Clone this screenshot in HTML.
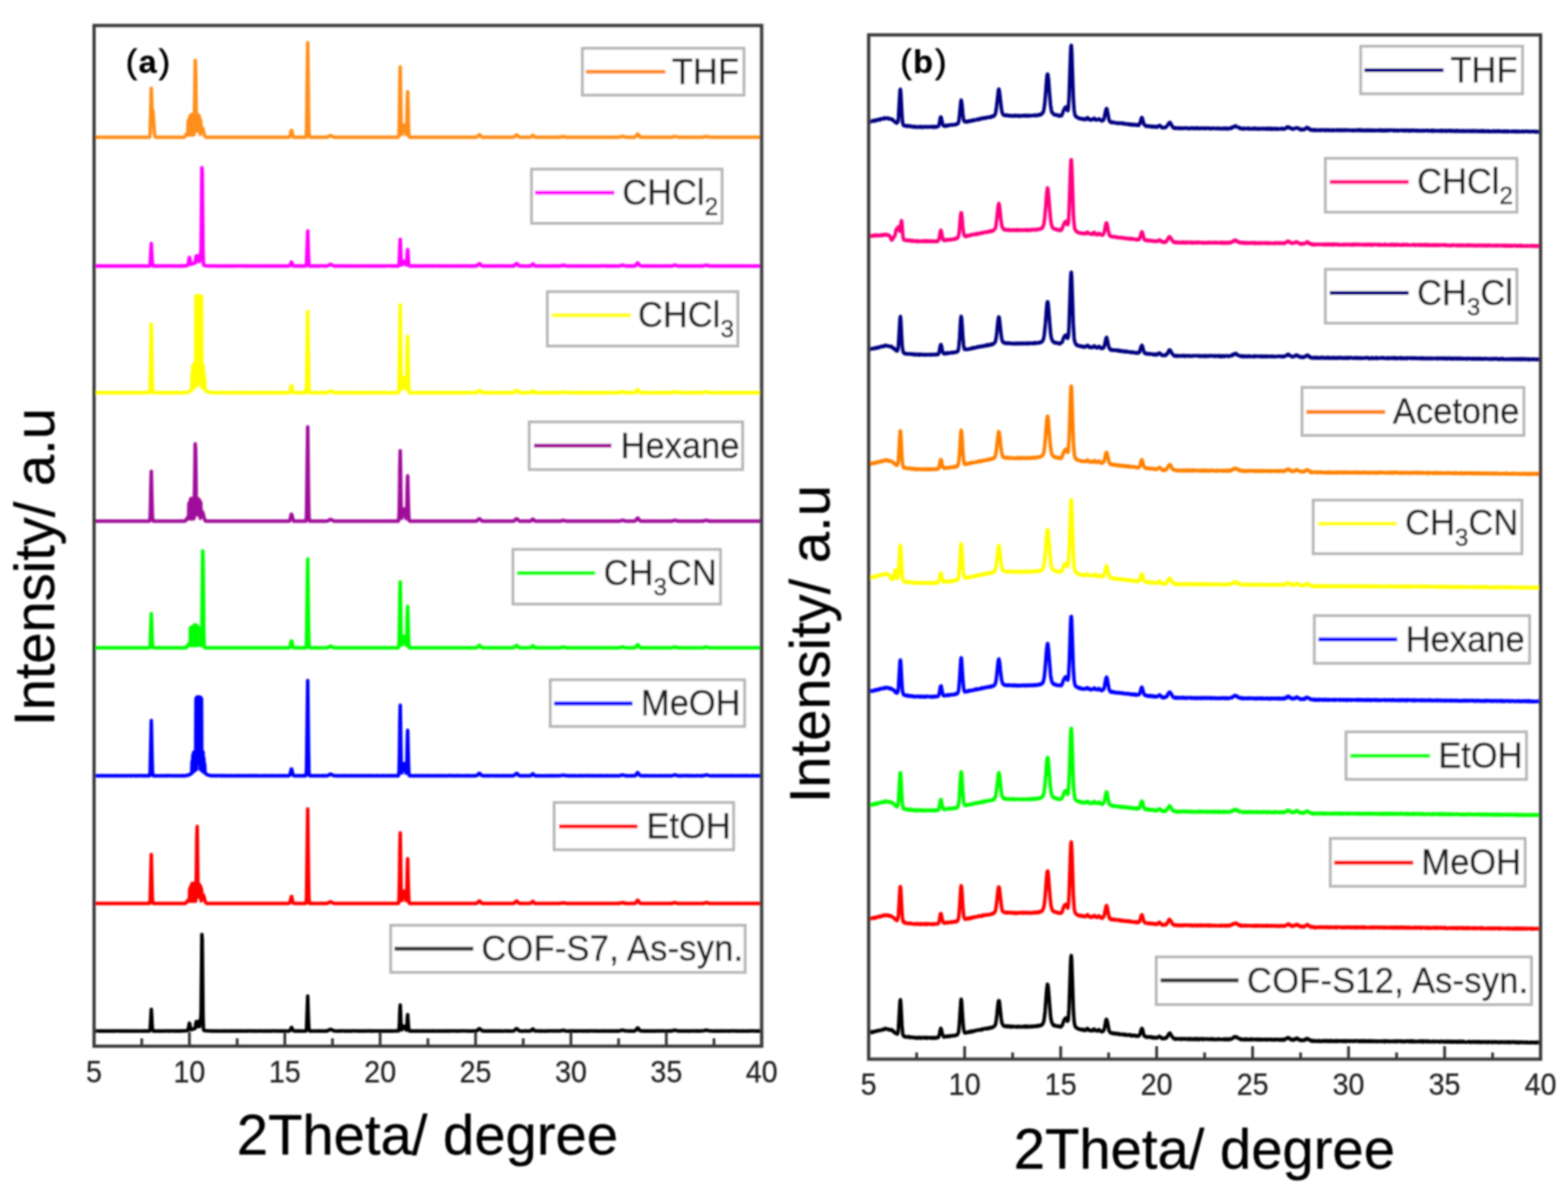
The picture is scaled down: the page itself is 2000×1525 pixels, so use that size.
<!DOCTYPE html>
<html><head><meta charset="utf-8"><title>XRD patterns</title>
<style>html,body{margin:0;padding:0;background:#fff;width:2000px;height:1525px;overflow:hidden}svg{display:block}</style>
</head><body>
<svg width="2000" height="1525" viewBox="0 0 2000 1525" font-family='"Liberation Sans", Arial, sans-serif'>
<rect width="100%" height="100%" fill="#fff"/>
<defs><filter id="soft" x="-5%" y="-5%" width="110%" height="110%"><feGaussianBlur stdDeviation="0.8"/></filter></defs>
<g filter="url(#soft)">
<path d="M120.0 175.0L121.0 175.1L123.0 174.9L124.5 175.1L125.0 174.9L126.0 174.9L126.5 175.1L127.5 174.9L128.0 175.1L130.5 174.9L131.0 175.0L133.0 174.9L134.5 175.1L137.5 174.9L138.5 175.1L141.5 174.9L142.0 175.1L143.5 175.0L144.0 175.1L145.0 174.9L146.0 175.1L146.5 175.0L147.0 175.1L148.0 174.9L149.0 175.1L150.0 174.9L151.0 175.1L152.0 174.9L153.5 174.9L154.0 175.1L154.5 174.9L156.0 174.9L156.5 175.1L158.0 174.9L159.5 174.9L160.0 175.1L161.0 174.9L161.5 175.1L162.0 174.9L163.0 175.1L164.0 174.9L164.5 175.1L165.0 174.9L166.0 175.1L167.5 174.9L171.0 175.1L173.5 174.9L174.0 175.1L175.5 174.9L176.5 175.1L177.0 174.9L177.5 175.1L180.0 174.9L180.5 175.1L181.0 174.9L182.5 175.1L184.0 174.9L184.5 175.1L185.0 174.9L186.5 175.1L187.5 174.9L188.0 175.1L188.5 174.9L190.0 175.0L190.5 174.8L191.0 174.3L191.5 170.4L193.0 112.5L194.0 145.5L194.5 140.5L195.0 141.2L197.0 169.4L197.5 172.9L198.0 174.3L198.5 174.9L199.0 174.8L199.5 175.0L200.5 175.1L201.0 174.9L201.5 175.1L202.0 174.9L203.5 175.1L205.5 175.1L206.0 175.0L209.0 175.1L212.0 174.9L213.0 175.1L214.5 175.0L216.5 175.1L217.0 174.9L217.5 175.1L218.0 174.9L218.5 175.0L219.5 174.9L221.5 175.1L222.5 174.9L223.5 175.1L224.5 174.9L225.0 175.1L228.0 174.9L230.0 175.1L232.0 174.9L233.0 175.1L234.5 175.1L236.0 174.0L237.5 171.3L238.0 171.0L238.5 171.3L239.0 172.1L239.5 172.1L240.0 154.7L240.5 172.0L241.0 152.1L241.5 171.9L242.0 149.6L242.5 171.9L243.0 147.1L243.5 172.0L244.0 147.4L244.5 172.1L245.0 146.1L245.5 171.9L246.0 146.6L246.5 171.9L247.0 147.4L247.5 171.4L248.5 116.3L249.0 77.1L249.5 84.3L250.5 161.9L251.0 146.4L251.5 167.1L252.0 146.3L252.5 166.9L253.0 148.0L253.5 166.9L254.0 147.5L254.5 167.0L255.0 151.5L255.5 171.4L256.0 153.7L256.5 167.2L257.5 163.6L258.0 163.0L258.5 163.6L259.0 165.1L260.0 169.6L261.0 173.1L261.5 174.0L262.5 174.8L263.5 175.1L264.0 175.0L266.0 175.1L267.5 174.9L268.5 175.1L270.0 174.9L270.5 175.1L273.0 174.9L273.5 175.1L275.0 174.9L276.5 175.1L277.5 174.9L278.0 175.1L278.5 174.9L279.0 175.1L279.5 174.9L280.5 175.1L281.5 174.9L285.0 175.1L285.5 174.9L291.5 175.1L292.0 174.9L293.0 175.1L294.5 174.9L296.0 175.0L296.5 174.9L297.0 175.1L298.0 175.0L300.0 175.1L300.5 174.9L302.0 175.1L304.0 174.9L305.5 175.1L307.0 174.9L308.0 175.1L308.5 174.9L309.0 175.1L309.5 174.9L311.0 175.1L313.0 174.9L313.5 175.1L314.0 174.9L318.5 174.9L321.0 175.1L322.0 175.1L322.5 174.9L324.0 175.1L325.0 174.9L325.5 175.1L326.0 174.9L326.5 175.1L327.5 174.9L328.5 175.1L329.5 174.9L330.0 175.1L331.0 175.1L331.5 174.9L332.5 175.1L333.0 174.9L335.0 175.1L335.5 174.9L336.5 175.1L339.5 174.9L340.0 175.0L342.5 174.9L343.5 175.1L344.5 174.9L345.0 174.9L345.5 175.1L347.0 174.9L349.0 175.0L349.5 174.9L350.5 175.1L351.0 174.9L352.0 175.1L354.5 174.9L355.0 175.1L357.5 175.0L359.0 175.1L360.0 174.9L360.5 175.1L368.5 174.9L369.0 174.9L369.5 174.4L370.5 171.3L371.5 166.3L372.0 166.2L373.5 172.8L374.0 174.3L374.5 174.8L376.0 175.1L376.5 174.9L377.5 175.1L380.5 174.9L381.5 175.1L382.5 175.0L384.0 175.1L385.0 175.1L385.5 174.9L386.5 175.1L387.0 174.9L387.5 175.1L388.0 174.9L390.0 175.0L390.5 173.7L391.0 166.1L392.5 54.6L393.5 139.8L394.0 167.2L394.5 174.1L395.0 174.9L395.5 175.1L397.5 174.9L399.5 175.1L400.5 174.9L401.0 175.1L401.5 175.1L402.0 174.9L402.5 175.1L403.0 175.0L404.0 175.1L404.5 174.9L407.0 175.1L408.5 174.9L409.0 175.0L410.5 174.9L411.0 175.0L413.5 174.9L416.0 175.1L417.0 174.9L418.0 174.5L418.5 174.6L420.5 173.2L421.5 173.0L423.5 173.6L424.5 174.4L425.5 174.8L426.0 174.7L428.0 175.0L430.0 174.9L430.5 175.1L433.0 174.9L434.5 175.1L435.0 174.9L436.0 175.1L437.5 174.9L440.5 175.1L441.0 174.9L442.5 175.1L444.0 174.9L444.5 175.1L445.0 174.9L448.0 175.1L448.5 174.9L451.0 175.1L452.5 174.9L453.5 175.1L454.5 174.9L456.0 175.1L458.5 174.9L460.0 175.1L461.0 174.9L464.0 174.9L466.0 175.1L467.0 174.9L468.0 175.1L469.0 174.9L471.0 175.1L472.0 175.1L472.5 174.9L473.5 175.1L474.5 174.9L475.5 175.1L476.0 174.9L477.5 175.1L479.0 174.9L479.5 175.1L481.5 175.0L482.0 175.1L483.0 175.0L485.0 175.1L485.5 175.0L489.0 175.1L492.5 174.9L493.5 175.1L494.5 174.9L496.0 174.9L496.5 175.1L497.0 174.9L499.0 175.1L500.0 174.9L501.5 175.1L502.0 174.9L504.5 175.1L507.0 174.9L507.5 175.1L508.0 174.9L508.5 174.1L509.0 168.2L509.5 145.7L510.0 105.9L510.5 85.2L511.5 149.1L512.0 169.3L512.5 171.5L514.5 161.0L515.0 159.6L515.5 159.6L516.0 161.2L518.0 171.6L518.5 170.3L519.0 155.4L519.5 129.9L520.0 117.1L521.0 158.9L521.5 171.5L522.0 174.5L522.5 174.9L525.5 175.1L526.0 174.9L527.0 174.9L527.5 175.1L528.0 174.9L528.5 175.1L529.5 175.1L530.0 174.9L531.0 175.1L531.5 174.9L533.0 175.1L534.5 174.9L536.0 175.1L536.5 174.9L537.0 175.1L537.5 174.9L539.0 174.9L539.5 175.1L541.0 174.9L542.5 175.1L544.0 174.9L545.5 175.1L547.0 174.9L548.0 175.1L550.0 174.9L550.5 175.1L551.5 174.9L555.5 175.1L556.5 174.9L558.0 175.1L559.5 174.9L560.0 175.1L560.5 174.9L562.5 175.1L563.0 174.9L564.0 175.1L565.0 174.9L567.5 174.9L568.0 175.1L568.5 175.0L570.5 175.1L572.5 174.9L574.0 175.1L576.0 174.9L580.0 175.1L581.0 174.9L582.0 175.1L584.0 174.9L585.0 175.1L585.5 175.0L586.5 175.1L587.0 174.9L587.5 175.1L589.0 174.9L590.5 175.1L591.0 174.9L591.5 175.1L593.0 174.9L593.5 175.1L594.0 174.9L594.5 175.1L596.5 174.9L597.5 175.1L599.0 174.9L599.5 175.1L600.0 174.9L600.5 175.1L601.0 174.9L602.0 175.1L602.5 174.9L603.0 175.0L604.0 174.9L605.0 175.1L607.5 174.9L608.5 174.5L609.0 174.2L609.5 173.4L611.0 172.0L611.5 172.0L612.5 172.5L614.0 174.2L615.0 174.8L615.5 174.7L616.0 175.0L616.5 174.9L617.0 175.1L618.5 175.0L621.0 175.0L621.5 175.1L626.0 175.0L626.5 175.1L627.5 174.9L628.5 175.1L634.0 174.9L634.5 175.1L637.5 174.9L638.5 175.1L640.0 175.0L640.5 175.1L641.0 174.9L642.5 175.1L643.0 174.9L643.5 175.1L644.0 174.9L645.0 175.1L645.5 174.9L647.5 174.9L648.0 175.1L651.0 174.9L651.5 175.1L652.0 174.9L653.5 175.1L654.5 174.8L655.5 174.8L656.0 174.5L658.5 172.0L660.0 172.6L661.5 174.3L663.0 175.0L663.5 174.9L664.0 175.1L665.5 174.9L666.5 175.1L667.5 174.9L669.0 175.1L670.0 174.9L673.0 175.1L674.0 174.9L675.0 175.1L676.5 174.9L677.0 174.6L677.5 174.6L679.5 172.4L680.5 173.1L681.5 174.4L683.0 175.0L685.0 174.9L686.0 175.1L686.5 174.9L688.5 175.1L689.5 174.9L695.0 175.1L695.5 174.9L696.0 175.1L696.5 174.9L699.5 175.1L700.0 174.9L701.5 175.0L702.5 174.9L704.5 175.1L705.0 174.9L706.0 174.9L708.5 175.1L709.0 174.9L709.5 175.1L711.0 175.1L713.0 174.8L714.0 175.0L715.5 174.8L716.0 174.5L716.5 174.6L717.0 174.3L718.0 174.1L719.5 174.4L720.0 174.3L721.5 174.7L722.0 175.0L722.5 174.8L724.0 175.1L724.5 174.9L725.5 175.1L726.0 174.9L727.0 175.1L727.5 174.9L730.0 174.9L730.5 175.1L732.0 174.9L733.5 174.9L734.5 175.1L735.5 175.0L736.0 175.1L737.0 174.9L741.0 175.1L747.0 174.9L749.0 175.1L751.5 174.9L752.0 175.1L753.5 174.9L755.5 175.1L757.5 174.9L758.0 175.1L758.5 175.0L760.0 175.1L760.5 174.9L762.0 174.9L762.5 175.1L764.5 174.9L767.0 175.0L767.5 174.9L769.0 175.0L769.5 174.9L771.0 175.1L772.0 174.9L775.0 175.1L775.5 174.9L778.0 174.9L780.0 175.1L780.5 174.9L781.5 175.1L782.0 174.9L783.5 175.1L784.5 174.9L785.0 175.0L785.5 174.9L788.5 175.0L790.0 174.8L791.5 174.6L792.5 174.1L794.0 173.9L796.0 174.5L796.5 174.4L798.5 174.9L800.0 175.0L802.0 174.9L803.0 175.1L805.0 174.9L808.0 175.1L809.5 174.9L810.5 174.5L811.5 173.5L812.5 171.7L813.5 170.9L814.0 171.3L816.0 174.5L818.0 175.0L819.0 174.8L819.5 175.0L824.0 175.1L824.5 175.0L825.5 175.1L826.0 174.9L828.0 175.1L829.0 174.9L832.0 175.1L836.0 174.9L837.5 175.1L838.0 174.9L839.0 175.1L840.0 174.9L841.0 175.1L841.5 174.9L843.0 175.1L844.5 174.9L845.0 175.1L846.0 175.0L850.0 175.1L851.0 174.9L852.0 175.1L853.5 174.9L855.0 175.1L855.5 174.9L856.0 175.0L858.0 174.8L858.5 174.6L859.0 174.2L859.5 174.3L860.5 173.9L866.0 175.1L867.0 174.9L869.0 175.1L869.5 175.0L871.0 175.1L871.5 174.9L872.5 174.9L873.0 175.1L873.5 174.9L875.5 174.9L877.0 175.0L880.5 174.9L881.0 175.1L882.0 174.9L883.5 175.1L884.0 174.9L884.5 175.1L885.5 175.0L886.0 175.1L887.0 174.9L888.0 175.0L889.0 174.9L889.5 175.1L892.0 175.1L893.0 174.9L895.5 175.1L897.0 174.7L898.0 174.8L898.5 174.4L901.0 174.0L903.0 174.6L903.5 174.4L904.0 174.8L905.5 174.9L906.0 175.1L906.5 174.8L907.0 175.0L909.5 175.1L911.5 174.9L912.0 175.1L913.0 174.9L915.0 175.1L919.0 174.9L921.5 175.1L922.0 174.9L922.5 175.1L924.0 174.9L924.5 175.1L925.0 175.0L925.5 175.1L926.0 174.9L927.0 175.1L927.5 174.9L929.0 175.1L930.0 174.9L931.0 175.1L931.5 174.9L932.0 175.0L933.5 174.9L934.5 175.1L937.0 174.9L937.5 175.1L942.0 175.0L942.5 174.9L943.0 175.0L945.0 175.1L945.5 174.9L946.5 175.1L947.5 174.9L949.5 175.1L950.0 174.9L950.5 175.1L951.5 174.9L952.0 175.1L954.5 175.0L955.0 175.1L955.5 174.9L956.0 175.1L957.0 174.9L957.5 175.1L959.0 175.1L959.5 174.9L960.5 175.0L961.0 174.9L962.0 175.1L963.0 174.9L963.5 175.1L965.5 175.1L966.5 174.9L968.0 174.9L969.0 175.1L970.0 174.9L971.5 175.1" fill="none" stroke="#FF8F1A" stroke-width="4.5" stroke-linejoin="round"/>
<path d="M120.0 339.2L121.0 339.2L122.0 339.1L123.5 339.3L127.0 339.1L127.5 339.3L128.0 339.1L128.5 339.3L129.0 339.1L129.5 339.3L130.0 339.2L131.0 339.3L131.5 339.1L132.5 339.3L133.5 339.1L134.0 339.3L135.0 339.1L137.0 339.2L137.5 339.1L138.0 339.3L138.5 339.1L139.5 339.3L142.5 339.1L144.0 339.3L145.0 339.2L146.5 339.3L147.0 339.1L149.0 339.3L150.0 339.1L150.5 339.3L152.0 339.1L153.5 339.3L154.0 339.1L155.5 339.3L156.0 339.1L157.5 339.2L158.0 339.1L160.5 339.3L161.0 339.2L161.5 339.3L162.0 339.1L162.5 339.3L163.5 339.1L164.5 339.3L165.0 339.1L166.0 339.3L168.0 339.1L169.5 339.3L170.5 339.1L172.0 339.3L173.0 339.1L175.0 339.1L175.5 339.3L176.5 339.1L177.5 339.3L178.0 339.1L178.5 339.3L180.5 339.1L182.5 339.3L183.0 339.1L183.5 339.3L184.5 339.1L185.5 339.3L190.5 339.2L191.0 338.9L191.5 337.1L193.0 310.6L194.0 330.9L194.5 337.4L195.0 339.1L195.5 339.3L197.5 339.1L199.0 339.3L201.0 339.1L202.0 339.3L203.0 339.1L204.5 339.3L205.5 339.1L208.0 339.3L209.0 339.1L211.0 339.3L212.5 339.1L213.0 339.3L213.5 339.1L216.0 339.1L216.5 339.3L218.0 339.1L219.5 339.3L220.0 339.1L221.5 339.3L222.0 339.1L225.0 339.3L231.5 339.0L232.0 339.2L232.5 339.1L233.0 339.3L234.0 339.1L235.0 339.1L236.0 338.8L237.0 338.9L238.0 338.7L239.5 338.3L240.0 337.1L241.5 328.3L242.0 329.1L243.0 335.6L243.5 336.9L244.0 336.9L245.0 336.2L245.5 336.3L247.0 335.6L248.5 335.2L249.0 335.4L250.0 327.3L250.5 326.4L251.0 328.6L251.5 333.0L252.0 332.7L252.5 328.5L253.0 326.1L253.5 327.6L254.0 331.5L254.5 333.4L255.5 324.7L256.0 324.9L256.5 315.3L257.5 213.8L258.0 221.0L259.0 321.4L259.5 336.4L260.0 338.3L262.0 338.7L267.0 339.3L268.0 339.1L270.0 339.3L270.5 339.1L273.0 339.0L275.5 339.3L277.0 339.3L277.5 339.1L278.5 339.3L279.5 339.1L280.0 339.3L282.5 339.1L283.5 339.3L286.0 339.1L286.5 339.3L288.0 339.1L292.5 339.3L293.5 339.1L296.5 339.2L297.0 339.1L298.0 339.3L300.0 339.1L300.5 339.3L301.5 339.1L304.0 339.1L305.0 339.3L305.5 339.1L307.0 339.1L309.5 339.2L310.0 339.3L310.5 339.1L313.0 339.2L313.5 339.1L314.0 339.3L314.5 339.1L316.0 339.3L317.0 339.1L318.5 339.3L319.5 339.1L322.0 339.3L323.5 339.2L325.5 339.3L326.0 339.1L329.0 339.3L330.5 339.1L331.0 339.3L332.0 339.2L332.5 339.3L333.5 339.1L334.0 339.3L336.5 339.1L341.5 339.3L342.0 339.1L343.0 339.3L345.5 339.1L346.0 339.3L348.0 339.1L349.0 339.3L349.5 339.1L351.5 339.3L353.0 339.1L353.5 339.2L355.0 339.1L355.5 339.3L359.0 339.3L359.5 339.2L360.0 339.3L360.5 339.1L361.0 339.3L362.5 339.3L363.0 339.1L366.5 339.3L369.0 339.0L370.0 338.4L371.5 334.3L372.0 334.4L372.5 335.3L373.5 338.1L374.0 338.9L374.5 339.2L375.0 339.1L378.5 339.3L379.5 339.1L380.0 339.3L381.5 339.1L382.0 339.2L383.0 339.1L386.5 339.3L388.5 339.1L389.0 339.3L389.5 339.1L390.0 339.1L390.5 338.9L391.0 335.9L392.5 294.6L393.5 326.1L394.0 336.2L394.5 338.8L395.0 339.3L396.0 339.3L397.0 339.2L397.5 339.3L398.5 339.1L399.0 339.3L402.0 339.1L404.0 339.3L405.5 339.2L407.0 339.3L409.0 339.1L413.0 339.1L413.5 339.3L416.0 339.1L416.5 339.3L418.0 338.9L421.0 337.2L421.5 337.1L423.5 337.8L424.5 338.6L425.5 338.9L426.5 339.0L427.0 339.3L427.5 339.2L428.0 339.3L428.5 339.1L430.0 339.1L430.5 339.3L431.5 339.1L433.0 339.3L435.0 339.1L435.5 339.3L436.0 339.1L437.5 339.3L438.5 339.1L439.0 339.3L439.5 339.1L440.0 339.3L440.5 339.1L441.5 339.1L442.5 339.3L444.0 339.1L446.0 339.3L446.5 339.1L447.5 339.3L448.5 339.1L449.5 339.3L451.0 339.1L453.5 339.3L454.0 339.2L454.5 339.3L455.0 339.2L456.5 339.3L457.0 339.1L459.5 339.3L460.5 339.1L462.0 339.1L462.5 339.3L464.5 339.2L466.0 339.3L466.5 339.1L467.0 339.3L467.5 339.1L471.0 339.3L471.5 339.1L472.0 339.3L472.5 339.1L474.0 339.3L475.5 339.1L477.0 339.3L477.5 339.1L478.0 339.2L482.0 339.1L482.5 339.3L483.5 339.3L485.5 339.1L486.0 339.3L487.5 339.1L488.0 339.3L489.0 339.1L490.0 339.3L491.0 339.1L492.0 339.3L493.5 339.1L497.5 339.1L500.5 339.3L501.0 339.1L502.5 339.1L503.0 339.3L503.5 339.1L504.0 339.3L505.0 339.3L505.5 339.1L506.0 339.3L508.0 339.2L508.5 338.9L509.0 336.7L509.5 328.1L510.0 313.1L510.5 305.2L511.5 329.5L512.0 337.2L512.5 337.8L514.0 334.6L515.0 333.2L515.5 333.3L516.0 333.7L517.5 337.0L518.0 337.8L518.5 337.5L519.0 332.3L519.5 322.9L520.0 318.2L521.0 333.3L521.5 337.9L522.0 338.9L522.5 339.2L523.0 339.2L523.5 339.3L524.0 339.2L525.5 339.3L526.0 339.1L526.5 339.3L527.0 339.1L527.5 339.3L528.5 339.1L532.0 339.3L532.5 339.1L534.0 339.3L536.0 339.1L536.5 339.3L537.0 339.1L537.5 339.3L538.0 339.1L539.0 339.2L539.5 339.1L540.5 339.3L542.0 339.1L542.5 339.3L543.0 339.1L543.5 339.3L546.5 339.1L547.0 339.3L547.5 339.1L549.5 339.3L551.5 339.1L553.0 339.3L554.0 339.1L555.0 339.3L556.5 339.1L558.5 339.1L559.0 339.3L560.0 339.1L562.0 339.3L562.5 339.1L563.0 339.3L566.0 339.1L566.5 339.3L567.5 339.2L569.0 339.3L569.5 339.1L570.0 339.3L570.5 339.1L572.0 339.3L573.0 339.1L573.5 339.3L574.0 339.2L575.5 339.3L576.0 339.1L578.5 339.3L580.5 339.3L581.0 339.1L582.0 339.1L582.5 339.3L583.5 339.1L584.5 339.3L585.0 339.1L586.5 339.3L588.5 339.1L589.0 339.3L589.5 339.1L590.5 339.3L591.0 339.1L594.0 339.3L595.0 339.1L597.0 339.3L597.5 339.1L598.5 339.3L599.5 339.1L600.5 339.3L601.5 339.1L602.0 339.3L602.5 339.1L603.0 339.2L603.5 339.1L604.5 339.3L606.0 339.1L607.0 339.2L608.0 339.0L609.0 338.4L610.0 337.1L611.5 336.2L612.5 336.8L614.0 338.4L615.0 339.1L616.0 339.2L620.0 339.1L621.0 339.3L622.0 339.1L622.5 339.3L624.0 339.1L624.5 339.2L625.0 339.1L625.5 339.3L627.5 339.1L630.0 339.3L631.0 339.1L631.5 339.3L634.5 339.1L638.5 339.3L639.0 339.1L647.0 339.3L647.5 339.1L648.5 339.3L650.0 339.1L650.5 339.3L651.5 339.1L653.5 339.3L654.5 339.0L655.0 339.2L656.0 338.7L658.5 336.1L659.0 336.4L659.5 336.3L661.0 338.0L662.0 338.8L663.0 339.1L663.5 339.0L664.5 339.2L665.5 339.1L666.5 339.3L668.0 339.2L668.5 339.3L669.0 339.2L671.0 339.2L672.0 339.3L673.5 339.2L674.5 339.3L676.0 339.2L677.0 339.0L679.5 336.6L680.0 336.8L682.0 339.0L682.5 338.9L683.5 339.3L685.0 339.3L685.5 339.1L688.5 339.3L690.5 339.1L691.0 339.3L691.5 339.2L693.5 339.3L696.0 339.2L696.5 339.1L697.0 339.2L699.5 339.3L700.0 339.1L700.5 339.2L702.5 339.1L703.0 339.3L704.5 339.1L706.0 339.3L706.5 339.1L708.0 339.3L708.5 339.1L709.5 339.3L712.0 339.1L712.5 339.3L713.0 339.1L713.5 339.3L714.0 339.1L715.5 339.1L717.0 338.4L718.5 338.3L720.0 338.5L722.0 339.1L722.5 339.0L724.0 339.3L724.5 339.1L725.0 339.3L725.5 339.1L726.0 339.3L728.5 339.3L729.0 339.1L730.0 339.3L731.5 339.1L732.5 339.3L733.0 339.1L733.5 339.3L734.0 339.1L737.0 339.3L738.0 339.1L738.5 339.3L739.5 339.1L740.0 339.3L741.0 339.1L742.0 339.3L743.5 339.1L745.5 339.3L747.5 339.1L748.5 339.3L749.0 339.1L750.0 339.3L752.0 339.1L753.0 339.3L757.5 339.2L758.0 339.3L758.5 339.2L760.0 339.3L761.0 339.1L762.0 339.3L763.0 339.1L764.5 339.3L765.0 339.1L766.0 339.3L766.5 339.1L771.5 339.1L772.0 339.3L773.5 339.1L775.5 339.2L776.0 339.1L777.0 339.3L778.5 339.1L779.5 339.3L781.0 339.1L782.0 339.2L783.0 339.1L785.0 339.3L786.5 339.2L787.0 339.3L789.0 339.3L790.0 339.0L791.0 339.0L791.5 338.6L793.0 338.4L793.5 338.1L794.0 338.3L794.5 338.2L795.5 338.3L798.5 339.3L799.0 339.3L800.0 339.0L802.0 339.3L803.5 339.1L804.0 339.3L805.5 339.1L808.5 339.3L809.0 339.0L810.0 339.0L811.5 337.7L812.0 336.7L813.0 335.4L813.5 335.3L814.0 335.5L816.0 338.6L817.0 339.1L820.0 339.3L820.5 339.1L821.5 339.3L824.0 339.1L824.5 339.3L826.0 339.1L828.5 339.3L829.0 339.1L829.5 339.2L830.5 339.1L832.0 339.3L835.0 339.1L836.5 339.3L839.0 339.1L840.0 339.3L841.0 339.2L842.0 339.3L844.0 339.1L845.0 339.3L846.5 339.3L847.0 339.1L847.5 339.2L848.0 339.1L849.0 339.2L849.5 339.1L851.0 339.3L853.0 339.1L853.5 339.3L854.5 339.3L855.5 339.1L856.5 339.2L857.5 339.0L860.5 338.1L861.0 338.3L861.5 338.1L864.0 339.0L865.0 339.2L865.5 339.1L866.0 339.3L868.0 339.1L870.5 339.3L871.5 339.1L872.0 339.3L873.0 339.3L873.5 339.1L874.0 339.3L875.5 339.1L879.5 339.2L880.5 339.1L882.0 339.2L882.5 339.1L883.0 339.3L883.5 339.1L884.0 339.3L884.5 339.1L886.0 339.3L887.0 339.1L888.0 339.3L888.5 339.1L891.0 339.3L893.0 339.1L894.0 339.3L895.5 339.1L896.0 339.3L896.5 339.0L897.5 339.1L898.0 338.7L899.0 338.5L901.0 338.3L902.0 338.3L903.5 338.9L904.0 338.8L904.5 339.1L905.0 339.0L906.0 339.3L907.5 339.1L909.0 339.3L909.5 339.1L910.5 339.3L914.5 339.1L915.0 339.3L916.0 339.1L917.0 339.3L917.5 339.1L919.0 339.3L919.5 339.1L920.5 339.3L923.5 339.1L924.5 339.3L925.0 339.1L925.5 339.2L927.5 339.1L928.0 339.3L929.0 339.2L929.5 339.3L931.0 339.1L931.5 339.2L933.0 339.1L934.0 339.3L934.5 339.1L935.0 339.3L935.5 339.1L939.5 339.3L940.0 339.1L941.0 339.3L942.0 339.1L943.5 339.2L944.5 339.1L945.5 339.3L946.0 339.1L947.5 339.1L948.0 339.3L949.0 339.1L953.0 339.3L954.0 339.2L956.0 339.3L957.0 339.1L958.5 339.3L959.5 339.1L960.5 339.3L961.5 339.3L962.5 339.1L965.0 339.3L966.0 339.1L967.0 339.3L968.5 339.3L969.5 339.1L970.0 339.3L971.0 339.2L971.5 339.3" fill="none" stroke="#FF00FF" stroke-width="4.5" stroke-linejoin="round"/>
<path d="M120.0 500.6L121.5 500.8L122.0 500.6L124.0 500.8L124.5 500.6L127.0 500.8L128.0 500.6L129.0 500.6L129.5 500.8L132.0 500.8L133.0 500.6L133.5 500.8L137.5 500.6L138.0 500.8L139.0 500.8L141.0 500.6L141.5 500.8L142.5 500.6L145.0 500.7L149.0 500.6L150.0 500.8L150.5 500.7L151.5 500.8L152.0 500.6L153.0 500.8L154.5 500.6L156.0 500.8L157.0 500.6L157.5 500.8L158.0 500.7L158.5 500.8L159.0 500.6L159.5 500.8L161.0 500.6L163.5 500.8L165.0 500.6L165.5 500.8L167.0 500.6L167.5 500.7L171.0 500.6L171.5 500.8L172.0 500.6L173.5 500.7L174.0 500.6L175.5 500.8L176.0 500.6L177.5 500.8L180.0 500.6L181.0 500.8L182.0 500.6L183.0 500.8L183.5 500.6L187.0 500.6L188.0 500.6L188.5 500.8L189.5 500.6L190.0 500.8L190.5 500.5L191.0 499.9L191.5 494.3L193.0 413.2L193.5 436.6L194.0 474.9L194.5 494.8L195.0 500.1L195.5 500.6L199.5 500.8L200.0 500.6L202.5 500.8L204.0 500.6L205.0 500.8L205.5 500.6L207.5 500.8L208.0 500.6L209.5 500.8L211.0 500.7L213.0 500.8L213.5 500.6L215.0 500.8L216.0 500.6L216.5 500.8L217.0 500.6L218.5 500.6L219.0 500.8L219.5 500.6L221.0 500.8L222.0 500.7L223.0 500.8L224.0 500.6L224.5 500.8L225.0 500.6L226.0 500.8L228.5 500.5L230.5 500.8L231.0 500.6L231.5 500.8L232.5 500.6L233.0 500.8L234.5 500.5L235.5 500.7L236.5 500.4L238.5 500.2L239.0 499.9L239.5 500.0L240.0 499.6L242.0 499.0L243.5 497.9L244.5 496.8L245.0 475.7L245.5 496.1L246.0 465.9L246.5 495.0L247.0 464.5L247.5 494.0L248.0 464.4L248.5 493.0L249.0 464.9L249.5 492.3L250.0 377.4L250.5 491.5L251.0 377.0L251.5 484.7L252.0 378.0L252.5 484.7L253.0 378.4L253.5 484.7L254.0 378.4L254.5 484.7L255.0 377.0L255.5 491.4L256.0 379.8L256.5 492.2L257.0 377.7L257.5 493.2L258.0 465.5L258.5 494.3L259.0 465.9L259.5 495.2L260.0 474.1L260.5 496.2L261.0 482.4L261.5 496.8L262.0 497.5L263.5 498.6L266.5 500.0L268.0 500.4L269.5 500.4L270.0 500.6L270.5 500.5L271.0 500.7L271.5 500.6L272.5 500.8L274.0 500.6L276.5 500.8L277.0 500.7L278.5 500.8L279.0 500.6L281.0 500.6L281.5 500.8L282.0 500.6L282.5 500.8L283.5 500.6L284.0 500.8L284.5 500.6L288.0 500.6L288.5 500.8L289.0 500.6L290.5 500.8L293.0 500.8L294.0 500.6L294.5 500.7L298.5 500.6L300.5 500.8L302.0 500.6L304.0 500.8L304.5 500.6L305.0 500.8L306.5 500.6L309.5 500.8L311.5 500.6L312.0 500.8L312.5 500.6L314.0 500.8L316.0 500.6L316.5 500.7L317.5 500.6L318.0 500.8L318.5 500.6L319.5 500.8L320.5 500.6L321.0 500.8L322.5 500.8L325.5 500.8L327.0 500.6L327.5 500.8L329.0 500.6L335.0 500.8L336.5 500.6L338.5 500.8L339.0 500.6L341.0 500.8L341.5 500.6L342.0 500.8L343.5 500.6L344.5 500.8L346.5 500.6L347.0 500.8L349.0 500.7L349.5 500.8L350.0 500.6L350.5 500.8L351.0 500.6L351.5 500.8L352.5 500.7L353.0 500.8L354.5 500.6L355.0 500.8L356.5 500.6L357.5 500.8L359.0 500.6L359.5 500.8L360.0 500.6L361.5 500.8L362.0 500.6L362.5 500.8L363.5 500.6L365.5 500.8L368.0 500.7L369.0 500.6L370.0 498.9L371.5 492.0L372.0 491.7L373.5 498.7L374.0 500.0L374.5 500.6L376.0 500.7L377.0 500.6L378.5 500.8L380.0 500.6L380.5 500.8L381.5 500.6L384.0 500.8L384.5 500.6L386.5 500.8L387.0 500.6L387.5 500.8L388.5 500.6L390.0 500.7L390.5 499.7L391.0 492.8L392.5 397.2L393.5 470.5L394.0 494.0L394.5 499.8L395.0 500.5L395.5 500.8L396.5 500.6L397.0 500.8L397.5 500.6L399.5 500.8L400.0 500.6L401.0 500.8L402.5 500.7L403.5 500.8L404.0 500.7L405.0 500.7L405.5 500.8L408.0 500.8L408.5 500.6L410.5 500.8L411.0 500.6L411.5 500.8L414.5 500.6L415.5 500.8L418.0 500.4L420.0 499.3L420.5 498.9L421.0 498.9L421.5 498.6L422.5 498.8L425.0 500.3L425.5 500.3L426.0 500.6L426.5 500.5L427.5 500.7L429.0 500.6L429.5 500.8L431.0 500.6L431.5 500.8L432.0 500.6L434.5 500.8L435.5 500.6L436.0 500.8L436.5 500.6L437.5 500.8L438.0 500.6L438.5 500.8L439.5 500.6L440.0 500.8L442.0 500.6L443.5 500.8L444.0 500.6L444.5 500.8L445.0 500.6L447.0 500.6L447.5 500.7L449.5 500.6L450.5 500.8L453.5 500.6L454.5 500.8L455.5 500.6L456.5 500.8L459.0 500.7L461.0 500.8L461.5 500.6L463.0 500.8L464.0 500.8L464.5 500.6L465.0 500.8L465.5 500.6L466.0 500.8L468.0 500.6L469.0 500.8L471.0 500.6L472.5 500.8L473.0 500.7L474.5 500.8L475.0 500.6L476.5 500.6L478.5 500.8L479.0 500.6L480.0 500.7L480.5 500.6L481.5 500.7L485.5 500.6L486.0 500.8L486.5 500.6L489.0 500.8L491.5 500.6L493.5 500.8L494.5 500.6L495.0 500.8L496.0 500.6L496.5 500.8L500.0 500.7L502.0 500.8L504.5 500.6L505.0 500.8L506.0 500.6L508.0 500.7L508.5 499.7L509.0 492.1L510.5 388.8L511.5 468.4L512.0 493.6L512.5 496.1L514.5 483.1L515.0 481.6L515.5 481.7L516.0 483.4L518.0 496.3L518.5 495.0L519.0 476.5L519.5 444.8L520.0 428.7L521.0 480.7L521.5 496.2L522.0 500.1L522.5 500.8L524.0 500.6L526.5 500.8L527.0 500.6L528.0 500.8L530.0 500.8L531.0 500.6L532.0 500.8L533.5 500.6L534.0 500.8L534.5 500.6L537.0 500.7L539.0 500.6L539.5 500.8L540.0 500.6L540.5 500.8L541.5 500.8L543.0 500.6L545.0 500.8L545.5 500.6L547.0 500.8L547.5 500.6L548.0 500.8L548.5 500.6L549.0 500.7L553.5 500.6L554.5 500.8L555.5 500.6L556.0 500.7L557.0 500.6L557.5 500.8L558.5 500.6L560.5 500.8L562.0 500.6L563.0 500.8L564.5 500.6L565.5 500.8L568.0 500.6L569.0 500.8L572.0 500.6L572.5 500.8L574.5 500.8L575.0 500.6L576.5 500.8L577.0 500.6L579.0 500.8L579.5 500.6L581.0 500.8L584.5 500.6L585.0 500.8L587.5 500.6L589.5 500.8L590.5 500.7L593.5 500.8L594.0 500.6L594.5 500.8L595.0 500.6L596.5 500.8L597.5 500.6L598.0 500.8L600.5 500.6L602.5 500.8L604.5 500.6L605.0 500.7L606.0 500.6L606.5 500.8L607.5 500.7L609.0 499.8L610.5 498.2L611.5 497.7L612.0 497.8L614.5 500.3L615.5 500.6L616.0 500.5L616.5 500.8L617.0 500.6L617.5 500.8L619.0 500.8L619.5 500.6L621.0 500.6L621.5 500.8L622.0 500.6L624.0 500.8L625.0 500.7L625.5 500.8L626.0 500.6L631.0 500.8L631.5 500.6L632.0 500.8L633.0 500.6L635.0 500.8L635.5 500.6L636.0 500.7L637.0 500.6L637.5 500.8L638.5 500.7L640.5 500.8L642.0 500.6L644.0 500.7L644.5 500.6L646.5 500.8L649.0 500.6L652.5 500.8L653.5 500.6L654.0 500.8L654.5 500.5L655.5 500.4L656.5 499.7L658.5 497.7L659.5 497.9L661.5 500.0L662.5 500.6L664.0 500.5L666.5 500.8L667.5 500.6L669.0 500.8L670.0 500.6L670.5 500.8L672.5 500.6L674.0 500.8L674.5 500.6L676.5 500.7L677.5 500.3L679.0 498.4L679.5 498.3L680.5 498.8L681.0 499.6L682.5 500.7L683.0 500.8L684.0 500.6L685.5 500.8L688.0 500.7L690.0 500.8L691.5 500.6L696.5 500.8L698.0 500.6L698.5 500.8L699.0 500.6L699.5 500.8L700.0 500.6L700.5 500.7L701.5 500.6L702.0 500.8L703.5 500.6L706.5 500.8L707.0 500.6L709.5 500.8L711.5 500.6L713.0 500.7L715.5 500.3L716.5 500.3L717.5 499.9L718.5 499.8L722.5 500.7L724.5 500.8L725.0 500.6L725.5 500.7L726.0 500.6L726.5 500.8L728.0 500.6L728.5 500.8L729.0 500.6L731.0 500.6L731.5 500.8L732.0 500.7L733.5 500.8L734.0 500.6L736.0 500.8L737.0 500.6L739.0 500.8L741.5 500.6L742.5 500.6L743.0 500.8L743.5 500.6L744.5 500.6L745.5 500.8L747.0 500.8L748.0 500.6L750.5 500.8L751.5 500.6L752.0 500.8L753.0 500.6L754.0 500.8L755.5 500.8L756.5 500.6L760.0 500.8L761.0 500.6L763.5 500.8L765.5 500.6L766.5 500.8L767.0 500.6L769.5 500.8L770.0 500.6L770.5 500.8L771.0 500.6L772.0 500.8L773.0 500.6L775.5 500.8L782.0 500.6L782.5 500.8L784.5 500.6L785.5 500.8L787.0 500.6L787.5 500.8L788.0 500.6L789.5 500.7L790.5 500.3L791.0 500.5L792.5 499.8L793.0 499.9L793.5 499.7L794.5 499.9L795.0 499.7L796.5 500.3L797.0 500.3L798.0 500.7L799.0 500.7L799.5 500.5L804.5 500.8L805.5 500.6L806.0 500.8L807.0 500.7L807.5 500.8L808.5 500.6L809.0 500.8L809.5 500.5L810.5 500.3L811.5 499.1L812.5 497.3L813.0 496.8L813.5 496.8L814.0 497.2L815.5 499.6L816.5 500.4L817.5 500.7L819.0 500.8L819.5 500.6L820.5 500.8L821.0 500.6L821.5 500.8L825.0 500.6L826.5 500.8L827.0 500.7L830.5 500.8L832.0 500.6L834.0 500.8L838.0 500.6L838.5 500.8L839.5 500.7L840.0 500.8L840.5 500.6L843.0 500.8L844.0 500.6L844.5 500.7L845.5 500.6L846.0 500.8L847.0 500.8L848.0 500.6L849.0 500.8L849.5 500.6L852.5 500.8L854.0 500.6L854.5 500.8L855.0 500.6L855.5 500.8L857.5 500.6L860.0 499.7L861.0 499.7L862.5 500.0L863.0 500.3L863.5 500.2L865.0 500.7L866.0 500.6L866.5 500.8L868.5 500.6L869.5 500.8L870.0 500.6L870.5 500.8L871.0 500.6L871.5 500.8L872.0 500.6L872.5 500.8L873.0 500.6L876.0 500.8L877.0 500.6L878.0 500.6L878.5 500.8L879.0 500.7L879.5 500.8L881.0 500.6L881.5 500.8L882.0 500.6L883.5 500.8L884.5 500.6L886.0 500.8L886.5 500.6L887.0 500.8L889.0 500.6L889.5 500.8L893.0 500.6L893.5 500.8L894.5 500.6L897.0 500.6L900.5 499.6L902.5 499.9L903.0 500.2L903.5 500.2L905.0 500.7L907.0 500.7L907.5 500.8L908.0 500.6L911.5 500.8L912.0 500.6L912.5 500.8L915.5 500.8L916.5 500.6L917.0 500.8L917.5 500.6L920.5 500.8L922.0 500.6L924.5 500.8L925.0 500.6L926.0 500.8L927.0 500.8L927.5 500.6L929.0 500.8L930.0 500.8L930.5 500.7L931.5 500.8L932.0 500.6L934.0 500.8L935.0 500.6L937.0 500.8L939.0 500.6L939.5 500.8L940.5 500.6L941.0 500.8L944.5 500.6L946.5 500.8L949.0 500.8L949.5 500.6L950.0 500.8L952.5 500.6L953.5 500.8L955.0 500.7L956.0 500.8L957.0 500.6L957.5 500.8L958.5 500.7L960.0 500.8L961.0 500.6L961.5 500.8L962.0 500.6L963.5 500.6L964.0 500.7L965.0 500.6L965.5 500.8L967.0 500.6L968.0 500.8L969.5 500.7L970.0 500.8L971.0 500.6L971.5 500.8" fill="none" stroke="#FFFF00" stroke-width="4.5" stroke-linejoin="round"/>
<path d="M120.0 664.4L121.5 664.6L122.0 664.4L125.5 664.6L126.0 664.4L127.0 664.6L128.0 664.4L128.5 664.6L129.5 664.4L131.5 664.5L133.0 664.4L134.0 664.6L134.5 664.5L135.0 664.6L135.5 664.5L136.5 664.6L137.5 664.4L138.5 664.5L139.5 664.4L140.0 664.6L141.0 664.4L142.5 664.6L143.5 664.4L144.0 664.6L144.5 664.4L145.5 664.4L146.0 664.6L146.5 664.4L148.5 664.6L151.0 664.5L151.5 664.4L153.5 664.6L154.0 664.4L155.0 664.6L156.0 664.4L157.0 664.6L157.5 664.5L159.0 664.6L159.5 664.4L161.0 664.5L163.0 664.4L164.0 664.6L165.0 664.4L165.5 664.6L167.0 664.4L168.5 664.4L169.0 664.6L170.0 664.4L171.0 664.6L171.5 664.4L174.0 664.6L176.5 664.5L177.0 664.6L178.5 664.4L179.0 664.6L180.0 664.4L180.5 664.6L182.5 664.4L183.5 664.6L184.0 664.4L186.5 664.6L187.0 664.4L189.5 664.4L190.0 664.6L191.0 664.0L191.5 659.8L192.0 644.4L192.5 616.5L193.0 601.0L194.0 645.8L194.5 660.3L195.0 663.8L195.5 664.4L197.0 664.6L198.0 664.4L199.0 664.6L200.0 664.4L200.5 664.6L201.0 664.5L201.5 664.6L203.0 664.6L203.5 664.4L204.0 664.6L205.0 664.4L206.0 664.5L206.5 664.4L207.5 664.6L209.0 664.4L209.5 664.6L210.0 664.4L211.0 664.5L211.5 664.4L212.0 664.6L212.5 664.4L213.0 664.6L216.0 664.5L216.5 664.6L217.0 664.4L218.0 664.6L219.5 664.6L221.0 664.5L221.5 664.6L222.0 664.4L225.0 664.6L226.5 664.4L227.0 664.6L229.0 664.4L230.5 664.4L231.0 664.6L232.0 664.4L232.5 664.6L233.5 664.4L234.0 664.6L235.5 664.5L236.0 664.3L237.0 663.6L238.5 660.7L239.0 660.5L240.0 661.6L240.5 661.5L241.0 642.0L241.5 661.6L242.0 640.2L242.5 661.5L243.0 636.8L243.5 661.4L244.0 635.6L244.5 661.5L245.0 636.8L245.5 661.6L246.0 636.3L246.5 661.6L247.0 636.6L247.5 660.8L248.5 605.7L249.0 566.1L249.5 573.4L250.5 651.4L251.0 637.2L251.5 656.6L252.0 637.1L252.5 656.5L253.0 636.0L253.5 656.4L254.0 638.1L254.5 656.6L255.0 638.5L255.5 660.9L256.0 640.7L256.5 656.8L257.5 653.0L258.0 652.6L258.5 653.1L259.0 654.6L260.0 659.2L261.0 662.3L262.0 664.1L263.5 664.6L264.0 664.4L264.5 664.6L265.0 664.4L268.5 664.6L269.0 664.4L270.0 664.6L270.5 664.4L272.5 664.6L274.0 664.4L274.5 664.6L275.5 664.6L276.0 664.4L276.5 664.6L277.0 664.4L278.5 664.6L279.0 664.4L281.0 664.4L282.0 664.6L282.5 664.5L283.0 664.6L284.0 664.4L285.0 664.6L287.5 664.4L289.5 664.4L291.0 664.6L292.5 664.4L293.0 664.6L294.0 664.5L296.5 664.6L297.0 664.4L297.5 664.6L300.5 664.4L301.0 664.6L301.5 664.4L302.5 664.5L305.0 664.4L305.5 664.6L306.5 664.4L307.0 664.6L308.0 664.4L308.5 664.6L309.0 664.4L310.0 664.6L310.5 664.4L311.0 664.6L311.5 664.5L312.5 664.6L314.0 664.4L314.5 664.6L315.0 664.5L316.5 664.6L318.0 664.5L318.5 664.6L319.5 664.4L320.0 664.5L320.5 664.4L321.0 664.6L321.5 664.4L324.0 664.6L324.5 664.4L326.0 664.6L326.5 664.5L327.5 664.6L329.5 664.4L334.0 664.6L336.0 664.5L337.5 664.6L339.0 664.4L339.5 664.6L340.0 664.4L342.0 664.6L343.0 664.4L343.5 664.6L344.0 664.4L345.0 664.6L346.5 664.6L347.5 664.4L348.5 664.6L349.0 664.4L350.5 664.4L351.0 664.6L352.0 664.4L352.5 664.6L353.0 664.4L354.5 664.6L355.0 664.5L357.0 664.6L357.5 664.4L358.0 664.5L358.5 664.4L359.0 664.6L359.5 664.4L361.0 664.5L361.5 664.4L362.0 664.5L363.5 664.4L364.5 664.6L366.0 664.4L366.5 664.6L368.0 664.5L368.5 664.6L369.5 663.9L370.0 662.7L371.5 655.8L372.0 655.7L372.5 657.3L373.5 662.3L374.5 664.4L376.5 664.6L378.0 664.4L379.0 664.6L379.5 664.5L380.0 664.6L380.5 664.4L382.0 664.4L383.0 664.6L385.5 664.4L386.5 664.4L387.0 664.6L390.0 664.5L390.5 663.4L391.0 655.5L392.5 544.2L393.5 629.5L394.0 656.6L394.5 663.7L395.0 664.5L396.0 664.4L396.5 664.6L397.5 664.4L398.0 664.6L398.5 664.4L400.0 664.6L401.0 664.4L402.5 664.6L405.0 664.4L406.0 664.6L408.0 664.4L409.0 664.6L409.5 664.4L410.5 664.6L411.0 664.4L412.0 664.6L412.5 664.4L413.5 664.5L415.0 664.4L416.0 664.6L419.0 663.8L419.5 663.3L421.0 662.5L422.0 662.4L423.0 662.8L425.0 664.1L425.5 664.1L426.0 664.4L428.5 664.5L429.0 664.6L430.5 664.4L431.0 664.6L431.5 664.4L433.0 664.5L434.0 664.4L434.5 664.6L435.0 664.4L437.0 664.4L437.5 664.6L438.0 664.4L438.5 664.6L439.5 664.6L440.5 664.4L441.0 664.6L441.5 664.4L443.0 664.6L445.5 664.4L446.0 664.6L448.5 664.4L449.5 664.6L451.5 664.4L453.0 664.6L455.0 664.4L456.5 664.6L457.0 664.4L458.5 664.5L459.5 664.4L460.0 664.5L460.5 664.4L461.0 664.6L462.0 664.5L462.5 664.6L463.0 664.5L463.5 664.6L464.5 664.4L466.0 664.5L466.5 664.4L467.0 664.6L467.5 664.4L468.0 664.6L470.5 664.4L471.0 664.5L472.5 664.4L473.0 664.6L475.5 664.4L476.5 664.6L477.5 664.4L478.5 664.6L479.0 664.5L479.5 664.6L480.0 664.4L481.0 664.6L482.0 664.4L482.5 664.6L484.5 664.4L487.0 664.6L488.0 664.4L489.5 664.6L490.0 664.4L490.5 664.6L491.5 664.4L492.5 664.6L493.0 664.4L495.0 664.4L495.5 664.6L496.0 664.4L497.0 664.4L498.0 664.6L498.5 664.4L499.5 664.4L500.0 664.6L500.5 664.4L501.5 664.6L502.0 664.4L503.0 664.6L504.0 664.4L505.0 664.6L505.5 664.4L506.0 664.6L506.5 664.4L507.0 664.6L507.5 664.5L508.0 664.6L508.5 663.5L509.0 657.5L509.5 635.2L510.0 595.5L510.5 574.7L511.5 638.5L512.0 658.7L512.5 660.7L514.5 650.3L515.0 649.0L515.5 649.1L516.0 650.6L518.0 661.2L518.5 659.9L519.0 645.0L519.5 619.4L520.0 606.7L521.0 648.4L521.5 660.9L522.0 664.0L523.0 664.6L523.5 664.4L525.5 664.6L526.5 664.4L527.5 664.4L528.0 664.6L528.5 664.4L533.0 664.6L533.5 664.4L534.0 664.6L534.5 664.4L535.0 664.6L536.0 664.4L539.5 664.6L541.0 664.4L541.5 664.6L542.0 664.4L542.5 664.6L545.0 664.4L548.0 664.6L549.0 664.4L549.5 664.5L550.5 664.4L551.5 664.6L552.5 664.5L553.0 664.6L554.0 664.4L555.0 664.6L558.0 664.4L558.5 664.6L561.5 664.4L564.5 664.5L565.5 664.4L566.5 664.6L568.5 664.5L570.0 664.6L570.5 664.4L571.0 664.6L571.5 664.4L573.0 664.6L575.0 664.6L576.0 664.4L578.5 664.6L579.0 664.4L579.5 664.6L580.0 664.4L582.5 664.6L583.0 664.4L584.0 664.6L585.0 664.4L587.5 664.4L588.5 664.6L590.0 664.4L591.0 664.6L592.5 664.4L593.0 664.6L593.5 664.4L595.5 664.4L596.5 664.6L597.5 664.4L599.0 664.6L599.5 664.4L602.5 664.5L603.0 664.6L603.5 664.4L605.0 664.4L605.5 664.6L607.5 664.4L609.0 663.5L611.0 661.5L611.5 661.5L613.0 662.6L614.5 664.1L616.0 664.6L617.0 664.6L618.0 664.4L618.5 664.6L620.5 664.4L621.5 664.6L622.0 664.4L623.5 664.6L624.0 664.5L626.5 664.6L627.5 664.5L629.0 664.6L629.5 664.4L630.5 664.6L631.5 664.4L632.5 664.6L633.5 664.5L634.0 664.6L634.5 664.4L636.0 664.6L636.5 664.4L640.0 664.4L641.0 664.6L641.5 664.4L642.5 664.6L645.0 664.5L646.0 664.6L646.5 664.5L649.5 664.4L650.0 664.6L652.0 664.4L653.5 664.6L655.5 664.3L658.5 661.5L660.0 662.1L661.5 663.8L663.0 664.5L663.5 664.4L664.0 664.6L664.5 664.4L667.5 664.6L670.5 664.4L672.0 664.4L672.5 664.6L673.0 664.4L673.5 664.5L674.5 664.4L675.0 664.6L676.0 664.6L677.5 664.0L679.0 662.3L680.0 662.1L682.0 664.3L685.0 664.6L686.0 664.4L689.0 664.6L689.5 664.4L690.5 664.6L691.0 664.5L692.0 664.6L693.0 664.4L695.5 664.6L696.0 664.4L701.5 664.6L702.0 664.4L702.5 664.4L703.0 664.6L704.0 664.4L706.0 664.4L706.5 664.6L708.0 664.4L710.5 664.4L712.0 664.6L712.5 664.4L713.0 664.6L713.5 664.3L714.5 664.5L717.0 663.8L719.0 663.6L722.0 664.4L724.5 664.5L725.0 664.4L726.0 664.6L727.0 664.4L727.5 664.6L728.5 664.6L729.0 664.4L729.5 664.6L732.5 664.4L733.0 664.6L734.0 664.4L735.0 664.6L735.5 664.4L739.5 664.6L740.0 664.4L742.5 664.4L743.0 664.6L744.0 664.4L744.5 664.5L746.0 664.4L746.5 664.6L747.0 664.4L748.5 664.6L750.5 664.4L751.5 664.6L752.0 664.4L755.5 664.4L756.5 664.6L759.5 664.4L761.0 664.6L761.5 664.4L762.0 664.6L763.0 664.4L764.5 664.6L768.5 664.5L770.5 664.6L771.0 664.4L772.0 664.4L772.5 664.6L773.0 664.5L775.0 664.6L776.0 664.4L777.0 664.6L782.0 664.4L782.5 664.6L783.5 664.5L784.0 664.6L785.0 664.4L788.0 664.5L790.5 664.4L793.0 663.5L795.5 663.6L796.0 664.0L796.5 663.9L797.0 664.3L798.5 664.3L799.0 664.5L799.5 664.4L801.5 664.4L802.0 664.6L803.5 664.4L804.0 664.6L804.5 664.4L807.0 664.6L807.5 664.4L808.0 664.6L810.5 664.0L812.5 661.3L813.5 660.5L814.5 661.7L815.5 663.4L816.0 663.8L817.5 664.5L819.0 664.4L819.5 664.6L820.5 664.4L822.0 664.6L823.5 664.4L827.0 664.6L829.0 664.4L829.5 664.6L830.0 664.4L831.0 664.4L832.0 664.6L832.5 664.4L833.5 664.4L837.0 664.6L838.0 664.4L838.5 664.6L839.5 664.6L840.0 664.4L841.0 664.6L843.0 664.6L844.0 664.4L844.5 664.6L846.0 664.4L846.5 664.6L847.0 664.4L848.5 664.6L849.0 664.4L849.5 664.6L852.5 664.4L853.0 664.6L855.0 664.4L856.0 664.6L856.5 664.3L857.5 664.4L861.0 663.4L863.0 663.9L864.5 664.5L865.0 664.3L865.5 664.5L866.0 664.4L867.0 664.6L868.0 664.6L868.5 664.4L870.0 664.6L870.5 664.4L873.0 664.6L873.5 664.4L875.5 664.5L877.0 664.4L878.5 664.5L881.0 664.4L881.5 664.6L882.0 664.4L882.5 664.6L883.5 664.6L884.0 664.4L885.5 664.6L887.0 664.6L887.5 664.4L888.0 664.6L889.5 664.4L890.0 664.6L890.5 664.5L892.0 664.6L893.5 664.4L895.5 664.6L896.0 664.3L897.0 664.4L899.0 663.8L901.5 663.4L902.0 663.8L903.0 663.9L903.5 664.2L905.0 664.4L905.5 664.3L906.0 664.5L906.5 664.4L907.0 664.6L910.0 664.4L911.0 664.6L912.0 664.4L914.0 664.6L914.5 664.4L915.0 664.5L916.0 664.4L919.0 664.6L920.5 664.4L925.5 664.6L926.5 664.4L931.5 664.4L932.5 664.6L933.0 664.4L933.5 664.6L935.5 664.4L936.0 664.6L936.5 664.4L939.5 664.6L943.5 664.4L944.5 664.6L945.5 664.4L946.0 664.6L946.5 664.4L947.0 664.6L947.5 664.5L948.0 664.6L948.5 664.4L950.5 664.6L951.0 664.4L951.5 664.6L952.0 664.4L953.0 664.6L956.5 664.4L957.0 664.6L957.5 664.4L963.0 664.6L965.0 664.4L965.5 664.6L967.5 664.4L968.0 664.6L968.5 664.4L969.0 664.6L970.0 664.4L971.5 664.5" fill="none" stroke="#A0109A" stroke-width="4.5" stroke-linejoin="round"/>
<path d="M120.0 826.1L120.5 825.9L121.0 826.1L121.5 825.9L122.0 826.1L122.5 825.9L123.0 826.1L124.5 826.1L125.0 825.9L126.0 826.1L127.5 825.9L128.5 826.1L129.5 825.9L130.0 826.1L132.5 825.9L134.5 826.1L135.5 826.0L137.5 826.1L138.0 825.9L139.0 825.9L139.5 826.1L141.0 825.9L142.0 826.1L142.5 825.9L143.5 825.9L144.5 826.1L146.5 825.9L147.0 826.1L148.0 825.9L149.0 826.1L149.5 825.9L150.0 826.1L151.5 825.9L152.0 826.1L153.5 825.9L155.5 826.1L157.0 825.9L157.5 826.1L158.0 826.1L158.5 825.9L160.0 826.1L160.5 825.9L161.5 826.1L165.5 825.9L166.5 826.0L169.5 825.9L171.0 826.1L171.5 826.1L172.0 825.9L172.5 826.1L175.0 825.9L175.5 826.1L176.0 825.9L176.5 826.1L180.0 825.9L181.0 826.1L182.0 825.9L182.5 826.1L183.5 826.0L184.0 826.1L185.0 825.9L187.5 826.1L188.0 826.0L188.5 826.1L189.0 825.9L189.5 826.1L190.0 825.9L190.5 826.0L191.0 825.7L191.5 822.9L193.0 782.6L193.5 794.2L194.0 813.0L194.5 823.1L195.0 825.6L196.0 826.0L197.0 825.9L198.0 826.1L198.5 826.0L199.5 826.1L201.5 825.9L202.5 826.1L203.0 825.9L203.5 826.1L204.5 826.1L205.0 825.9L205.5 826.0L206.0 825.9L208.5 826.1L209.5 825.9L210.0 826.1L210.5 825.9L212.0 826.1L212.5 826.0L216.5 826.0L217.5 826.1L218.0 825.9L218.5 826.1L219.0 825.9L220.0 826.1L220.5 825.9L221.5 826.1L223.0 825.9L224.5 826.1L227.0 826.1L227.5 825.9L228.0 826.1L231.0 825.9L232.0 826.1L234.5 825.9L235.0 826.1L236.0 825.9L236.5 826.1L238.0 825.4L240.5 821.2L241.0 821.0L241.5 821.2L242.5 823.1L243.0 800.4L243.5 823.0L244.0 800.3L244.5 823.0L245.0 799.3L245.5 823.0L246.0 799.9L246.5 823.1L247.0 799.5L247.5 823.0L248.0 797.1L248.5 823.1L249.0 796.8L249.5 823.1L250.0 796.8L250.5 823.0L251.0 799.4L251.5 823.0L252.0 798.9L252.5 816.9L253.0 800.2L253.5 816.9L254.0 802.9L254.5 816.9L255.0 802.2L255.5 822.9L256.0 802.7L256.5 823.1L257.0 821.3L257.5 800.8L258.5 702.4L259.0 713.1L260.0 810.2L260.5 823.7L261.0 825.7L261.5 826.0L266.0 826.1L266.5 825.9L267.0 826.1L267.5 825.9L270.5 825.9L272.0 826.1L273.0 825.9L274.0 826.1L276.0 825.9L276.5 826.1L278.5 825.9L280.0 826.1L281.0 825.9L282.0 826.1L282.5 825.9L285.0 826.1L285.5 825.9L287.5 826.1L290.5 825.9L291.5 826.1L294.5 825.9L295.0 826.1L295.5 825.9L296.0 826.1L297.0 825.9L297.5 826.1L298.5 826.1L299.0 825.9L300.0 825.9L300.5 826.1L301.0 825.9L302.0 826.1L304.0 826.0L304.5 826.1L307.0 825.9L308.0 826.1L308.5 825.9L310.5 826.0L311.5 825.9L312.5 826.1L313.0 825.9L315.0 826.1L316.5 825.9L317.5 825.9L318.0 826.1L318.5 826.0L320.5 826.1L322.0 825.9L325.5 826.1L326.5 825.9L327.5 826.1L329.0 825.9L329.5 826.1L330.5 825.9L333.5 826.1L334.0 825.9L334.5 826.1L336.0 825.9L337.0 826.1L338.0 825.9L340.5 826.1L341.5 826.0L342.0 826.1L343.0 825.9L345.5 826.1L347.0 825.9L350.5 825.9L351.0 826.1L351.5 825.9L353.0 826.1L355.0 825.9L355.5 826.1L356.0 825.9L356.5 826.1L357.0 825.9L358.5 826.1L360.0 825.9L360.5 826.1L361.5 826.1L362.0 825.9L363.5 826.1L365.0 826.1L365.5 825.9L366.0 826.1L367.0 826.1L367.5 825.9L368.5 826.1L369.0 826.0L369.5 825.4L370.0 824.3L371.5 817.3L372.0 817.3L373.5 824.0L374.0 825.2L375.0 826.1L377.5 826.1L378.5 825.9L379.5 826.1L380.0 825.9L380.5 826.1L381.5 825.9L383.5 826.1L384.0 825.9L385.0 826.1L385.5 825.9L387.0 825.9L388.0 826.1L389.0 825.9L389.5 826.1L390.0 825.8L390.5 825.0L391.0 817.5L392.5 712.7L393.5 792.9L394.0 818.5L394.5 825.1L395.0 825.9L395.5 826.1L398.0 825.9L399.5 826.1L400.5 826.0L401.0 826.1L401.5 826.0L407.0 826.0L407.5 825.9L409.0 826.0L409.5 825.9L411.0 826.1L411.5 825.9L413.0 826.1L415.0 825.9L416.5 826.0L417.5 825.7L418.0 825.7L420.5 824.4L421.5 824.0L423.0 824.3L423.5 824.8L424.0 824.9L424.5 825.3L426.0 825.9L427.0 825.8L427.5 826.1L428.5 825.9L429.0 826.1L430.0 825.9L430.5 826.1L431.0 825.9L432.0 826.1L432.5 825.9L434.0 825.9L434.5 826.1L435.0 825.9L436.0 826.1L436.5 825.9L438.0 826.1L439.5 825.9L440.0 826.1L442.0 826.1L442.5 825.9L443.0 826.1L443.5 825.9L444.0 826.1L445.0 825.9L446.0 826.1L447.0 825.9L447.5 826.1L449.0 826.1L449.5 825.9L453.0 826.1L454.0 825.9L455.0 826.1L456.0 825.9L459.0 826.1L459.5 825.9L460.5 826.0L461.5 825.9L463.5 826.1L464.0 825.9L465.5 825.9L467.0 826.1L467.5 825.9L468.0 826.1L469.0 826.0L469.5 826.1L470.5 825.9L472.0 826.1L473.0 825.9L474.0 826.1L476.0 825.9L477.0 826.1L477.5 825.9L478.5 826.1L479.0 825.9L479.5 826.1L480.0 825.9L480.5 826.1L481.5 825.9L483.0 825.9L483.5 826.1L484.5 825.9L485.5 826.1L489.5 825.9L490.0 826.1L490.5 826.1L491.0 825.9L491.5 826.1L493.5 825.9L495.0 826.0L497.0 825.9L497.5 826.1L500.5 825.9L502.0 826.1L504.5 825.9L506.5 826.1L508.0 825.9L508.5 825.1L509.0 819.5L509.5 798.6L510.0 761.6L510.5 742.1L511.5 802.0L512.0 820.6L512.5 822.5L514.5 812.7L515.0 811.5L515.5 811.5L516.0 813.0L518.0 822.9L518.5 821.7L519.0 808.2L519.5 784.9L520.0 773.2L521.0 811.3L521.5 822.9L522.0 825.6L522.5 826.1L524.0 826.1L524.5 825.9L525.5 826.1L526.5 825.9L527.0 826.1L527.5 825.9L528.5 826.1L532.5 825.9L533.0 826.1L533.5 825.9L534.5 826.1L535.5 825.9L536.5 826.1L538.0 825.9L540.0 826.1L540.5 825.9L541.5 826.1L542.0 826.0L543.5 825.9L544.5 826.1L545.5 825.9L546.0 826.1L546.5 825.9L548.5 825.9L549.0 826.1L550.5 825.9L551.0 826.1L551.5 825.9L552.0 826.1L552.5 825.9L553.5 826.0L554.0 825.9L556.0 826.1L557.0 825.9L558.0 826.1L558.5 825.9L560.0 826.0L562.0 826.0L563.0 826.1L563.5 826.0L564.0 826.1L565.0 825.9L567.0 826.0L567.5 825.9L568.0 826.1L570.0 826.1L570.5 825.9L571.0 826.1L571.5 825.9L572.5 826.1L576.0 825.9L577.0 826.1L578.0 825.9L579.0 826.1L580.0 825.9L580.5 826.1L581.5 825.9L582.0 826.1L582.5 826.0L584.0 826.1L584.5 825.9L585.0 826.1L586.0 825.9L588.0 825.9L588.5 826.1L589.5 825.9L590.0 826.0L591.0 825.9L591.5 826.1L592.0 825.9L594.5 826.1L596.0 825.9L598.5 826.1L599.5 825.9L601.0 826.1L602.5 826.0L605.5 826.1L606.5 825.9L607.0 826.1L608.5 825.6L611.0 823.1L611.5 822.9L612.5 823.6L614.5 825.6L616.0 826.1L619.0 825.9L621.0 826.1L622.5 825.9L623.5 826.1L625.0 825.9L627.0 826.1L628.5 825.9L630.0 826.1L632.5 825.9L633.0 826.1L634.0 825.9L634.5 826.1L635.5 825.9L638.5 825.9L639.0 826.1L640.5 826.0L641.0 826.1L642.0 825.9L643.0 826.1L644.5 826.1L645.0 825.9L645.5 826.1L647.0 825.9L647.5 826.1L648.0 825.9L649.5 826.0L651.5 825.9L653.0 826.1L654.5 826.0L656.0 825.4L656.5 825.1L658.0 823.4L659.0 823.0L660.0 823.6L661.0 824.9L662.0 825.6L663.5 826.0L664.5 825.9L665.5 826.1L669.0 825.9L669.5 826.1L670.5 825.9L671.5 826.1L675.5 826.1L676.5 825.8L677.0 825.8L678.0 825.0L678.5 824.3L679.5 823.4L680.5 824.1L682.0 825.7L682.5 826.0L683.0 825.8L683.5 826.1L685.0 825.9L685.5 826.1L686.5 825.9L688.5 825.9L689.0 826.1L690.0 825.9L691.5 826.1L692.5 826.0L693.0 826.1L693.5 825.9L694.0 826.1L694.5 825.9L697.5 826.1L699.0 825.9L703.0 825.9L703.5 826.1L707.5 825.9L710.0 826.1L711.0 825.9L712.5 826.1L714.0 825.8L715.0 825.9L715.5 825.6L716.5 825.6L717.0 825.3L717.5 825.4L718.0 825.1L720.5 825.4L722.0 825.9L723.0 825.8L724.5 826.1L726.0 825.9L728.5 826.0L730.0 825.9L733.0 826.1L733.5 825.9L734.5 826.1L735.5 825.9L736.0 826.1L737.5 826.1L739.0 825.9L739.5 826.1L740.0 825.9L741.5 826.1L744.0 825.9L744.5 826.1L745.0 825.9L745.5 826.1L746.5 825.9L747.5 826.1L748.0 825.9L748.5 826.1L749.0 825.9L750.5 825.9L751.5 826.1L753.0 825.9L755.5 826.1L757.5 825.9L758.0 826.1L758.5 825.9L759.5 826.1L760.0 825.9L760.5 826.1L762.0 825.9L763.0 826.1L766.0 826.0L766.5 826.1L767.5 825.9L768.0 826.0L768.5 825.9L769.0 826.1L769.5 825.9L770.5 826.1L771.5 826.1L772.0 825.9L772.5 826.0L773.0 825.9L773.5 826.1L775.5 825.9L779.0 826.1L780.0 826.1L780.5 825.9L781.0 826.1L782.0 825.9L784.5 826.1L785.5 825.9L786.0 826.1L788.5 825.9L789.0 826.1L789.5 826.0L791.0 825.8L793.0 825.0L795.0 825.1L796.5 825.7L799.0 826.1L800.0 825.9L800.5 826.1L801.0 825.9L802.0 826.1L803.5 825.9L805.5 826.1L806.0 826.0L806.5 826.1L808.5 825.9L809.5 826.0L811.0 825.1L813.0 822.2L813.5 822.1L814.0 822.5L816.0 825.4L817.5 826.1L821.0 825.9L822.0 825.9L822.5 826.1L823.0 826.0L824.0 826.1L825.0 825.9L829.0 826.1L830.5 825.9L831.5 825.9L832.0 826.1L833.0 826.0L833.5 826.1L834.5 825.9L835.5 826.1L836.0 825.9L838.0 826.0L838.5 825.9L839.0 825.9L839.5 826.1L840.5 825.9L841.0 826.1L842.0 825.9L843.5 826.0L844.0 825.9L844.5 826.0L848.0 826.0L849.0 826.1L849.5 825.9L850.0 826.1L851.5 826.0L852.0 826.1L854.5 825.9L856.0 826.0L856.5 825.8L858.0 825.7L859.5 825.1L860.0 825.2L861.5 825.0L862.5 825.4L863.5 825.5L864.0 825.8L864.5 825.7L865.0 825.9L867.0 825.9L868.0 826.1L869.0 825.9L870.5 826.1L871.5 825.9L872.0 826.1L872.5 825.9L875.5 826.1L876.0 825.9L877.0 826.1L877.5 825.9L880.5 825.9L881.5 826.1L884.5 826.1L885.0 825.9L887.0 826.1L887.5 825.9L889.5 826.1L890.0 825.9L891.0 825.9L892.5 826.0L893.0 826.1L895.0 825.9L896.0 826.1L896.5 825.8L897.0 825.9L898.5 825.6L899.0 825.3L899.5 825.4L900.0 825.0L901.0 824.9L904.0 825.8L905.5 826.0L910.0 825.9L910.5 826.1L911.0 825.9L913.5 826.1L915.0 825.9L915.5 826.1L916.0 826.0L916.5 826.1L918.0 825.9L918.5 826.1L920.0 825.9L921.0 826.1L921.5 825.9L922.0 826.1L922.5 825.9L923.0 826.1L924.5 826.0L925.0 826.1L926.0 825.9L927.0 826.1L928.0 825.9L929.0 826.1L930.0 826.1L930.5 825.9L932.5 826.1L933.0 825.9L934.0 826.1L934.5 825.9L935.0 826.1L937.0 825.9L937.5 826.1L938.0 825.9L939.0 826.1L939.5 825.9L941.0 826.1L941.5 825.9L944.5 826.1L945.5 825.9L946.0 826.1L949.5 825.9L950.0 826.1L950.5 826.0L952.0 826.1L953.5 825.9L955.5 826.1L956.5 825.9L959.5 826.1L960.5 825.9L962.0 826.1L962.5 825.9L963.5 826.1L965.0 825.9L965.5 826.1L966.0 825.9L966.5 826.1L967.5 825.9L968.0 826.1L970.0 825.9L971.5 825.9" fill="none" stroke="#00FF00" stroke-width="4.5" stroke-linejoin="round"/>
<path d="M120.0 989.2L123.5 989.2L124.0 989.1L127.5 989.3L128.0 989.1L128.5 989.3L130.0 989.1L131.0 989.2L133.0 989.1L135.5 989.3L136.5 989.1L137.0 989.3L141.0 989.1L142.0 989.3L142.5 989.1L143.0 989.3L144.0 989.3L147.0 989.1L150.0 989.2L151.0 989.1L152.0 989.3L156.0 989.1L157.0 989.3L157.5 989.1L158.5 989.3L159.5 989.1L160.0 989.2L161.5 989.1L162.5 989.3L163.0 989.1L164.5 989.1L165.5 989.3L167.0 989.1L168.5 989.3L169.5 989.1L171.5 989.1L172.5 989.3L173.0 989.1L173.5 989.3L175.5 989.1L177.0 989.3L178.5 989.1L180.5 989.1L181.0 989.3L181.5 989.1L183.5 989.2L185.0 989.1L186.5 989.3L187.0 989.1L188.5 989.3L189.0 989.1L190.5 989.2L191.0 988.5L191.5 984.0L193.0 918.8L194.0 968.3L194.5 984.5L195.0 988.7L196.0 989.3L196.5 989.1L197.0 989.2L197.5 989.1L198.0 989.3L199.0 989.1L200.0 989.3L204.0 989.3L205.0 989.1L207.5 989.3L208.5 989.1L209.0 989.3L210.0 989.3L211.0 989.3L211.5 989.1L213.0 989.3L213.5 989.1L214.0 989.3L214.5 989.1L217.5 989.1L219.0 989.3L220.5 989.3L221.0 989.1L221.5 989.3L222.5 989.1L224.0 989.3L226.0 989.1L226.5 989.3L227.0 989.2L229.0 989.3L230.0 989.1L230.5 989.3L231.0 989.1L232.5 989.3L233.5 989.0L236.0 989.2L236.5 988.9L237.0 989.1L237.5 988.8L238.0 988.9L238.5 988.6L240.0 988.5L240.5 988.1L241.0 988.1L241.5 987.6L242.0 987.6L243.5 986.8L244.5 985.9L245.0 970.9L245.5 985.0L246.0 962.9L246.5 984.2L247.0 959.3L247.5 983.3L248.0 959.4L248.5 982.3L249.0 958.9L249.5 981.7L250.0 890.7L250.5 980.9L251.0 889.0L251.5 973.3L252.0 890.3L252.5 973.3L253.0 888.4L253.5 973.3L254.0 889.5L254.5 973.1L255.0 888.9L255.5 981.0L256.0 889.3L256.5 981.7L257.0 890.9L257.5 982.3L258.0 958.3L258.5 983.3L259.0 958.9L259.5 984.2L260.0 966.8L260.5 985.0L261.0 973.9L261.5 985.2L262.0 986.1L264.0 987.7L267.5 988.9L269.5 988.9L271.0 989.2L272.0 989.1L272.5 989.2L273.0 989.0L275.0 989.1L275.5 989.3L278.0 989.0L280.0 989.1L281.5 989.3L283.5 989.1L285.0 989.3L285.5 989.1L287.0 989.3L288.5 989.1L289.5 989.3L295.0 989.1L295.5 989.3L296.0 989.2L298.0 989.3L299.0 989.1L301.0 989.3L302.0 989.1L302.5 989.3L303.0 989.1L304.5 989.3L306.0 989.1L306.5 989.3L309.5 989.1L310.5 989.3L312.0 989.1L313.0 989.3L314.0 989.1L314.5 989.3L315.0 989.1L316.0 989.3L318.5 989.1L320.5 989.3L321.0 989.1L322.0 989.1L322.5 989.2L323.5 989.1L325.0 989.3L325.5 989.1L326.5 989.1L327.5 989.2L329.0 989.1L329.5 989.3L331.5 989.3L332.5 989.1L333.5 989.3L335.5 989.3L336.0 989.1L337.5 989.3L340.5 989.1L341.0 989.3L342.5 989.2L343.5 989.3L344.0 989.1L344.5 989.3L345.5 989.1L347.0 989.3L348.5 989.1L351.0 989.3L352.0 989.2L352.5 989.3L354.0 989.1L355.0 989.3L357.5 989.1L358.5 989.3L362.0 989.1L362.5 989.2L364.5 989.1L365.5 989.3L366.5 989.1L368.0 989.3L369.5 988.5L370.0 987.4L370.5 985.4L371.5 980.6L372.0 980.5L373.5 987.1L374.0 988.5L375.0 989.2L376.0 989.1L377.0 989.3L378.0 989.1L379.0 989.3L380.5 989.1L381.5 989.3L383.0 989.1L383.5 989.3L387.0 989.1L389.0 989.3L390.0 989.0L390.5 988.1L391.0 980.0L392.5 867.7L393.5 953.9L394.0 981.4L394.5 988.3L395.0 989.0L396.0 989.3L396.5 989.1L397.0 989.3L399.0 989.2L400.0 989.3L400.5 989.1L401.0 989.3L402.5 989.1L403.0 989.3L403.5 989.2L404.5 989.3L405.5 989.1L407.0 989.1L407.5 989.3L413.5 989.1L414.0 989.3L415.5 989.1L416.5 989.2L417.0 989.0L417.5 989.1L419.0 988.5L421.0 987.3L422.0 987.3L423.0 987.5L424.5 988.6L425.5 989.0L426.0 988.9L429.0 989.3L429.5 989.1L431.5 989.3L432.5 989.2L434.0 989.3L434.5 989.1L435.5 989.3L437.5 989.1L438.5 989.3L439.5 989.1L442.5 989.2L443.5 989.1L444.5 989.3L445.5 989.1L446.0 989.3L447.0 989.1L447.5 989.3L448.0 989.1L451.5 989.3L452.0 989.1L453.0 989.3L453.5 989.1L455.0 989.2L456.0 989.1L457.0 989.3L457.5 989.1L459.0 989.3L460.5 989.1L461.5 989.3L463.5 989.1L464.5 989.3L465.5 989.1L468.0 989.3L470.0 989.1L473.5 989.2L474.0 989.1L475.5 989.3L477.5 989.2L478.0 989.3L479.0 989.1L479.5 989.3L480.0 989.1L480.5 989.3L482.0 989.1L483.0 989.3L484.0 989.1L485.0 989.3L485.5 989.2L486.5 989.3L488.5 989.1L489.0 989.3L489.5 989.1L490.0 989.3L491.0 989.1L492.0 989.3L492.5 989.1L493.5 989.3L494.0 989.1L494.5 989.3L496.5 989.1L497.5 989.3L498.0 989.1L498.5 989.3L499.0 989.1L499.5 989.3L500.0 989.1L503.5 989.3L504.0 989.1L506.5 989.3L507.0 989.1L507.5 989.3L508.0 989.1L508.5 988.4L509.0 982.5L509.5 960.0L510.0 920.3L510.5 899.3L511.5 963.4L512.0 983.5L512.5 985.5L514.5 975.2L515.0 973.7L515.5 973.8L516.0 975.4L518.0 985.8L518.5 984.7L519.0 969.8L519.5 944.2L520.0 931.3L521.0 973.1L521.5 985.7L522.0 988.8L523.0 989.3L523.5 989.1L524.5 989.3L525.5 989.1L526.0 989.3L527.0 989.3L528.0 989.1L529.0 989.2L531.0 989.1L531.5 989.3L532.5 989.1L534.5 989.3L535.5 989.1L536.0 989.3L536.5 989.1L538.5 989.3L539.0 989.1L542.0 989.3L544.0 989.1L546.0 989.3L546.5 989.1L547.5 989.3L548.0 989.1L549.5 989.3L550.0 989.2L551.5 989.3L553.0 989.1L555.0 989.3L559.0 989.1L560.5 989.3L561.0 989.1L562.0 989.2L562.5 989.1L563.5 989.2L564.0 989.1L565.0 989.3L566.0 989.1L568.5 989.3L570.0 989.2L571.0 989.3L571.5 989.1L572.5 989.1L576.0 989.1L576.5 989.3L577.0 989.1L577.5 989.3L578.5 989.1L579.5 989.3L580.5 989.1L581.0 989.3L581.5 989.1L582.5 989.3L583.0 989.1L583.5 989.3L584.0 989.1L584.5 989.1L585.5 989.1L586.0 989.2L588.0 989.1L589.0 989.3L590.5 989.2L591.5 989.3L592.0 989.1L593.0 989.3L595.0 989.1L595.5 989.3L596.5 989.1L600.0 989.3L602.5 989.3L603.0 989.1L604.0 989.3L605.5 989.1L606.0 989.3L608.0 988.9L608.5 988.5L609.0 988.4L610.5 986.6L611.0 986.2L611.5 986.1L612.0 986.2L614.0 988.5L616.5 989.3L621.5 989.1L622.0 989.3L625.0 989.1L629.5 989.3L631.0 989.1L632.0 989.3L633.0 989.3L633.5 989.1L636.0 989.3L637.0 989.1L638.0 989.3L641.0 989.1L642.5 989.3L644.5 989.1L645.0 989.3L647.0 989.1L648.5 989.3L649.5 989.3L650.0 989.1L651.0 989.3L653.0 989.1L654.5 989.2L656.5 988.3L658.0 986.7L658.5 986.3L659.0 986.2L660.0 986.8L660.5 987.5L661.0 987.8L662.0 988.9L662.5 989.1L664.0 989.1L664.5 989.3L665.5 989.2L666.0 989.3L667.0 989.1L668.5 989.3L669.0 989.1L669.5 989.3L671.5 989.1L672.0 989.3L672.5 989.2L673.0 989.3L674.0 989.1L675.0 989.3L676.0 989.0L676.5 989.2L677.0 989.1L678.0 988.3L679.0 987.0L679.5 986.7L680.0 986.8L681.5 988.6L683.5 989.3L685.0 989.1L686.0 989.3L687.0 989.1L687.5 989.3L688.0 989.1L688.5 989.3L689.5 989.2L696.5 989.3L698.0 989.1L698.5 989.3L699.0 989.2L700.0 989.3L700.5 989.1L701.5 989.3L703.0 989.1L703.5 989.3L704.0 989.1L705.5 989.3L706.5 989.1L709.0 989.3L709.5 989.2L710.0 989.3L711.0 989.1L712.5 989.1L713.5 989.3L718.0 988.4L720.0 988.6L722.0 989.1L724.0 989.0L724.5 989.3L727.0 989.1L727.5 989.2L731.5 989.1L732.0 989.3L733.0 989.1L733.5 989.3L735.0 989.2L737.0 989.3L738.0 989.1L738.5 989.3L740.5 989.1L741.0 989.3L743.5 989.1L744.5 989.3L746.0 989.3L746.5 989.1L748.0 989.1L749.5 989.3L751.0 989.1L752.5 989.3L753.0 989.1L754.5 989.2L755.0 989.1L755.5 989.3L757.0 989.1L757.5 989.3L758.5 989.1L760.0 989.3L766.0 989.1L766.5 989.3L767.5 989.1L768.0 989.3L768.5 989.1L769.0 989.2L771.5 989.3L772.0 989.1L773.0 989.2L774.0 989.1L775.0 989.3L775.5 989.1L776.5 989.1L777.0 989.3L778.0 989.1L778.5 989.3L782.0 989.3L782.5 989.1L783.0 989.3L783.5 989.1L784.0 989.3L785.0 989.2L788.0 989.3L789.0 989.0L789.5 989.2L791.0 989.0L792.5 988.3L793.0 988.4L794.0 988.2L795.0 988.5L796.0 988.5L797.5 989.1L798.0 989.0L799.0 989.2L800.0 989.1L800.5 989.3L801.5 989.3L802.0 989.1L802.5 989.3L805.5 989.1L806.0 989.3L808.5 989.1L809.0 989.3L809.5 989.0L810.0 989.1L810.5 988.9L811.0 988.4L813.0 985.2L814.0 985.5L815.0 987.3L816.5 988.8L818.0 989.2L819.5 989.3L820.0 989.1L824.5 989.3L825.0 989.1L826.5 989.1L827.5 989.3L828.0 989.1L828.5 989.3L830.0 989.3L831.0 989.1L832.0 989.3L834.5 989.1L835.0 989.3L839.5 989.2L840.0 989.3L840.5 989.1L843.0 989.3L844.0 989.1L844.5 989.3L845.5 989.3L846.5 989.1L848.0 989.3L849.0 989.1L850.0 989.3L850.5 989.1L851.0 989.3L852.0 989.1L852.5 989.3L853.0 989.1L853.5 989.3L854.5 989.3L857.0 989.2L858.5 988.8L859.0 988.4L861.0 988.1L863.5 988.7L864.0 989.0L864.5 988.9L865.0 989.2L866.5 989.1L867.0 989.2L867.5 989.1L868.5 989.3L870.0 989.1L871.0 989.3L871.5 989.1L874.5 989.1L876.0 989.3L876.5 989.1L878.0 989.1L878.5 989.3L879.0 989.1L880.5 989.3L882.5 989.1L883.0 989.3L883.5 989.1L884.0 989.3L887.5 989.2L888.0 989.3L888.5 989.1L891.0 989.1L892.0 989.3L893.0 989.1L893.5 989.3L894.5 989.3L895.0 989.0L896.0 989.2L897.0 989.0L897.5 989.1L900.5 988.1L901.5 988.3L902.0 988.2L904.0 988.9L906.5 989.3L907.5 989.1L908.5 989.3L909.0 989.1L909.5 989.2L911.0 989.1L911.5 989.3L912.0 989.2L913.0 989.3L914.0 989.1L914.5 989.3L916.0 989.3L918.0 989.1L919.5 989.3L920.5 989.1L922.0 989.3L923.0 989.1L923.5 989.3L924.5 989.1L925.0 989.3L926.0 989.1L926.5 989.3L929.0 989.1L930.0 989.2L932.5 989.1L933.0 989.3L934.5 989.1L935.0 989.2L935.5 989.1L937.0 989.3L938.5 989.2L939.0 989.1L940.0 989.3L941.0 989.1L943.5 989.3L944.0 989.1L946.0 989.3L948.0 989.1L950.0 989.3L951.0 989.1L951.5 989.3L952.0 989.1L952.5 989.3L953.0 989.1L953.5 989.3L954.0 989.1L955.0 989.3L956.0 989.2L956.5 989.3L958.0 989.2L958.5 989.3L959.0 989.1L963.0 989.3L963.5 989.1L964.0 989.3L965.0 989.1L966.0 989.3L969.0 989.1L969.5 989.2L970.0 989.1L971.5 989.3" fill="none" stroke="#0000FF" stroke-width="4.5" stroke-linejoin="round"/>
<path d="M120.0 1152.0L121.0 1152.1L121.5 1151.9L123.0 1152.0L124.0 1151.9L125.0 1152.1L126.5 1151.9L127.5 1152.1L128.0 1152.0L128.5 1152.1L129.0 1151.9L129.5 1152.1L130.5 1151.9L132.0 1152.1L132.5 1151.9L133.5 1152.1L135.0 1151.9L135.5 1152.1L136.0 1152.0L136.5 1152.1L137.0 1151.9L137.5 1152.1L138.5 1152.1L139.0 1151.9L140.0 1151.9L140.5 1152.1L141.0 1152.0L141.5 1152.1L142.0 1152.0L143.0 1152.1L143.5 1151.9L144.5 1152.1L146.0 1151.9L146.5 1152.1L147.0 1151.9L147.5 1152.0L149.0 1151.9L150.0 1152.1L150.5 1151.9L151.5 1152.1L153.0 1151.9L153.5 1152.1L155.0 1151.9L156.0 1152.1L157.0 1151.9L157.5 1152.1L158.5 1151.9L161.0 1152.1L164.0 1151.9L165.0 1152.1L166.5 1152.1L167.5 1151.9L168.0 1152.1L168.5 1151.9L169.5 1152.1L171.0 1151.9L172.0 1152.0L174.0 1151.9L175.0 1152.1L178.0 1152.0L178.5 1152.1L179.5 1151.9L181.5 1151.9L182.0 1152.1L183.0 1152.0L183.5 1152.1L184.0 1151.9L185.0 1152.1L186.5 1152.0L187.0 1152.1L188.0 1151.9L190.0 1152.0L190.5 1151.9L191.0 1151.4L191.5 1147.5L193.0 1089.5L194.0 1133.5L194.5 1147.8L195.0 1151.3L195.5 1151.9L196.0 1152.1L198.0 1151.9L199.5 1152.1L200.0 1151.9L202.0 1152.1L202.5 1151.9L203.0 1152.1L204.0 1151.9L205.0 1152.1L205.5 1151.9L207.0 1152.1L208.0 1151.9L212.0 1152.1L213.0 1151.9L213.5 1152.1L214.0 1152.0L215.0 1152.1L215.5 1151.9L216.0 1152.1L216.5 1151.9L220.0 1151.9L221.0 1152.1L223.0 1151.9L223.5 1152.1L224.5 1151.9L227.5 1152.1L228.0 1151.9L229.0 1151.9L231.5 1152.1L233.0 1151.9L233.5 1152.1L235.5 1152.0L236.5 1151.8L237.5 1150.9L239.5 1148.1L240.0 1148.0L240.5 1148.2L241.0 1148.9L241.5 1149.0L242.0 1133.6L242.5 1149.1L243.0 1130.7L243.5 1149.0L244.0 1129.3L244.5 1148.9L245.0 1126.4L245.5 1149.1L246.0 1126.5L246.5 1149.1L247.0 1126.7L247.5 1149.0L248.0 1126.6L248.5 1148.9L249.0 1127.3L249.5 1149.1L250.5 1111.6L251.0 1067.4L251.5 1053.8L252.5 1129.8L253.0 1127.0L253.5 1144.0L254.0 1127.4L254.5 1143.9L255.0 1128.9L255.5 1144.1L256.0 1130.8L256.5 1148.7L257.0 1133.7L257.5 1144.9L258.0 1142.8L258.5 1141.6L259.0 1141.0L259.5 1141.5L260.0 1142.9L261.5 1148.9L262.0 1150.2L263.0 1151.4L264.0 1152.0L264.5 1152.1L265.0 1151.9L265.5 1152.0L267.0 1151.9L268.5 1152.1L270.5 1151.9L271.0 1152.1L272.0 1151.9L273.5 1152.1L274.5 1151.9L275.0 1152.1L277.5 1152.0L279.0 1152.1L280.0 1151.9L280.5 1152.0L286.5 1151.9L287.5 1152.1L288.0 1151.9L289.5 1152.1L290.5 1151.9L292.0 1152.1L293.0 1151.9L296.0 1152.1L296.5 1151.9L297.0 1152.1L297.5 1151.9L298.5 1151.9L300.0 1152.1L300.5 1151.9L302.0 1152.1L303.0 1151.9L303.5 1152.1L304.0 1151.9L304.5 1152.1L305.0 1151.9L305.5 1152.1L306.0 1151.9L308.0 1152.0L310.5 1151.9L311.5 1152.1L312.5 1151.9L314.0 1152.1L314.5 1151.9L316.0 1152.1L319.5 1151.9L320.5 1152.1L323.0 1151.9L323.5 1152.1L324.5 1151.9L326.0 1152.1L328.5 1151.9L329.5 1152.1L331.5 1152.1L332.5 1151.9L335.0 1152.1L337.0 1151.9L339.0 1152.1L340.0 1151.9L341.0 1152.1L341.5 1151.9L342.5 1152.1L343.0 1151.9L344.0 1152.1L345.0 1151.9L345.5 1152.1L348.5 1152.1L349.5 1151.9L351.5 1152.1L352.0 1151.9L353.5 1152.0L355.0 1151.9L356.5 1152.1L357.0 1151.9L358.0 1152.1L360.5 1151.9L363.0 1152.1L365.0 1151.9L365.5 1152.1L366.5 1151.9L367.0 1152.0L368.5 1151.8L369.5 1151.3L370.0 1150.2L371.5 1143.5L372.0 1143.2L373.5 1150.0L374.5 1151.8L377.5 1152.1L378.0 1151.9L379.0 1152.0L381.0 1151.9L381.5 1152.1L382.0 1151.9L383.5 1152.1L385.5 1151.9L386.5 1152.1L388.5 1151.9L390.0 1152.0L390.5 1150.8L391.0 1143.0L392.5 1031.6L393.5 1116.7L394.0 1144.3L394.5 1150.9L395.0 1152.0L397.0 1151.9L398.0 1152.1L401.0 1151.9L402.5 1152.1L404.0 1152.0L405.5 1152.1L406.0 1151.9L408.5 1152.0L410.0 1151.9L411.0 1152.1L411.5 1151.9L412.0 1152.1L413.0 1151.9L414.0 1152.1L414.5 1151.8L415.0 1152.1L416.0 1152.0L416.5 1151.8L417.0 1151.9L418.5 1151.5L420.0 1150.5L421.5 1149.9L422.5 1150.2L424.5 1151.4L425.0 1151.5L425.5 1151.8L428.0 1152.1L428.5 1151.9L430.0 1152.0L430.5 1151.9L433.0 1152.1L434.0 1151.9L435.0 1152.1L436.0 1151.9L436.5 1152.1L437.5 1151.9L438.5 1152.1L440.0 1151.9L442.5 1152.1L443.5 1151.9L447.0 1151.9L447.5 1152.1L448.0 1151.9L448.5 1152.1L449.5 1151.9L450.0 1152.1L450.5 1151.9L452.5 1152.1L453.5 1151.9L454.0 1152.1L454.5 1152.1L456.5 1151.9L457.0 1152.1L458.0 1152.1L458.5 1151.9L459.5 1151.9L460.0 1152.1L460.5 1151.9L462.0 1152.1L462.5 1151.9L463.5 1152.1L465.0 1152.1L465.5 1151.9L466.5 1152.1L467.0 1151.9L468.0 1151.9L469.0 1152.1L469.5 1151.9L470.5 1152.1L471.0 1151.9L473.0 1152.1L474.5 1151.9L475.5 1152.1L476.0 1151.9L477.5 1152.1L478.0 1151.9L480.0 1151.9L480.5 1152.1L481.0 1151.9L483.0 1152.1L486.0 1151.9L487.0 1152.0L488.0 1151.9L489.0 1152.1L490.5 1151.9L491.5 1152.1L492.0 1151.9L493.5 1152.1L494.5 1151.9L495.0 1152.1L495.5 1151.9L496.5 1152.1L497.0 1152.0L497.5 1152.1L501.5 1151.9L502.5 1152.1L503.5 1151.9L504.0 1152.1L505.0 1152.1L508.0 1152.0L508.5 1151.1L509.0 1145.0L509.5 1122.5L510.0 1083.0L510.5 1062.1L511.5 1126.3L512.0 1146.4L512.5 1148.3L514.5 1138.0L515.0 1136.5L515.5 1136.7L516.0 1138.1L518.0 1148.4L518.5 1147.6L519.0 1132.8L519.5 1107.6L520.0 1095.1L521.0 1136.1L521.5 1148.4L522.0 1151.5L522.5 1152.0L523.0 1152.1L524.0 1151.9L524.5 1152.1L527.0 1151.9L529.5 1152.1L532.0 1151.9L533.0 1152.1L533.5 1152.0L534.5 1152.1L535.5 1151.9L536.5 1152.1L538.0 1151.9L539.0 1152.1L539.5 1151.9L541.0 1152.1L542.0 1151.9L544.0 1152.1L544.5 1151.9L545.0 1152.1L545.5 1151.9L551.0 1152.1L552.5 1151.9L554.0 1152.1L555.0 1151.9L556.0 1152.0L556.5 1151.9L557.0 1152.1L558.0 1151.9L558.5 1152.1L560.0 1151.9L561.0 1152.1L561.5 1151.9L562.5 1152.1L563.5 1152.1L564.0 1151.9L565.0 1152.1L566.5 1151.9L567.5 1152.1L568.0 1151.9L569.5 1151.9L570.0 1152.1L570.5 1151.9L571.0 1152.1L571.5 1152.0L573.0 1151.9L574.0 1152.1L575.0 1151.9L576.5 1152.1L577.0 1152.0L578.5 1152.1L579.5 1151.9L580.5 1152.1L581.0 1151.9L583.0 1152.1L583.5 1151.9L584.5 1152.0L585.5 1151.9L586.5 1152.1L587.0 1151.9L587.5 1152.1L589.5 1151.9L590.0 1152.1L593.0 1151.9L597.5 1152.1L598.0 1151.9L599.0 1152.1L599.5 1151.9L601.0 1152.1L601.5 1151.9L603.5 1152.1L604.0 1151.9L604.5 1152.1L606.5 1152.1L608.5 1151.6L609.5 1150.6L610.0 1149.9L611.0 1149.0L612.0 1149.1L613.5 1150.8L615.0 1151.9L615.5 1151.9L620.5 1152.0L621.0 1151.9L621.5 1152.1L622.0 1151.9L622.5 1152.1L624.5 1152.0L625.5 1152.1L627.0 1151.9L627.5 1152.1L628.5 1151.9L629.0 1152.1L629.5 1151.9L630.5 1152.1L631.5 1151.9L632.0 1152.1L633.0 1151.9L634.0 1152.0L635.0 1151.9L638.0 1152.1L639.5 1151.9L641.5 1151.9L642.0 1152.1L643.0 1152.0L645.5 1152.1L646.0 1151.9L648.0 1152.1L648.5 1151.9L652.5 1151.9L653.5 1152.1L655.0 1152.0L656.0 1151.5L657.0 1150.6L657.5 1149.8L659.0 1148.9L660.0 1149.6L661.0 1150.9L662.0 1151.7L662.5 1151.7L663.5 1152.1L664.5 1151.9L666.0 1152.1L666.5 1151.9L668.0 1152.1L668.5 1151.9L673.0 1152.1L674.5 1151.9L675.0 1152.0L676.0 1151.9L677.0 1151.7L679.5 1149.4L681.5 1151.4L682.5 1151.9L683.0 1151.8L684.0 1152.1L684.5 1151.9L685.0 1151.9L685.5 1152.1L688.0 1151.9L688.5 1152.1L689.0 1152.0L690.5 1152.1L693.5 1151.9L695.0 1152.1L695.5 1151.9L696.0 1152.1L698.5 1152.1L699.0 1151.9L700.0 1151.9L701.5 1152.1L702.0 1151.9L702.5 1152.1L704.0 1151.9L705.0 1152.1L706.5 1151.9L707.0 1152.0L707.5 1151.9L708.0 1152.0L709.5 1151.9L710.0 1152.1L710.5 1151.9L712.0 1152.1L715.0 1151.7L715.5 1151.8L716.5 1151.5L719.0 1151.1L720.0 1151.3L720.5 1151.6L723.0 1152.0L725.5 1151.9L727.5 1152.1L729.0 1151.9L729.5 1152.1L732.5 1151.9L733.5 1152.0L735.5 1151.9L736.0 1152.1L737.5 1151.9L738.0 1152.1L738.5 1151.9L739.5 1151.9L740.0 1152.1L740.5 1151.9L741.0 1152.1L743.0 1152.1L745.0 1152.0L746.0 1152.1L747.0 1151.9L749.5 1152.0L750.0 1151.9L750.5 1152.1L751.0 1151.9L753.0 1152.1L753.5 1151.9L754.5 1152.1L755.5 1151.9L758.0 1152.1L760.5 1151.9L762.0 1152.1L762.5 1152.0L763.0 1152.1L763.5 1151.9L765.5 1152.1L767.0 1151.9L769.5 1152.1L770.0 1151.9L770.5 1152.1L773.5 1151.9L774.0 1152.1L774.5 1152.0L776.0 1152.1L776.5 1152.0L777.5 1152.1L779.0 1151.9L781.0 1152.1L781.5 1151.9L782.5 1152.1L783.5 1151.9L784.0 1152.1L787.0 1151.9L788.0 1152.1L789.0 1151.8L790.0 1151.9L791.5 1151.4L792.0 1151.4L792.5 1151.2L794.0 1151.0L795.5 1151.1L796.5 1151.7L797.0 1151.6L797.5 1151.9L799.0 1151.8L799.5 1152.1L801.0 1152.0L802.0 1152.1L804.0 1151.9L807.0 1152.1L808.0 1151.9L809.0 1152.1L810.0 1151.8L811.0 1151.1L813.0 1148.0L813.5 1147.9L814.0 1148.3L816.0 1151.4L816.5 1151.8L818.5 1152.1L819.5 1151.9L820.5 1152.1L821.0 1151.9L822.5 1152.0L824.0 1151.9L825.5 1151.9L827.0 1152.1L827.5 1151.9L829.0 1152.1L830.0 1151.9L831.0 1152.1L831.5 1151.9L832.0 1152.1L832.5 1152.0L833.0 1152.1L833.5 1151.9L835.0 1151.9L836.5 1152.1L837.5 1151.9L838.5 1152.1L839.0 1151.9L840.5 1152.1L841.5 1151.9L842.0 1152.1L842.5 1151.9L843.0 1152.1L844.5 1151.9L846.5 1152.1L847.0 1151.9L849.0 1152.1L849.5 1151.9L851.0 1152.1L851.5 1151.9L852.5 1152.0L853.0 1151.9L853.5 1152.1L854.0 1151.9L855.5 1152.0L857.0 1151.7L857.5 1151.9L858.5 1151.4L861.0 1150.9L864.0 1151.9L867.0 1152.1L868.0 1151.9L868.5 1152.1L869.0 1151.9L870.5 1152.0L871.0 1151.9L872.5 1152.1L873.0 1152.0L874.0 1152.1L875.5 1151.9L876.0 1152.1L876.5 1151.9L879.0 1152.1L879.5 1151.9L880.0 1152.1L880.5 1151.9L881.5 1152.1L882.0 1152.0L882.5 1152.1L885.0 1152.1L886.0 1151.9L887.5 1152.1L888.0 1151.9L889.0 1152.1L891.0 1151.9L892.0 1152.1L893.5 1151.9L894.5 1152.1L896.0 1151.8L897.0 1152.0L899.5 1151.3L900.0 1151.0L901.5 1151.0L903.0 1151.3L903.5 1151.7L904.0 1151.6L904.5 1151.9L905.0 1151.8L905.5 1152.0L907.0 1151.9L907.5 1152.1L908.0 1151.9L908.5 1152.1L909.0 1151.9L910.0 1151.9L910.5 1152.1L911.0 1151.9L912.5 1152.1L914.0 1151.9L914.5 1152.0L917.0 1151.9L917.5 1152.1L918.5 1151.9L919.0 1152.1L921.5 1151.9L922.5 1152.1L923.0 1151.9L925.5 1152.1L926.0 1151.9L926.5 1151.9L927.0 1152.1L928.0 1151.9L930.0 1152.0L930.5 1152.1L931.0 1151.9L932.0 1152.1L932.5 1151.9L933.0 1152.1L934.5 1151.9L935.0 1152.1L935.5 1151.9L936.0 1152.1L937.0 1152.1L937.5 1151.9L938.0 1152.1L938.5 1151.9L939.0 1152.1L940.0 1151.9L941.0 1152.1L941.5 1151.9L943.0 1152.1L944.0 1151.9L946.5 1152.1L948.0 1151.9L951.0 1152.0L952.0 1151.9L953.0 1152.1L954.5 1152.1L955.0 1151.9L955.5 1152.1L956.5 1152.0L958.0 1152.1L958.5 1151.9L960.0 1152.1L962.0 1151.9L962.5 1152.1L963.0 1151.9L964.0 1152.1L965.0 1151.9L967.5 1152.0L969.0 1151.9L970.5 1152.1L971.0 1151.9L971.5 1151.9" fill="none" stroke="#FF0000" stroke-width="4.5" stroke-linejoin="round"/>
<path d="M120.0 1314.5L120.5 1314.6L124.5 1314.5L127.5 1314.7L128.0 1314.5L129.0 1314.7L130.0 1314.5L131.0 1314.7L133.0 1314.5L133.5 1314.7L134.0 1314.5L136.5 1314.7L138.0 1314.5L139.0 1314.7L139.5 1314.5L140.0 1314.7L144.0 1314.5L144.5 1314.7L146.0 1314.6L147.0 1314.7L148.0 1314.5L149.5 1314.5L150.0 1314.6L151.0 1314.5L151.5 1314.7L154.0 1314.6L154.5 1314.7L155.0 1314.5L156.0 1314.7L157.5 1314.5L159.5 1314.7L160.0 1314.5L161.0 1314.7L162.0 1314.5L162.5 1314.7L163.5 1314.5L165.5 1314.7L168.5 1314.5L169.0 1314.7L172.0 1314.6L173.0 1314.7L174.0 1314.5L175.0 1314.7L176.5 1314.5L177.0 1314.7L179.0 1314.7L179.5 1314.6L180.0 1314.7L181.0 1314.5L181.5 1314.7L184.5 1314.5L186.0 1314.7L187.0 1314.6L189.0 1314.7L189.5 1314.5L190.0 1314.7L190.5 1314.7L191.0 1314.2L191.5 1312.5L193.0 1287.0L193.5 1294.4L194.0 1306.5L194.5 1312.8L195.0 1314.3L195.5 1314.7L196.5 1314.5L197.5 1314.7L198.5 1314.5L199.0 1314.7L200.5 1314.7L201.0 1314.5L201.5 1314.7L202.0 1314.5L205.5 1314.7L207.0 1314.5L208.0 1314.7L208.5 1314.5L209.0 1314.7L209.5 1314.5L210.5 1314.7L213.0 1314.5L213.5 1314.6L214.0 1314.5L215.0 1314.7L216.0 1314.5L217.0 1314.7L218.5 1314.5L220.5 1314.5L221.5 1314.7L223.0 1314.5L223.5 1314.7L224.0 1314.5L224.5 1314.7L225.0 1314.5L226.0 1314.7L227.5 1314.5L228.5 1314.7L229.0 1314.5L230.5 1314.7L231.0 1314.4L231.5 1314.6L232.5 1314.4L233.0 1314.6L234.0 1314.4L234.5 1314.6L239.5 1314.1L240.0 1312.7L241.5 1304.6L242.0 1305.5L243.0 1311.4L243.5 1312.8L244.0 1312.9L244.5 1312.6L245.0 1312.6L245.5 1312.3L246.5 1312.2L247.0 1311.8L248.5 1311.6L249.0 1311.2L250.0 1303.7L250.5 1302.6L251.0 1304.9L251.5 1309.0L252.0 1308.6L253.0 1302.5L253.5 1303.9L254.0 1307.6L254.5 1309.0L255.5 1300.2L256.0 1300.2L256.5 1291.1L257.5 1191.5L258.0 1198.7L259.0 1297.3L259.5 1311.8L260.0 1313.8L260.5 1314.1L261.0 1314.0L265.0 1314.6L267.5 1314.5L270.0 1314.7L271.0 1314.5L272.5 1314.7L273.0 1314.5L274.0 1314.7L275.5 1314.5L276.0 1314.7L276.5 1314.5L277.0 1314.7L278.5 1314.7L279.0 1314.5L279.5 1314.7L280.5 1314.7L281.5 1314.6L282.0 1314.7L282.5 1314.5L283.0 1314.7L285.5 1314.5L286.0 1314.7L287.0 1314.5L289.0 1314.7L293.0 1314.5L294.0 1314.7L295.5 1314.5L296.0 1314.7L296.5 1314.5L297.0 1314.7L299.0 1314.5L299.5 1314.7L300.0 1314.5L300.5 1314.7L301.5 1314.5L303.0 1314.7L303.5 1314.5L304.0 1314.7L304.5 1314.5L306.0 1314.7L307.0 1314.5L307.5 1314.7L308.5 1314.5L312.0 1314.7L313.0 1314.6L314.0 1314.7L315.0 1314.5L316.0 1314.5L316.5 1314.7L318.5 1314.5L319.5 1314.6L320.5 1314.5L321.0 1314.7L322.5 1314.5L323.5 1314.7L324.0 1314.5L324.5 1314.7L325.0 1314.5L326.5 1314.7L329.5 1314.5L331.5 1314.7L332.0 1314.5L333.5 1314.6L334.0 1314.5L334.5 1314.7L339.0 1314.5L339.5 1314.7L340.5 1314.5L344.5 1314.7L345.0 1314.5L346.0 1314.7L346.5 1314.5L347.0 1314.7L347.5 1314.5L352.0 1314.5L353.0 1314.7L354.0 1314.6L354.5 1314.7L356.0 1314.5L356.5 1314.7L357.0 1314.5L357.5 1314.7L358.0 1314.5L358.5 1314.7L359.0 1314.5L359.5 1314.7L361.0 1314.5L363.5 1314.7L364.5 1314.5L365.5 1314.7L367.0 1314.7L368.5 1314.7L369.5 1314.4L370.5 1312.8L371.5 1310.3L372.0 1310.1L373.5 1313.5L374.0 1314.2L375.5 1314.7L378.5 1314.6L379.0 1314.5L380.0 1314.7L381.0 1314.5L383.0 1314.7L383.5 1314.6L387.0 1314.7L389.0 1314.5L390.0 1314.7L390.5 1314.2L391.0 1311.4L392.5 1270.0L393.5 1301.7L394.0 1311.6L394.5 1314.1L395.5 1314.7L397.0 1314.7L398.0 1314.5L399.0 1314.7L401.0 1314.7L401.5 1314.5L402.5 1314.5L403.0 1314.7L406.5 1314.5L407.0 1314.7L408.0 1314.5L410.5 1314.7L411.0 1314.5L411.5 1314.7L415.5 1314.5L416.5 1314.7L417.0 1314.4L417.5 1314.5L418.0 1314.3L419.5 1313.4L421.5 1312.6L422.5 1312.8L426.0 1314.5L426.5 1314.3L427.0 1314.6L430.5 1314.7L432.0 1314.5L432.5 1314.7L433.0 1314.5L434.0 1314.7L435.0 1314.5L436.0 1314.6L437.5 1314.5L438.5 1314.5L439.0 1314.7L441.0 1314.5L441.5 1314.7L442.0 1314.5L443.5 1314.7L444.0 1314.5L445.0 1314.7L446.5 1314.5L448.5 1314.7L449.0 1314.5L450.0 1314.6L455.0 1314.5L455.5 1314.7L456.0 1314.7L456.5 1314.5L457.5 1314.7L459.0 1314.7L459.5 1314.6L460.5 1314.7L461.0 1314.5L462.5 1314.7L463.5 1314.5L464.0 1314.7L467.0 1314.5L468.0 1314.7L468.5 1314.5L469.5 1314.6L471.5 1314.5L472.0 1314.7L473.0 1314.5L474.0 1314.7L475.5 1314.5L477.0 1314.7L478.0 1314.7L478.5 1314.5L479.0 1314.6L480.5 1314.5L482.0 1314.7L483.0 1314.6L483.5 1314.7L484.0 1314.5L487.0 1314.7L488.0 1314.5L488.5 1314.7L489.5 1314.7L490.5 1314.5L491.0 1314.7L491.5 1314.5L494.0 1314.7L495.5 1314.5L497.0 1314.7L498.5 1314.5L500.5 1314.7L505.0 1314.5L505.5 1314.6L506.0 1314.5L508.0 1314.6L508.5 1314.4L509.0 1312.1L509.5 1303.9L510.0 1289.2L510.5 1281.6L511.5 1305.1L512.0 1312.5L512.5 1313.1L514.5 1309.1L515.0 1308.6L515.5 1308.6L516.0 1309.2L518.0 1313.4L518.5 1313.0L519.0 1307.6L519.5 1298.4L520.0 1293.7L521.0 1308.8L521.5 1313.5L522.0 1314.5L522.5 1314.5L523.0 1314.7L524.0 1314.6L527.0 1314.7L528.0 1314.5L530.0 1314.7L532.0 1314.5L532.5 1314.7L533.5 1314.5L534.0 1314.7L535.5 1314.7L536.0 1314.5L537.5 1314.7L538.5 1314.5L539.5 1314.7L540.5 1314.5L545.0 1314.7L545.5 1314.5L546.0 1314.7L546.5 1314.5L547.5 1314.7L551.0 1314.5L552.0 1314.7L553.0 1314.5L558.0 1314.7L560.0 1314.5L560.5 1314.7L561.0 1314.5L561.5 1314.7L562.0 1314.5L563.5 1314.7L568.0 1314.5L569.0 1314.7L570.5 1314.5L571.0 1314.7L572.5 1314.5L573.5 1314.7L574.0 1314.5L574.5 1314.7L575.0 1314.5L576.0 1314.6L576.5 1314.5L578.0 1314.7L578.5 1314.5L581.0 1314.5L581.5 1314.7L582.5 1314.5L583.5 1314.7L585.5 1314.5L586.0 1314.7L587.0 1314.5L588.5 1314.6L591.0 1314.5L592.5 1314.6L594.0 1314.5L596.5 1314.7L598.5 1314.5L599.5 1314.7L603.0 1314.6L603.5 1314.7L605.5 1314.5L606.5 1314.6L607.0 1314.4L608.0 1314.4L609.0 1313.8L610.5 1311.9L611.5 1311.7L612.0 1311.8L614.0 1313.7L615.0 1314.4L616.0 1314.4L617.0 1314.7L617.5 1314.5L619.0 1314.7L622.0 1314.5L622.5 1314.7L624.0 1314.5L625.0 1314.7L626.0 1314.5L626.5 1314.7L629.0 1314.5L629.5 1314.7L630.0 1314.5L634.0 1314.7L635.0 1314.5L635.5 1314.7L636.5 1314.5L637.5 1314.7L639.0 1314.5L639.5 1314.7L642.5 1314.7L644.0 1314.5L645.0 1314.6L645.5 1314.5L646.5 1314.7L648.5 1314.5L649.5 1314.7L651.0 1314.5L651.5 1314.7L655.5 1314.4L658.0 1312.1L659.0 1311.6L660.0 1312.2L662.0 1314.3L664.5 1314.7L668.5 1314.7L669.0 1314.5L669.5 1314.6L670.0 1314.5L671.5 1314.7L672.5 1314.5L674.5 1314.7L675.0 1314.5L676.5 1314.5L677.5 1314.2L678.5 1312.8L679.5 1312.0L680.0 1312.2L681.5 1314.0L682.0 1314.4L684.5 1314.6L686.0 1314.5L687.5 1314.7L689.0 1314.6L689.5 1314.7L690.0 1314.6L691.0 1314.7L692.0 1314.5L692.5 1314.7L695.5 1314.7L696.5 1314.5L698.0 1314.7L698.5 1314.5L699.0 1314.7L700.5 1314.5L701.0 1314.6L705.0 1314.5L707.0 1314.7L707.5 1314.5L709.5 1314.5L710.5 1314.7L711.0 1314.5L711.5 1314.6L714.5 1314.4L715.0 1314.5L718.0 1313.7L719.0 1314.0L719.5 1313.9L720.5 1314.0L721.0 1314.4L724.0 1314.7L728.0 1314.5L729.0 1314.7L730.0 1314.5L731.0 1314.7L732.0 1314.5L733.0 1314.7L733.5 1314.5L734.0 1314.7L734.5 1314.5L735.0 1314.7L735.5 1314.5L737.0 1314.7L738.0 1314.7L738.5 1314.5L739.0 1314.6L740.0 1314.5L742.0 1314.7L743.5 1314.5L744.5 1314.7L745.0 1314.5L746.0 1314.5L746.5 1314.7L748.5 1314.5L750.5 1314.7L751.5 1314.5L752.0 1314.7L752.5 1314.6L755.5 1314.5L757.0 1314.7L757.5 1314.5L759.0 1314.6L759.5 1314.7L760.5 1314.5L762.0 1314.7L763.0 1314.6L764.5 1314.7L768.0 1314.5L769.5 1314.7L770.0 1314.5L770.5 1314.6L771.0 1314.5L771.5 1314.7L772.0 1314.5L773.0 1314.7L774.0 1314.7L774.5 1314.5L775.0 1314.7L775.5 1314.7L776.0 1314.5L777.0 1314.7L780.0 1314.5L780.5 1314.7L781.5 1314.6L782.5 1314.7L783.0 1314.5L784.5 1314.7L786.0 1314.5L788.0 1314.7L788.5 1314.5L789.0 1314.7L789.5 1314.4L790.0 1314.5L790.5 1314.3L792.0 1314.1L793.5 1313.5L795.5 1314.0L796.0 1313.9L797.5 1314.5L801.5 1314.5L802.0 1314.7L805.0 1314.5L806.5 1314.7L808.0 1314.5L809.0 1314.7L811.0 1313.7L813.0 1310.7L814.0 1311.0L816.0 1313.9L816.5 1314.3L817.5 1314.6L819.0 1314.5L819.5 1314.7L820.0 1314.5L820.5 1314.7L821.5 1314.5L823.0 1314.7L824.0 1314.5L826.0 1314.7L826.5 1314.5L827.0 1314.7L828.5 1314.5L829.5 1314.7L832.0 1314.6L832.5 1314.7L833.0 1314.5L837.0 1314.7L837.5 1314.6L839.5 1314.5L840.0 1314.7L840.5 1314.5L841.5 1314.5L842.0 1314.7L842.5 1314.5L844.5 1314.6L845.0 1314.5L851.0 1314.7L851.5 1314.5L852.5 1314.7L853.0 1314.5L854.0 1314.7L854.5 1314.5L855.5 1314.7L856.5 1314.6L857.5 1314.2L858.5 1314.2L859.5 1313.7L860.5 1313.6L861.5 1313.7L864.5 1314.6L865.5 1314.5L866.0 1314.7L866.5 1314.5L867.0 1314.7L868.0 1314.5L870.5 1314.7L871.0 1314.5L871.5 1314.7L872.0 1314.5L873.0 1314.5L873.5 1314.7L874.5 1314.5L875.5 1314.7L876.0 1314.5L879.0 1314.7L880.0 1314.5L881.5 1314.7L882.0 1314.5L882.5 1314.7L883.0 1314.5L885.0 1314.6L885.5 1314.5L886.0 1314.7L887.0 1314.6L887.5 1314.7L888.5 1314.5L889.0 1314.7L890.0 1314.5L891.5 1314.7L892.0 1314.5L893.0 1314.7L893.5 1314.5L894.5 1314.6L898.0 1314.3L899.5 1313.7L900.5 1313.6L902.0 1313.7L905.0 1314.5L906.5 1314.6L907.5 1314.5L909.5 1314.7L911.0 1314.7L911.5 1314.5L912.0 1314.7L912.5 1314.5L913.0 1314.7L913.5 1314.5L914.5 1314.7L915.5 1314.6L918.5 1314.7L919.0 1314.5L920.0 1314.7L921.0 1314.5L924.0 1314.7L924.5 1314.5L925.0 1314.6L927.5 1314.7L929.0 1314.5L930.5 1314.7L932.0 1314.5L932.5 1314.7L933.0 1314.5L934.0 1314.6L936.5 1314.5L939.0 1314.7L940.5 1314.5L942.0 1314.7L948.0 1314.5L952.5 1314.7L953.5 1314.7L954.0 1314.5L954.5 1314.7L955.5 1314.5L957.0 1314.7L957.5 1314.5L959.0 1314.6L962.0 1314.5L962.5 1314.7L967.5 1314.5L968.5 1314.7L970.0 1314.6L971.5 1314.7" fill="none" stroke="#000000" stroke-width="4.5" stroke-linejoin="round"/>
<path d="M1108.0 155.1L1108.5 155.5L1110.0 154.7L1110.5 155.2L1111.0 155.1L1113.0 153.9L1114.0 154.3L1114.5 153.6L1115.0 154.3L1115.5 153.6L1116.5 153.2L1117.0 154.0L1117.5 153.6L1118.0 153.6L1119.0 152.6L1120.0 152.8L1120.5 152.3L1121.0 153.0L1121.5 152.3L1122.0 152.0L1122.5 152.5L1123.0 151.7L1123.5 152.4L1124.0 151.8L1124.5 151.8L1125.0 151.4L1125.5 151.5L1126.5 150.8L1127.0 151.5L1127.5 150.7L1128.0 151.2L1128.5 150.5L1129.0 151.1L1130.0 150.7L1131.0 150.7L1131.5 150.9L1132.0 150.4L1133.0 151.3L1133.5 150.8L1134.0 151.6L1134.5 151.7L1135.0 151.3L1136.5 151.6L1137.0 152.3L1137.5 151.9L1138.0 151.9L1138.5 152.4L1139.5 154.1L1140.0 154.0L1141.5 155.5L1142.0 155.4L1142.5 156.2L1143.5 157.0L1144.5 156.4L1145.0 155.7L1145.5 154.2L1146.0 149.4L1148.0 115.0L1148.5 113.9L1149.0 118.4L1150.5 147.1L1151.0 153.6L1151.5 157.3L1152.5 159.9L1153.0 160.3L1153.5 160.1L1154.0 160.6L1155.5 160.2L1156.0 160.9L1156.5 160.3L1157.0 160.2L1157.5 161.0L1158.0 161.0L1158.5 160.8L1159.0 161.2L1159.5 160.4L1161.0 161.0L1162.0 160.7L1163.0 161.7L1163.5 161.8L1165.0 161.2L1165.5 162.0L1166.0 161.6L1166.5 161.8L1167.0 161.2L1167.5 161.4L1168.0 162.1L1169.0 162.2L1170.0 161.8L1171.0 162.2L1171.5 161.7L1172.0 161.9L1172.5 161.7L1173.0 162.2L1173.5 161.4L1174.0 162.1L1174.5 162.3L1175.0 161.4L1175.5 162.0L1176.5 162.2L1177.5 161.6L1178.0 161.8L1178.5 162.3L1179.0 162.3L1179.5 161.5L1181.0 161.4L1181.5 161.8L1182.0 161.5L1182.5 162.2L1183.0 162.0L1183.5 161.5L1184.0 161.9L1184.5 161.7L1185.0 161.9L1185.5 161.6L1186.5 161.6L1187.5 162.1L1188.0 161.9L1188.5 161.4L1189.0 162.1L1189.5 162.3L1190.5 162.2L1191.0 161.4L1191.5 161.8L1192.0 161.4L1192.5 162.1L1193.0 161.6L1193.5 162.1L1194.0 161.6L1194.5 162.0L1195.5 161.2L1196.0 161.4L1196.5 161.1L1197.0 161.1L1198.0 158.0L1199.5 149.8L1200.0 149.2L1200.5 149.7L1202.5 158.9L1203.5 160.4L1204.0 160.1L1204.5 160.8L1205.0 161.0L1205.5 160.3L1206.0 160.2L1206.5 160.8L1207.0 159.8L1208.0 159.7L1208.5 160.4L1209.5 159.9L1210.0 160.0L1210.5 159.3L1211.0 159.9L1211.5 159.6L1213.0 159.4L1214.0 158.9L1214.5 159.3L1215.0 159.0L1215.5 159.4L1216.0 159.4L1217.5 158.7L1219.0 158.8L1219.5 159.0L1220.0 158.0L1220.5 158.2L1221.5 157.9L1222.0 157.5L1222.5 156.2L1223.0 153.9L1223.5 150.7L1225.5 129.9L1226.0 127.6L1226.5 129.6L1227.0 133.0L1228.0 144.5L1229.0 152.5L1230.0 154.8L1230.5 155.2L1231.0 155.3L1231.5 155.1L1232.0 155.4L1232.5 154.8L1233.0 154.9L1233.5 155.5L1235.0 154.3L1235.5 155.1L1236.5 154.1L1238.0 154.3L1238.5 153.8L1239.0 154.4L1239.5 153.7L1240.0 153.5L1240.5 154.0L1241.0 153.2L1241.5 153.6L1242.0 153.0L1242.5 153.3L1243.0 152.9L1243.5 152.9L1244.0 153.4L1244.5 152.8L1245.5 152.8L1246.5 152.1L1247.0 152.2L1248.0 151.8L1248.5 152.5L1249.0 151.5L1249.5 152.1L1250.0 152.2L1250.5 151.8L1251.0 151.0L1251.5 151.4L1252.0 150.9L1252.5 151.3L1253.0 151.3L1254.0 150.4L1254.5 150.8L1255.0 150.3L1256.0 150.5L1256.5 150.8L1257.5 149.9L1258.0 150.5L1258.5 150.4L1259.5 149.5L1261.0 149.7L1261.5 149.3L1262.0 149.8L1263.0 149.7L1263.5 149.6L1264.0 148.6L1264.5 149.0L1265.0 148.4L1265.5 149.0L1266.5 148.6L1267.0 147.8L1267.5 147.4L1268.0 147.8L1269.0 146.4L1270.0 143.7L1271.0 137.2L1273.5 114.8L1274.0 113.6L1274.5 115.0L1275.0 118.2L1277.5 140.1L1278.5 144.4L1279.5 145.6L1280.0 146.8L1281.0 146.7L1282.0 147.2L1283.0 146.7L1283.5 147.5L1284.0 147.0L1284.5 146.8L1286.0 147.5L1286.5 147.1L1287.0 147.7L1288.0 147.2L1288.5 147.9L1289.5 148.0L1290.5 147.3L1291.0 147.9L1291.5 148.0L1292.0 147.6L1292.5 148.0L1293.0 148.1L1293.5 147.5L1294.0 148.1L1295.0 147.9L1295.5 147.2L1296.5 147.8L1297.5 147.9L1298.0 147.8L1298.5 147.3L1299.0 148.1L1299.5 147.7L1300.0 148.0L1300.5 147.4L1301.0 148.2L1301.5 147.7L1303.0 148.0L1304.0 147.2L1304.5 147.5L1305.0 147.3L1306.0 147.9L1306.5 147.5L1307.5 147.1L1308.5 147.7L1309.0 147.1L1309.5 147.7L1310.0 147.3L1310.5 147.2L1311.0 148.0L1311.5 147.6L1312.0 147.9L1313.0 147.1L1315.0 147.7L1316.0 147.6L1316.5 147.2L1318.0 147.3L1318.5 147.1L1319.0 147.3L1319.5 147.2L1320.0 146.7L1320.5 147.5L1321.0 147.2L1321.5 147.4L1322.5 147.2L1323.0 147.4L1323.5 146.7L1324.0 146.7L1324.5 146.2L1325.0 146.8L1326.0 146.5L1326.5 146.7L1327.0 145.8L1327.5 145.6L1328.0 145.9L1328.5 145.8L1329.5 144.2L1330.5 143.5L1331.5 139.7L1332.5 133.1L1333.5 122.0L1335.0 101.4L1335.5 96.4L1336.0 94.5L1336.5 94.7L1337.5 102.3L1338.5 116.6L1340.0 134.0L1341.0 140.7L1342.0 143.7L1344.5 146.2L1345.0 145.9L1345.5 146.5L1346.0 146.3L1346.5 146.8L1347.5 146.5L1348.5 146.6L1349.0 147.4L1350.0 147.1L1350.5 147.9L1351.0 147.8L1351.5 147.2L1352.0 148.0L1353.5 147.4L1354.0 147.5L1355.5 144.1L1356.5 140.9L1358.0 137.9L1359.0 136.7L1359.5 137.1L1360.0 136.7L1361.0 139.7L1361.5 140.7L1362.0 141.1L1362.5 139.2L1363.5 126.1L1365.5 68.2L1366.0 59.2L1366.5 57.8L1367.0 64.9L1369.0 123.5L1370.0 140.0L1371.0 146.0L1371.5 147.7L1372.0 147.9L1372.5 149.0L1373.0 149.2L1373.5 149.1L1374.5 150.2L1375.0 149.9L1376.5 151.2L1377.0 151.1L1377.5 151.3L1378.0 150.8L1378.5 151.2L1379.0 151.3L1379.5 151.9L1380.0 151.5L1380.5 152.0L1381.0 151.3L1382.0 152.2L1383.0 152.0L1383.5 151.7L1384.0 152.5L1384.5 151.6L1385.0 152.4L1386.0 151.4L1387.0 150.0L1387.5 150.3L1388.5 151.8L1389.0 152.0L1389.5 152.7L1390.0 152.1L1390.5 152.4L1391.0 152.2L1392.0 153.0L1392.5 152.9L1393.0 152.3L1393.5 152.4L1394.0 151.9L1394.5 152.0L1395.5 150.7L1396.0 150.9L1396.5 151.9L1397.0 152.0L1397.5 152.8L1398.0 153.0L1399.0 153.1L1400.0 152.6L1400.5 152.6L1401.0 152.0L1402.0 151.5L1402.5 152.6L1404.0 153.0L1404.5 153.4L1405.0 154.1L1405.5 153.6L1406.0 154.0L1406.5 153.5L1407.0 153.6L1408.0 152.2L1410.5 140.5L1411.0 138.8L1411.5 138.3L1412.0 139.3L1414.5 152.5L1415.5 155.0L1416.0 155.5L1416.5 155.1L1417.0 156.1L1417.5 155.5L1418.0 155.7L1418.5 156.4L1419.0 155.6L1420.0 156.2L1420.5 156.0L1421.0 156.0L1421.5 156.6L1422.0 156.5L1425.0 157.2L1425.5 156.8L1426.0 157.1L1426.5 156.9L1427.0 157.4L1428.0 157.0L1428.5 157.3L1429.5 156.9L1430.0 157.2L1431.0 156.9L1431.5 157.1L1432.5 157.8L1433.0 157.2L1433.5 157.8L1434.0 157.4L1434.5 157.8L1435.0 157.7L1436.0 158.2L1436.5 157.9L1437.0 158.0L1437.5 158.4L1438.0 157.8L1439.0 158.5L1440.0 158.9L1440.5 158.2L1441.0 158.7L1441.5 158.4L1442.5 159.1L1443.0 158.4L1443.5 158.7L1444.0 159.3L1444.5 158.8L1445.5 159.4L1446.0 158.9L1446.5 159.4L1447.0 158.7L1447.5 159.1L1448.0 159.0L1448.5 159.2L1449.5 159.0L1450.0 159.8L1450.5 159.2L1451.0 159.7L1451.5 159.7L1452.0 159.9L1452.5 159.8L1453.0 159.2L1453.5 158.0L1454.0 157.4L1454.5 155.1L1455.0 154.0L1455.5 151.6L1456.0 150.2L1456.5 149.8L1457.0 150.7L1459.0 158.2L1460.0 159.6L1461.5 160.9L1462.0 161.1L1462.5 160.2L1463.0 161.1L1463.5 161.1L1464.0 160.7L1465.0 161.1L1465.5 160.6L1466.5 161.5L1467.5 161.5L1468.0 160.8L1468.5 161.4L1469.0 161.3L1469.5 161.8L1470.0 161.1L1470.5 161.5L1471.0 161.1L1471.5 161.9L1472.0 161.9L1472.5 161.2L1473.0 161.6L1473.5 161.5L1474.0 162.0L1474.5 162.0L1475.0 161.5L1475.5 162.3L1476.0 162.2L1476.5 161.5L1477.0 161.2L1477.5 160.6L1478.0 160.4L1478.5 159.9L1479.0 159.9L1479.5 160.4L1480.0 160.3L1481.0 162.0L1481.5 161.9L1482.0 162.1L1482.5 163.1L1483.0 162.5L1483.5 162.8L1484.5 162.7L1485.5 162.9L1486.0 162.4L1486.5 162.7L1487.0 162.0L1488.0 161.3L1488.5 160.7L1489.5 159.1L1490.0 158.7L1491.0 156.7L1492.5 156.2L1494.0 158.7L1495.5 161.8L1496.0 161.8L1497.0 163.3L1497.5 163.1L1498.0 163.6L1498.5 162.9L1499.0 163.5L1499.5 163.1L1500.0 163.6L1500.5 163.3L1501.0 163.4L1501.5 163.1L1502.0 163.2L1502.5 163.8L1503.5 163.5L1504.0 163.0L1504.5 163.2L1505.0 163.9L1505.5 163.1L1506.5 163.6L1507.5 163.5L1508.0 163.9L1508.5 163.7L1509.0 163.2L1510.5 163.6L1511.0 163.6L1511.5 163.2L1512.0 163.7L1513.0 163.0L1514.0 163.4L1514.5 163.2L1515.5 164.0L1516.5 163.6L1517.0 163.9L1517.5 163.5L1518.5 163.9L1519.0 163.1L1519.5 163.4L1521.0 163.5L1521.5 163.1L1522.0 163.7L1522.5 164.0L1523.0 163.3L1524.0 163.4L1524.5 163.9L1525.0 163.3L1525.5 163.8L1526.0 163.2L1526.5 163.7L1527.0 163.8L1527.5 163.8L1528.0 163.2L1528.5 164.0L1529.5 163.6L1530.0 164.0L1531.0 163.3L1532.0 163.9L1533.0 163.2L1534.0 163.3L1534.5 163.7L1536.0 163.5L1536.5 164.1L1537.0 163.5L1537.5 163.8L1538.0 163.4L1538.5 163.7L1539.0 163.3L1539.5 163.3L1540.0 163.5L1540.5 163.3L1541.5 163.8L1542.0 163.7L1542.5 164.0L1543.5 163.3L1544.0 163.9L1544.5 163.6L1545.5 164.2L1546.5 163.5L1547.5 163.7L1548.5 163.3L1550.0 164.0L1551.0 164.1L1551.5 164.0L1552.0 163.7L1552.5 163.9L1553.0 163.3L1553.5 164.1L1554.0 164.0L1554.5 163.5L1555.0 163.7L1555.5 163.5L1556.0 164.1L1556.5 163.7L1557.5 164.2L1558.5 163.7L1559.0 163.6L1559.5 164.2L1560.0 164.2L1560.5 163.5L1561.5 164.1L1562.0 164.1L1562.5 163.6L1563.0 163.8L1563.5 164.3L1564.0 163.4L1565.5 164.2L1566.0 164.3L1566.5 163.8L1567.5 164.3L1568.0 163.6L1568.5 163.4L1569.0 163.4L1569.5 163.8L1570.0 163.0L1571.0 163.4L1571.5 162.4L1572.0 162.6L1572.5 162.2L1573.0 162.3L1573.5 161.6L1574.0 161.3L1574.5 161.5L1575.0 161.2L1575.5 160.6L1576.0 161.2L1576.5 160.9L1577.0 161.7L1577.5 161.9L1578.0 161.7L1580.5 162.8L1581.0 163.6L1581.5 163.0L1582.0 163.7L1583.0 164.0L1583.5 163.9L1584.0 164.3L1584.5 163.7L1585.0 163.5L1585.5 164.0L1586.0 163.7L1586.5 164.5L1587.5 164.2L1588.0 164.3L1588.5 163.7L1589.0 164.0L1590.5 163.9L1591.5 164.2L1592.0 163.5L1592.5 164.1L1593.0 163.7L1593.5 164.5L1594.0 164.1L1594.5 164.1L1595.0 163.9L1595.5 164.3L1596.5 164.5L1597.5 163.8L1598.0 164.2L1598.5 163.6L1599.0 164.3L1599.5 163.9L1600.0 164.3L1600.5 163.7L1601.0 164.2L1601.5 163.8L1602.0 163.6L1602.5 163.9L1603.0 164.4L1603.5 164.0L1605.0 164.6L1605.5 163.9L1606.0 164.3L1607.0 164.4L1607.5 164.0L1608.5 164.4L1609.0 163.9L1610.5 164.5L1611.0 163.9L1611.5 164.3L1612.0 163.9L1612.5 163.8L1614.5 164.6L1615.0 163.8L1615.5 164.2L1616.5 163.9L1617.0 164.6L1617.5 163.8L1618.0 164.0L1618.5 163.7L1619.0 164.4L1619.5 164.4L1620.0 163.9L1620.5 164.6L1621.5 163.9L1622.0 164.7L1622.5 164.6L1623.0 164.0L1623.5 164.6L1624.0 163.9L1625.0 164.2L1625.5 164.7L1626.0 164.1L1626.5 164.1L1627.0 164.0L1627.5 164.6L1628.0 164.0L1628.5 164.6L1629.0 164.1L1630.0 164.7L1630.5 164.1L1631.5 164.4L1632.5 164.2L1633.0 164.4L1634.5 163.8L1635.0 164.4L1635.5 164.4L1636.0 164.6L1636.5 164.0L1637.0 164.5L1637.5 164.2L1638.5 164.5L1639.5 163.7L1640.0 163.7L1640.5 162.9L1641.0 163.2L1642.0 161.7L1643.5 162.4L1644.0 162.1L1644.5 162.3L1645.0 163.3L1645.5 163.0L1646.0 163.1L1647.5 164.4L1648.0 163.9L1649.0 164.6L1650.0 164.0L1650.5 164.4L1651.0 163.9L1651.5 163.9L1652.0 163.5L1652.5 163.5L1653.0 163.0L1653.5 163.3L1655.0 163.0L1655.5 163.4L1656.5 163.5L1657.0 164.6L1658.5 165.2L1659.0 165.0L1659.5 165.5L1660.0 165.0L1660.5 165.6L1661.0 164.7L1662.5 165.4L1663.0 165.1L1663.5 165.2L1664.0 164.6L1664.5 164.7L1665.0 164.5L1666.0 163.0L1666.5 163.4L1667.0 162.5L1667.5 162.8L1668.0 162.7L1668.5 163.6L1669.0 163.3L1669.5 164.3L1670.0 164.0L1671.5 165.8L1672.0 165.1L1672.5 165.7L1673.0 165.6L1673.5 165.9L1674.0 165.4L1675.0 165.4L1675.5 166.3L1676.0 165.9L1676.5 166.0L1677.0 165.5L1677.5 166.1L1678.0 166.3L1678.5 165.6L1679.0 166.2L1680.0 166.4L1680.5 166.0L1681.0 166.1L1681.5 165.8L1682.0 166.2L1682.5 165.7L1683.0 166.1L1683.5 166.1L1684.0 166.4L1684.5 166.2L1685.0 165.5L1686.5 165.8L1687.0 166.2L1687.5 165.7L1688.0 166.0L1689.0 165.8L1689.5 166.1L1690.0 165.9L1690.5 166.4L1691.0 165.6L1691.5 166.4L1693.0 165.5L1693.5 166.1L1694.0 166.3L1694.5 165.8L1695.0 166.2L1696.0 165.6L1696.5 166.3L1697.0 165.8L1698.5 166.4L1699.0 166.3L1699.5 165.9L1700.0 166.3L1700.5 165.7L1701.0 166.1L1701.5 165.9L1702.0 166.4L1703.0 166.2L1703.5 166.3L1704.0 165.9L1704.5 166.0L1705.0 165.6L1705.5 165.9L1706.0 165.7L1706.5 166.3L1707.0 165.7L1707.5 166.4L1709.0 165.7L1710.0 166.1L1710.5 165.7L1711.0 166.5L1711.5 165.9L1713.5 165.8L1714.0 166.4L1714.5 165.6L1715.5 166.2L1716.5 165.9L1717.0 166.1L1717.5 165.6L1719.0 166.3L1719.5 166.0L1720.0 166.0L1720.5 166.2L1721.0 165.9L1721.5 166.1L1722.0 165.8L1722.5 166.2L1723.0 166.1L1725.0 166.6L1725.5 165.8L1726.0 166.6L1726.5 166.1L1727.0 166.0L1727.5 166.1L1728.0 166.5L1728.5 166.6L1730.0 165.7L1730.5 165.8L1731.0 166.3L1731.5 166.3L1732.0 165.7L1732.5 165.6L1733.0 166.6L1733.5 166.0L1734.0 165.7L1734.5 166.1L1735.0 165.7L1735.5 166.5L1736.0 166.2L1737.0 166.6L1737.5 165.8L1738.0 165.9L1738.5 166.5L1740.0 166.0L1741.0 166.6L1742.5 166.7L1743.0 165.8L1743.5 165.7L1744.0 166.5L1744.5 165.9L1745.0 166.2L1745.5 166.2L1746.0 166.7L1747.0 165.8L1747.5 165.9L1748.0 166.6L1748.5 166.5L1749.0 165.8L1749.5 166.7L1750.0 166.1L1750.5 166.4L1751.0 166.3L1751.5 166.6L1752.5 165.8L1753.5 166.6L1754.0 166.1L1754.5 166.6L1755.0 166.2L1756.5 166.0L1757.5 166.7L1758.0 166.3L1758.5 166.5L1759.0 165.9L1760.0 166.3L1761.0 165.8L1761.5 166.6L1762.0 165.9L1763.0 166.7L1763.5 166.1L1764.0 166.0L1765.0 166.3L1765.5 166.8L1766.0 165.9L1766.5 166.0L1767.0 166.7L1767.5 166.1L1768.0 166.5L1768.5 166.5L1769.0 165.8L1769.5 165.8L1770.0 166.6L1770.5 166.7L1772.0 165.9L1772.5 166.3L1773.0 165.9L1773.5 166.1L1774.0 165.8L1774.5 166.3L1777.0 165.9L1777.5 166.0L1778.0 166.8L1778.5 165.9L1779.0 166.6L1779.5 166.3L1780.0 166.4L1780.5 166.1L1781.0 166.8L1782.0 166.3L1782.5 166.3L1783.0 166.8L1783.5 166.0L1784.0 166.7L1784.5 166.5L1786.0 166.5L1786.5 166.0L1787.5 166.2L1788.5 166.0L1789.0 166.6L1789.5 166.3L1790.0 166.6L1790.5 166.3L1791.0 166.8L1791.5 166.1L1792.0 166.4L1792.5 166.3L1793.0 166.7L1793.5 166.0L1794.0 166.4L1794.5 166.4L1795.0 166.5L1795.5 166.1L1796.5 166.9L1797.0 166.0L1797.5 166.9L1798.0 166.9L1799.0 166.0L1800.0 166.9L1800.5 166.0L1801.0 166.7L1801.5 166.7L1802.0 166.1L1802.5 166.6L1803.0 166.1L1803.5 166.1L1804.0 166.5L1804.5 166.3L1805.0 166.7L1806.0 166.2L1806.5 166.9L1807.0 166.0L1807.5 166.8L1808.0 166.3L1808.5 166.9L1810.0 166.3L1810.5 166.9L1811.5 167.0L1812.0 166.6L1812.5 167.0L1813.0 167.0L1814.0 166.4L1814.5 166.7L1815.0 166.4L1815.5 166.9L1816.0 166.6L1816.5 167.0L1817.0 167.0L1817.5 166.9L1818.0 166.3L1818.5 166.5L1819.0 166.2L1819.5 166.5L1820.0 166.3L1820.5 166.4L1821.0 166.9L1821.5 166.3L1822.0 167.1L1823.0 166.9L1823.5 166.4L1825.0 166.8L1825.5 167.1L1826.0 166.2L1826.5 166.3L1827.0 167.0L1827.5 166.2L1828.0 167.1L1828.5 166.4L1829.0 167.2L1829.5 166.7L1831.0 167.0L1831.5 166.6L1832.0 166.7L1832.5 167.0L1833.0 166.5L1833.5 166.6L1834.0 167.1L1835.0 167.1L1835.5 166.6L1836.5 166.4L1837.0 167.1L1837.5 166.3L1838.0 166.5L1838.5 166.3L1839.5 167.3L1840.0 166.4L1841.0 166.6L1841.5 167.0L1842.5 166.5L1843.0 167.0L1843.5 167.2L1844.0 166.5L1844.5 166.4L1845.5 167.3L1846.0 166.4L1846.5 166.5L1847.0 167.0L1847.5 167.1L1848.5 166.4L1849.0 166.9L1849.5 166.5L1850.5 166.5L1851.0 167.3L1851.5 166.5L1852.5 167.2L1853.0 166.6L1854.0 167.2L1855.0 166.6L1856.0 167.4L1856.5 167.3L1857.0 167.4L1857.5 166.5L1858.0 166.5L1858.5 167.0L1859.0 166.5L1859.5 167.4L1860.0 166.8L1861.0 167.4L1861.5 166.9L1862.0 167.3L1862.5 166.7L1863.5 167.2L1864.5 166.7L1865.0 167.4L1865.5 166.9L1866.0 167.4L1866.5 166.9L1867.0 167.4L1867.5 166.7L1868.5 167.5L1869.5 167.0L1870.0 167.5L1871.0 167.4L1871.5 166.8L1872.0 166.7L1872.5 167.2L1873.0 166.7L1873.5 166.7L1874.5 167.6L1875.0 166.9L1875.5 167.4L1876.5 167.6L1877.0 166.7L1877.5 166.8L1878.0 167.6L1878.5 167.6L1879.0 166.8L1879.5 166.8L1880.0 167.4L1880.5 166.8L1881.5 166.8L1882.0 167.3L1882.5 167.0L1883.0 167.5L1883.5 166.8L1884.0 167.6L1884.5 167.5L1885.0 167.1L1886.0 167.4L1886.5 166.8L1887.0 167.6L1887.5 167.2L1888.0 167.2L1888.5 167.6L1889.0 166.8L1889.5 167.0L1890.0 166.8L1890.5 167.5L1891.0 167.0L1891.5 167.5L1892.0 167.5L1892.5 167.8L1893.0 166.9L1894.0 167.6L1895.0 167.0L1895.5 167.5L1896.0 167.6L1897.5 166.9L1898.5 167.7L1899.0 167.2L1899.5 167.8L1900.0 167.2L1901.5 167.8L1903.5 167.0L1904.5 167.7L1905.0 167.1L1905.5 167.2L1906.0 166.9L1906.5 167.3L1907.0 167.4L1907.5 167.9L1908.0 167.6L1908.5 167.8L1909.0 167.1L1910.0 167.6L1910.5 167.0L1911.0 167.5L1911.5 167.6L1912.0 167.0L1912.5 167.1L1913.0 167.7L1913.5 167.1L1914.0 167.6L1915.0 167.4L1915.5 167.8L1916.0 167.4L1916.5 167.9L1917.0 167.8L1918.0 167.1L1918.5 167.3L1919.0 168.0L1919.5 167.3L1920.0 167.6L1920.5 167.2L1921.0 167.7L1921.5 167.7L1922.0 167.9L1923.0 167.1L1923.5 167.8L1924.0 167.6L1924.5 168.0L1925.5 167.4L1928.0 167.9L1929.0 167.3L1929.5 167.9L1930.0 167.8L1930.5 167.3L1931.5 168.0L1932.5 167.2L1933.0 168.0L1933.5 167.9L1934.0 167.3L1934.5 167.8L1935.0 168.0L1935.5 167.7L1936.0 168.1L1937.0 167.2L1937.5 167.8L1939.5 168.1L1940.0 168.0L1941.0 167.2L1942.0 167.2L1942.5 168.1L1943.5 168.1L1944.5 167.7L1945.0 167.8L1945.5 167.3L1946.5 167.6L1947.0 167.3L1948.0 167.8L1948.5 167.4L1949.5 167.3L1950.5 168.1L1951.0 167.7L1951.5 168.0L1953.0 168.1L1954.0 167.3L1956.0 167.9L1957.5 167.5L1958.0 168.1L1958.5 168.3L1959.5 167.5L1960.0 168.1L1960.5 168.2L1961.0 167.9L1962.0 168.2L1962.5 167.9L1963.0 168.1L1963.5 167.6L1964.0 168.2L1965.0 167.6" fill="none" stroke="#000080" stroke-width="4.5" stroke-linejoin="round"/>
<path d="M1108.0 301.7L1108.5 300.8L1109.0 300.6L1109.5 301.5L1110.0 300.6L1110.5 300.5L1111.0 300.9L1111.5 300.5L1112.0 301.0L1112.5 300.3L1113.0 300.9L1113.5 300.2L1114.5 300.8L1115.0 300.5L1115.5 300.7L1116.0 300.4L1116.5 299.7L1117.0 300.5L1118.5 299.7L1119.0 300.3L1119.5 300.0L1120.0 300.4L1120.5 300.2L1121.0 300.4L1121.5 300.0L1122.5 300.0L1123.0 299.7L1123.5 300.4L1124.0 299.7L1124.5 300.2L1125.0 300.3L1126.0 299.4L1126.5 300.1L1128.0 299.1L1128.5 299.5L1129.0 298.9L1129.5 299.7L1130.0 299.2L1131.0 299.3L1132.0 299.9L1132.5 299.4L1133.5 299.9L1134.0 299.9L1135.5 302.3L1136.5 304.7L1137.0 305.1L1137.5 306.2L1139.0 303.9L1140.0 302.9L1141.0 301.2L1142.0 298.6L1142.5 295.2L1143.5 291.8L1144.0 292.1L1144.5 293.0L1145.0 292.7L1146.0 289.2L1146.5 289.0L1148.0 294.9L1148.5 292.0L1149.5 282.4L1150.0 281.4L1150.5 285.3L1151.5 298.9L1152.0 303.0L1152.5 304.9L1153.0 306.1L1154.0 306.0L1154.5 306.4L1155.5 306.2L1156.0 306.6L1156.5 306.7L1157.0 306.6L1157.5 306.9L1158.0 306.1L1158.5 306.6L1159.0 306.8L1160.0 306.4L1160.5 307.0L1162.0 306.5L1162.5 307.5L1163.0 306.9L1163.5 306.7L1164.5 307.0L1165.0 307.6L1165.5 307.0L1166.0 307.1L1166.5 307.0L1167.0 307.4L1167.5 307.2L1168.0 307.4L1169.0 308.1L1169.5 308.0L1170.0 307.2L1171.0 308.0L1171.5 307.2L1172.5 307.7L1173.0 307.6L1173.5 307.9L1174.0 307.9L1175.0 307.4L1176.0 307.4L1176.5 307.2L1177.0 307.8L1177.5 307.3L1178.0 308.1L1178.5 307.8L1179.0 307.2L1179.5 307.7L1180.0 307.8L1180.5 307.2L1181.0 307.7L1181.5 307.2L1182.0 307.9L1182.5 307.2L1183.5 308.2L1184.0 308.0L1184.5 307.4L1185.0 307.7L1185.5 307.3L1186.0 307.5L1186.5 308.0L1187.0 308.0L1187.5 307.2L1188.5 307.8L1189.0 307.4L1189.5 308.0L1190.0 308.1L1191.0 307.5L1191.5 308.0L1192.5 307.4L1193.5 307.3L1194.0 308.0L1194.5 307.6L1196.0 307.8L1196.5 306.7L1197.5 305.7L1198.0 303.7L1199.5 294.8L1200.0 293.6L1200.5 294.1L1202.5 304.8L1203.0 305.2L1203.5 306.1L1204.0 306.6L1205.0 306.3L1205.5 306.5L1206.0 305.7L1206.5 306.6L1207.0 306.2L1208.0 306.2L1208.5 305.5L1209.0 305.4L1209.5 305.4L1210.5 306.0L1211.0 306.0L1211.5 305.4L1212.5 305.6L1213.0 305.1L1213.5 305.7L1214.5 305.3L1215.0 305.5L1216.0 305.1L1216.5 304.7L1218.0 304.2L1218.5 305.0L1219.5 303.8L1220.0 304.0L1220.5 303.6L1221.0 303.8L1221.5 303.3L1222.5 301.5L1223.5 295.4L1225.0 277.6L1225.5 273.0L1226.0 271.1L1226.5 272.0L1227.0 276.1L1228.0 288.8L1229.0 297.1L1229.5 299.3L1230.0 300.5L1230.5 300.8L1231.0 300.8L1231.5 301.7L1232.0 301.4L1232.5 300.6L1233.5 301.1L1234.5 300.2L1235.5 300.3L1236.0 300.7L1237.0 300.1L1237.5 300.2L1238.0 299.5L1238.5 300.0L1239.0 300.0L1241.0 298.8L1242.0 298.8L1243.0 299.2L1243.5 298.6L1244.5 298.8L1245.0 298.7L1245.5 298.0L1246.0 298.8L1247.0 297.9L1247.5 297.8L1248.5 298.3L1249.0 297.6L1250.0 297.6L1250.5 297.1L1251.0 297.2L1251.5 297.6L1252.0 297.2L1252.5 297.3L1253.0 296.7L1253.5 297.2L1254.0 297.0L1254.5 296.3L1255.5 296.6L1256.5 296.4L1257.0 295.9L1257.5 296.1L1258.0 295.9L1258.5 296.2L1259.0 295.7L1259.5 296.2L1260.5 295.3L1261.0 295.4L1261.5 295.0L1262.0 295.5L1262.5 294.7L1263.0 295.2L1263.5 294.8L1264.0 295.1L1264.5 294.4L1265.0 294.8L1265.5 294.7L1266.0 294.0L1266.5 293.7L1267.5 293.8L1269.5 291.2L1270.5 287.1L1273.0 264.2L1273.5 260.7L1274.0 259.4L1274.5 260.8L1275.0 263.6L1276.5 278.5L1277.5 285.7L1278.5 290.4L1279.0 290.7L1279.5 291.4L1280.0 291.8L1280.5 292.8L1281.0 292.6L1281.5 293.1L1282.5 292.7L1283.5 293.2L1284.0 292.8L1284.5 293.4L1285.5 292.7L1286.5 293.3L1287.0 292.9L1287.5 293.7L1288.0 293.7L1288.5 293.3L1289.0 293.7L1290.5 293.0L1291.0 293.8L1291.5 293.8L1292.0 293.4L1293.0 293.0L1293.5 293.5L1294.0 293.8L1294.5 293.3L1295.0 293.2L1296.0 293.7L1296.5 293.1L1297.5 293.6L1298.0 293.0L1298.5 293.8L1299.0 293.3L1299.5 293.8L1301.0 293.0L1302.0 293.2L1302.5 293.7L1303.0 293.7L1304.0 293.2L1304.5 293.6L1305.0 293.7L1306.0 293.0L1306.5 293.4L1307.5 293.1L1308.0 293.3L1308.5 293.0L1309.0 293.8L1309.5 293.2L1310.0 293.8L1310.5 293.6L1311.0 292.9L1311.5 293.7L1312.5 293.4L1313.0 293.7L1314.0 292.8L1315.0 293.1L1315.5 293.6L1316.0 293.6L1316.5 292.8L1317.0 293.0L1317.5 292.8L1319.0 293.0L1319.5 292.7L1320.0 293.2L1320.5 292.7L1321.0 293.3L1321.5 292.9L1322.0 292.8L1322.5 293.0L1323.0 292.6L1324.0 292.2L1324.5 292.3L1325.0 292.1L1325.5 292.5L1326.0 292.0L1326.5 292.3L1327.5 291.3L1328.5 291.1L1329.0 291.3L1330.5 288.6L1331.5 286.0L1332.5 278.5L1333.5 267.6L1335.0 247.2L1336.0 239.5L1336.5 240.5L1337.0 243.4L1340.0 279.7L1341.0 285.9L1341.5 287.6L1342.0 289.0L1343.0 290.8L1343.5 290.9L1344.0 291.6L1344.5 291.8L1345.5 291.8L1346.0 292.4L1347.0 292.7L1347.5 292.7L1348.0 292.8L1348.5 292.4L1349.5 293.4L1350.5 292.9L1351.5 293.8L1352.0 293.1L1352.5 293.1L1353.5 293.6L1354.5 291.9L1355.0 291.4L1355.5 289.4L1356.5 286.9L1358.0 283.6L1358.5 283.0L1359.5 282.2L1360.0 282.8L1361.0 286.0L1361.5 286.5L1362.0 286.4L1362.5 285.1L1363.0 280.5L1363.5 272.0L1365.5 213.6L1366.0 204.3L1366.5 203.6L1367.0 210.4L1367.5 223.2L1369.0 269.1L1369.5 279.4L1370.5 289.6L1371.0 292.2L1372.5 294.5L1374.0 296.1L1375.0 296.1L1375.5 296.5L1376.0 296.5L1376.5 297.2L1377.0 296.9L1378.0 297.0L1378.5 297.1L1379.0 297.5L1379.5 297.2L1380.0 297.8L1380.5 297.7L1381.0 298.0L1383.0 297.3L1383.5 298.0L1385.0 298.0L1385.5 297.0L1386.0 297.2L1386.5 296.2L1387.0 296.0L1387.5 296.6L1388.0 296.7L1388.5 297.4L1389.0 297.5L1389.5 297.9L1390.5 298.1L1391.0 298.4L1391.5 298.0L1392.5 298.1L1393.0 298.7L1393.5 298.9L1394.5 297.7L1395.0 296.7L1395.5 297.0L1396.0 296.4L1396.5 296.9L1397.5 298.8L1398.0 298.5L1398.5 299.2L1399.0 298.7L1399.5 299.3L1401.0 298.4L1402.0 297.3L1403.5 299.2L1404.0 299.0L1404.5 299.5L1405.5 299.3L1406.5 299.8L1407.5 298.6L1408.5 296.0L1410.5 285.7L1411.0 284.2L1411.5 284.3L1412.0 285.4L1413.5 293.5L1415.0 299.5L1415.5 300.6L1416.0 300.9L1416.5 300.8L1417.0 301.4L1418.0 301.9L1419.5 301.4L1420.5 302.2L1421.0 301.7L1421.5 302.2L1422.0 302.3L1424.0 301.9L1425.0 302.9L1425.5 302.5L1426.0 303.1L1427.5 302.8L1428.5 303.3L1429.0 302.8L1429.5 302.7L1430.0 303.5L1432.0 302.9L1433.0 303.7L1433.5 303.5L1434.5 303.8L1435.0 303.5L1436.0 304.3L1437.0 303.6L1437.5 304.1L1439.0 304.3L1440.0 304.7L1440.5 304.0L1441.0 304.3L1441.5 303.9L1442.0 304.9L1442.5 304.1L1443.5 304.7L1444.5 304.4L1445.0 304.8L1445.5 304.6L1446.5 305.2L1447.0 304.8L1450.0 305.8L1450.5 305.0L1451.0 305.4L1451.5 305.0L1452.0 305.6L1452.5 305.1L1453.0 305.2L1454.0 303.3L1455.5 297.5L1456.5 295.5L1457.0 296.2L1459.5 305.4L1460.5 306.3L1461.5 306.6L1462.5 306.2L1463.5 306.9L1464.0 306.9L1464.5 306.6L1465.0 307.0L1465.5 306.9L1466.0 306.3L1466.5 306.9L1467.0 307.1L1467.5 306.5L1468.5 307.2L1469.5 307.2L1470.0 306.8L1470.5 307.0L1471.0 307.7L1471.5 307.2L1472.5 307.6L1473.0 307.3L1474.0 307.7L1474.5 308.1L1475.0 308.1L1475.5 307.3L1476.5 307.6L1477.0 307.4L1477.5 306.6L1478.5 306.0L1479.0 305.9L1480.5 307.4L1481.0 307.1L1481.5 308.2L1483.0 308.2L1483.5 309.1L1484.0 309.1L1485.5 308.4L1486.0 309.0L1486.5 308.7L1487.0 307.9L1488.0 307.9L1488.5 306.6L1490.5 302.9L1491.0 302.7L1491.5 301.8L1492.0 302.1L1492.5 302.2L1494.0 304.9L1494.5 305.1L1495.0 306.7L1495.5 307.4L1496.5 307.8L1497.0 308.2L1497.5 309.1L1498.0 309.4L1498.5 308.6L1499.5 309.1L1500.0 308.7L1500.5 309.3L1501.5 309.5L1502.0 308.9L1502.5 309.6L1503.0 309.5L1503.5 308.9L1504.0 309.6L1506.0 309.5L1507.0 308.7L1507.5 309.4L1508.5 308.9L1509.0 308.9L1509.5 309.6L1510.0 309.7L1510.5 308.8L1511.0 308.8L1511.5 309.5L1512.0 309.1L1512.5 309.6L1513.0 309.2L1513.5 309.5L1514.0 308.8L1514.5 309.6L1515.0 309.0L1516.0 309.3L1517.0 309.0L1517.5 309.3L1518.0 308.9L1519.0 308.9L1519.5 309.7L1520.0 309.1L1520.5 309.8L1521.0 309.7L1521.5 309.0L1522.0 309.7L1522.5 309.8L1523.0 309.3L1524.0 309.5L1525.0 309.1L1525.5 309.6L1526.0 309.1L1526.5 309.3L1527.0 308.9L1528.0 309.7L1528.5 309.0L1529.5 309.3L1530.5 308.9L1531.5 309.1L1532.0 309.7L1533.5 309.6L1534.0 309.9L1534.5 309.2L1535.0 309.6L1535.5 309.4L1536.0 309.9L1536.5 309.4L1538.0 309.9L1539.0 309.3L1540.5 309.9L1541.0 309.2L1541.5 309.7L1542.0 309.7L1542.5 309.1L1543.0 309.1L1543.5 309.6L1544.0 309.6L1544.5 309.3L1545.0 309.6L1545.5 309.2L1546.0 309.6L1546.5 309.5L1547.0 309.8L1547.5 309.7L1548.0 309.1L1548.5 309.6L1549.0 309.2L1549.5 309.6L1550.5 309.7L1551.0 309.0L1551.5 309.6L1552.0 309.2L1552.5 309.6L1553.5 309.5L1554.0 309.8L1554.5 309.4L1555.0 309.5L1556.0 309.3L1556.5 309.7L1557.0 309.2L1557.5 309.9L1558.5 309.2L1559.0 309.9L1559.5 309.1L1560.5 309.8L1561.0 309.1L1561.5 309.8L1562.0 309.7L1562.5 310.1L1563.0 309.4L1563.5 310.0L1564.0 310.1L1565.0 309.2L1566.0 309.9L1566.5 309.1L1567.0 309.7L1567.5 309.6L1568.0 309.8L1568.5 309.4L1569.0 309.8L1569.5 308.9L1570.0 309.1L1570.5 308.8L1571.0 308.8L1571.5 308.3L1572.5 307.9L1573.0 308.1L1573.5 306.9L1574.0 306.9L1574.5 306.6L1575.0 307.0L1575.5 307.0L1576.0 306.2L1576.5 307.1L1577.0 307.4L1577.5 307.2L1579.0 308.5L1579.5 308.1L1580.0 308.9L1580.5 308.5L1581.5 309.7L1582.0 309.6L1583.5 309.6L1584.0 309.2L1585.0 310.2L1585.5 309.4L1586.0 309.3L1586.5 309.9L1587.0 310.1L1588.0 309.4L1588.5 309.9L1589.0 310.0L1589.5 309.5L1590.0 310.1L1590.5 309.9L1591.0 310.1L1591.5 309.6L1592.5 310.0L1594.0 310.3L1594.5 310.1L1595.0 309.4L1595.5 309.8L1596.5 310.1L1597.5 309.4L1598.0 309.9L1598.5 309.6L1599.0 309.9L1599.5 309.6L1600.0 310.3L1600.5 309.4L1601.5 310.3L1602.5 309.5L1603.5 310.2L1604.0 310.0L1604.5 310.3L1605.0 310.2L1606.0 309.5L1606.5 310.1L1607.0 309.9L1607.5 310.2L1608.0 309.9L1608.5 310.2L1609.0 309.6L1609.5 310.2L1610.0 310.3L1611.5 310.1L1612.0 309.6L1613.5 309.8L1614.0 310.1L1614.5 309.8L1616.0 310.5L1616.5 309.5L1617.0 310.1L1618.0 309.9L1619.0 310.4L1619.5 309.8L1620.0 310.1L1620.5 309.7L1621.0 310.0L1621.5 309.9L1622.0 310.3L1622.5 310.4L1623.0 310.4L1623.5 310.1L1624.0 310.3L1625.0 310.1L1625.5 309.7L1626.0 309.8L1626.5 310.5L1627.5 309.7L1628.0 309.9L1629.0 309.7L1629.5 310.0L1630.5 309.6L1631.5 310.5L1632.0 310.1L1634.5 309.8L1635.5 310.5L1636.0 310.0L1636.5 310.5L1637.0 310.1L1637.5 310.2L1638.5 309.8L1639.0 310.2L1640.0 309.0L1641.5 308.3L1642.5 307.5L1643.0 307.5L1643.5 308.2L1644.0 308.2L1645.0 309.1L1645.5 308.7L1646.5 309.9L1647.0 309.9L1648.0 310.3L1648.5 310.3L1649.0 309.9L1649.5 309.7L1650.0 309.9L1650.5 309.5L1651.0 309.6L1651.5 309.1L1652.0 308.9L1652.5 309.2L1653.0 308.5L1653.5 308.8L1654.0 308.5L1654.5 309.0L1655.0 308.9L1655.5 309.5L1656.0 309.4L1656.5 309.7L1657.0 310.5L1658.0 310.4L1658.5 311.0L1659.5 310.9L1660.0 310.4L1660.5 311.3L1661.0 310.5L1661.5 310.4L1662.0 310.8L1662.5 310.6L1663.5 310.7L1665.0 310.4L1665.5 309.8L1666.0 309.7L1667.0 308.5L1668.0 309.4L1668.5 308.8L1669.0 309.6L1669.5 309.7L1670.0 310.7L1670.5 310.1L1671.0 310.9L1672.0 311.2L1672.5 311.6L1673.0 311.0L1673.5 311.3L1674.0 312.0L1675.0 311.2L1675.5 311.8L1676.5 312.1L1677.5 312.2L1678.0 311.5L1678.5 311.5L1679.0 311.9L1679.5 311.6L1680.0 311.6L1680.5 311.3L1681.5 311.4L1682.5 311.9L1683.0 311.4L1683.5 311.5L1684.0 311.3L1685.0 311.8L1686.5 311.8L1688.0 312.1L1688.5 311.3L1689.0 312.2L1689.5 311.7L1690.0 312.2L1691.5 311.3L1692.0 311.4L1692.5 312.0L1693.0 311.3L1693.5 311.3L1694.0 312.0L1695.0 312.0L1695.5 311.3L1696.0 312.2L1696.5 312.0L1697.0 311.3L1697.5 311.9L1698.5 311.5L1699.5 312.3L1700.0 311.3L1700.5 312.1L1701.0 312.2L1701.5 311.4L1702.0 312.2L1702.5 311.3L1703.0 311.6L1703.5 311.3L1704.5 311.5L1705.0 311.9L1705.5 311.8L1706.0 312.3L1706.5 312.1L1707.0 311.4L1707.5 311.4L1708.0 311.6L1708.5 312.2L1710.0 312.2L1711.0 311.9L1711.5 312.2L1713.0 312.2L1714.0 311.4L1714.5 312.0L1715.5 312.3L1716.0 312.1L1717.0 312.3L1717.5 311.7L1718.0 312.3L1719.0 311.8L1720.5 311.8L1721.0 312.1L1721.5 311.6L1723.0 312.4L1724.5 311.8L1725.5 312.3L1726.0 311.4L1726.5 311.8L1727.0 311.7L1727.5 312.2L1728.0 312.1L1728.5 311.4L1729.0 312.3L1730.0 311.6L1731.0 311.5L1731.5 311.7L1732.0 311.5L1732.5 312.1L1733.0 311.6L1734.0 312.1L1735.0 311.7L1737.0 312.0L1737.5 311.8L1738.0 312.1L1739.0 312.4L1740.5 311.5L1741.5 312.5L1742.0 312.5L1743.0 311.7L1744.0 311.6L1745.0 312.4L1745.5 311.7L1746.0 312.3L1747.0 311.8L1747.5 312.0L1748.0 311.6L1749.0 312.4L1749.5 311.8L1750.0 312.5L1750.5 311.8L1751.0 311.9L1751.5 312.2L1752.0 311.7L1752.5 311.6L1753.0 312.0L1753.5 312.0L1754.0 311.7L1756.0 311.7L1757.0 312.4L1758.0 311.8L1759.0 312.5L1759.5 311.9L1760.0 312.3L1760.5 311.6L1761.0 312.3L1761.5 312.4L1762.0 312.1L1762.5 312.5L1763.0 312.2L1763.5 312.4L1765.0 311.8L1766.0 312.4L1766.5 311.6L1767.0 312.3L1767.5 311.6L1768.0 312.2L1769.0 312.5L1769.5 312.2L1772.0 312.3L1772.5 312.5L1773.0 312.0L1773.5 312.6L1774.0 311.8L1774.5 311.7L1775.0 311.7L1776.0 312.5L1776.5 311.7L1777.0 312.5L1777.5 312.1L1778.0 312.3L1778.5 311.8L1779.0 312.6L1779.5 312.1L1780.0 311.9L1780.5 312.3L1781.0 311.7L1781.5 312.3L1782.0 312.5L1782.5 311.8L1784.0 311.9L1785.0 312.5L1785.5 312.1L1786.5 312.6L1787.0 312.5L1787.5 312.1L1788.0 312.6L1788.5 311.9L1789.0 312.5L1789.5 311.8L1790.0 312.0L1790.5 311.8L1791.0 312.3L1791.5 311.8L1792.0 312.3L1792.5 311.9L1793.0 312.4L1794.5 311.8L1795.0 312.5L1795.5 311.9L1796.0 312.1L1796.5 312.6L1798.0 312.4L1798.5 312.6L1799.5 312.6L1800.5 312.2L1801.0 312.5L1801.5 312.2L1802.0 312.3L1802.5 311.8L1803.0 311.9L1803.5 312.5L1804.0 311.9L1804.5 311.9L1805.0 312.7L1806.0 312.8L1806.5 312.6L1807.0 312.1L1807.5 312.4L1808.0 312.3L1808.5 311.9L1809.0 312.0L1809.5 312.5L1810.0 312.3L1811.0 312.8L1811.5 311.9L1812.0 312.0L1812.5 312.8L1813.0 312.0L1814.0 312.4L1814.5 312.1L1815.0 312.3L1815.5 312.1L1816.0 312.7L1816.5 312.1L1817.0 312.6L1817.5 312.4L1818.0 312.4L1818.5 312.0L1819.0 312.8L1819.5 311.9L1820.0 312.8L1820.5 312.0L1821.0 312.3L1822.0 312.6L1822.5 312.2L1823.0 313.0L1823.5 312.3L1824.0 312.2L1824.5 312.7L1825.5 312.6L1826.0 312.9L1826.5 312.9L1827.0 312.3L1827.5 312.9L1828.0 312.9L1828.5 312.1L1829.5 312.9L1830.0 312.4L1830.5 312.4L1831.5 312.9L1832.0 312.0L1832.5 312.7L1833.5 313.0L1834.5 312.3L1835.0 312.7L1835.5 312.8L1836.0 312.2L1836.5 312.9L1837.0 312.7L1838.5 312.7L1839.0 312.2L1840.0 312.1L1840.5 312.4L1841.0 312.3L1841.5 312.7L1842.0 312.2L1842.5 312.3L1843.5 312.9L1844.5 312.2L1845.0 313.1L1845.5 312.7L1846.0 313.1L1846.5 312.9L1847.0 313.1L1848.0 312.9L1848.5 313.0L1849.0 312.9L1849.5 313.2L1850.0 313.1L1850.5 312.4L1851.5 313.2L1853.5 312.3L1854.0 312.7L1854.5 312.2L1855.5 312.7L1857.5 313.0L1858.0 312.8L1858.5 313.1L1859.0 312.3L1860.0 313.2L1860.5 313.0L1861.5 313.3L1862.0 312.5L1863.0 313.2L1863.5 312.6L1864.0 312.8L1865.0 312.4L1865.5 313.2L1866.0 313.1L1867.0 313.2L1867.5 312.9L1868.0 313.2L1868.5 313.1L1869.0 312.8L1869.5 312.8L1870.0 312.6L1871.0 313.2L1871.5 312.4L1872.0 313.3L1872.5 312.6L1873.0 312.9L1874.0 312.4L1874.5 313.0L1875.0 312.6L1876.0 313.3L1876.5 312.9L1878.0 312.5L1878.5 313.3L1879.5 312.8L1880.0 313.2L1881.0 312.7L1881.5 313.4L1882.0 312.9L1882.5 312.8L1883.0 313.5L1883.5 312.9L1884.0 313.0L1884.5 313.3L1886.0 312.6L1887.0 312.7L1887.5 313.3L1888.0 312.9L1888.5 313.1L1889.5 312.6L1890.0 313.5L1890.5 313.2L1891.5 313.2L1892.0 312.6L1892.5 313.4L1893.0 313.4L1893.5 312.8L1894.0 313.4L1894.5 313.5L1895.0 312.8L1895.5 313.5L1896.0 312.6L1896.5 313.3L1897.0 313.6L1897.5 312.8L1898.0 313.1L1898.5 312.6L1899.0 313.2L1899.5 312.7L1900.0 313.1L1900.5 312.8L1901.0 312.8L1901.5 313.3L1902.0 312.9L1902.5 312.8L1904.0 313.3L1905.5 313.4L1906.0 313.0L1906.5 313.4L1907.0 312.8L1907.5 312.8L1908.0 313.3L1908.5 313.4L1909.0 313.0L1909.5 313.7L1910.0 312.8L1910.5 313.5L1911.0 313.3L1912.0 313.2L1912.5 312.8L1913.5 313.4L1914.5 313.6L1915.0 313.1L1915.5 313.3L1916.0 312.9L1916.5 313.2L1917.0 313.2L1917.5 313.6L1918.0 312.9L1918.5 312.8L1919.0 313.4L1919.5 313.6L1920.0 312.9L1920.5 313.5L1921.0 313.0L1921.5 313.7L1922.5 313.0L1923.5 313.7L1924.0 313.8L1924.5 312.9L1925.0 313.3L1925.5 313.0L1926.0 313.8L1926.5 313.8L1927.0 313.3L1927.5 313.7L1928.0 313.1L1928.5 313.7L1929.0 313.1L1930.5 313.6L1931.5 313.0L1932.0 312.9L1933.0 313.2L1933.5 313.6L1934.0 313.1L1934.5 313.8L1935.5 313.3L1936.5 313.8L1937.0 313.2L1937.5 313.6L1938.5 313.8L1939.0 313.6L1939.5 313.0L1940.0 313.8L1940.5 313.2L1941.0 313.6L1941.5 313.1L1942.0 313.8L1943.5 313.7L1944.0 313.9L1944.5 313.6L1945.0 313.9L1945.5 313.3L1946.0 313.2L1947.0 313.4L1947.5 313.8L1948.0 313.8L1948.5 313.4L1949.0 313.8L1949.5 314.0L1950.0 313.5L1950.5 313.8L1951.0 313.4L1952.5 313.4L1953.0 313.2L1954.0 313.9L1954.5 313.3L1955.0 313.3L1955.5 314.0L1956.0 313.5L1957.5 313.2L1958.0 314.0L1958.5 313.9L1959.0 314.1L1960.0 313.8L1960.5 314.1L1961.0 313.4L1961.5 313.9L1962.0 314.0L1962.5 313.3L1963.0 314.1L1963.5 314.2L1964.0 313.4L1965.0 313.3" fill="none" stroke="#FF0080" stroke-width="4.5" stroke-linejoin="round"/>
<path d="M1108.0 446.1L1109.0 445.9L1109.5 445.0L1110.0 445.4L1110.5 445.1L1111.0 445.1L1111.5 444.6L1112.5 444.7L1113.0 444.4L1113.5 444.5L1114.0 444.0L1114.5 444.0L1115.0 444.5L1115.5 444.1L1116.5 444.2L1117.5 443.2L1118.0 443.8L1118.5 443.5L1119.5 443.3L1120.0 443.6L1120.5 442.8L1121.0 443.1L1121.5 442.6L1122.5 442.6L1123.5 441.8L1124.5 442.2L1125.5 441.7L1126.0 441.8L1126.5 441.2L1127.0 441.1L1127.5 441.1L1128.0 441.5L1128.5 440.8L1130.0 440.2L1131.5 441.3L1132.0 440.9L1133.0 441.1L1133.5 441.2L1134.0 441.8L1135.5 441.4L1136.0 442.2L1137.0 442.4L1137.5 442.0L1138.5 443.5L1139.0 443.6L1139.5 444.4L1140.0 444.0L1140.5 445.2L1141.0 444.7L1141.5 445.5L1142.0 445.5L1142.5 446.7L1143.0 447.0L1143.5 447.6L1144.5 447.5L1145.5 444.6L1146.0 440.1L1148.0 405.4L1148.5 403.5L1149.0 408.4L1150.5 437.6L1151.0 443.2L1152.0 448.9L1153.5 450.7L1154.0 450.3L1155.0 451.1L1155.5 450.7L1156.0 450.7L1156.5 451.3L1157.5 451.4L1158.5 451.0L1159.5 451.5L1160.5 451.0L1161.5 451.3L1162.0 451.7L1163.0 451.6L1163.5 451.9L1164.0 451.3L1164.5 451.8L1165.0 451.6L1166.0 452.2L1166.5 451.7L1167.0 452.4L1167.5 451.6L1168.0 452.1L1168.5 452.2L1169.0 451.9L1169.5 452.2L1170.5 452.1L1171.0 452.4L1171.5 451.7L1172.5 452.5L1173.0 451.8L1173.5 452.6L1174.0 451.9L1174.5 452.4L1175.0 451.9L1175.5 452.1L1176.0 452.1L1176.5 451.8L1177.0 452.4L1177.5 452.2L1178.0 452.4L1179.5 452.2L1180.0 452.0L1180.5 452.6L1181.0 451.8L1181.5 452.6L1182.0 452.5L1182.5 452.2L1183.0 452.5L1184.0 452.3L1184.5 452.0L1186.0 452.0L1186.5 452.6L1187.0 452.0L1188.0 452.1L1188.5 452.5L1189.0 452.2L1189.5 452.2L1190.0 451.9L1191.0 451.8L1192.0 451.9L1192.5 452.5L1193.5 451.8L1194.0 452.1L1194.5 451.7L1195.0 452.1L1195.5 451.9L1196.0 452.2L1196.5 451.3L1197.0 451.4L1198.0 448.7L1199.0 442.5L1200.0 439.2L1200.5 439.9L1201.0 441.7L1201.5 445.0L1202.5 449.3L1203.5 450.8L1204.5 450.4L1205.0 451.2L1206.0 450.3L1206.5 451.1L1207.0 451.0L1207.5 450.2L1208.0 449.9L1208.5 450.5L1209.0 449.9L1209.5 450.5L1210.0 450.1L1210.5 450.3L1211.0 450.1L1212.0 450.2L1214.5 449.2L1215.0 449.9L1215.5 449.2L1216.0 449.4L1216.5 449.2L1217.0 449.4L1217.5 449.3L1218.0 449.5L1218.5 449.0L1219.0 448.8L1220.5 448.9L1221.0 448.1L1221.5 448.2L1222.0 447.5L1222.5 445.7L1223.0 441.8L1224.0 430.2L1225.0 412.1L1225.5 405.8L1226.0 403.4L1226.5 405.5L1227.0 411.4L1228.0 428.1L1229.0 440.1L1230.0 445.1L1230.5 445.6L1232.0 445.4L1232.5 445.7L1233.5 445.0L1234.0 445.5L1234.5 445.2L1235.0 445.5L1235.5 445.0L1236.0 445.0L1236.5 444.7L1237.5 445.0L1238.0 444.9L1239.5 443.7L1240.0 444.4L1240.5 443.8L1242.0 443.2L1243.0 443.9L1243.5 443.6L1244.5 443.3L1245.5 442.6L1246.0 442.9L1246.5 442.3L1247.0 442.7L1248.0 442.5L1248.5 442.0L1249.0 441.8L1249.5 442.1L1250.0 441.7L1250.5 442.1L1251.0 441.6L1252.0 441.9L1253.0 441.4L1253.5 441.0L1254.0 441.0L1254.5 441.6L1255.0 440.8L1257.0 441.0L1257.5 440.4L1258.0 441.0L1258.5 439.9L1259.0 440.6L1259.5 440.3L1260.0 440.6L1260.5 439.7L1261.0 440.2L1261.5 440.3L1262.5 439.3L1263.0 440.0L1263.5 439.9L1264.0 439.0L1264.5 439.6L1265.0 438.7L1265.5 438.5L1266.0 439.1L1266.5 438.8L1267.0 438.9L1269.5 435.9L1270.5 431.5L1271.5 423.7L1272.5 412.9L1273.5 405.2L1274.0 404.0L1274.5 404.9L1275.0 408.5L1277.0 427.4L1277.5 430.7L1278.0 433.0L1279.0 435.9L1279.5 436.4L1280.0 436.3L1280.5 437.2L1281.0 436.9L1281.5 437.3L1282.0 437.3L1282.5 437.8L1283.0 437.3L1283.5 437.8L1284.0 437.1L1285.0 437.8L1285.5 437.8L1286.0 438.0L1286.5 437.4L1287.0 438.1L1287.5 438.1L1288.0 437.4L1288.5 437.5L1289.5 438.3L1290.5 437.8L1291.5 438.2L1292.0 437.9L1293.0 438.0L1293.5 438.4L1294.5 438.3L1295.0 437.7L1296.0 438.3L1296.5 438.2L1297.0 438.4L1297.5 438.4L1298.0 437.6L1298.5 438.0L1299.5 437.7L1300.5 438.4L1301.0 438.2L1301.5 437.6L1302.5 437.8L1303.0 438.3L1304.0 437.6L1304.5 438.0L1305.5 437.5L1306.5 438.4L1307.5 438.1L1308.0 437.6L1308.5 438.0L1309.5 438.1L1310.5 437.4L1311.0 438.3L1311.5 437.6L1312.0 438.1L1312.5 437.8L1313.0 438.1L1314.0 437.4L1315.5 438.0L1316.0 437.6L1316.5 437.9L1317.0 437.6L1317.5 437.9L1318.0 437.3L1318.5 438.0L1319.0 438.0L1319.5 437.1L1320.0 437.9L1321.0 437.6L1321.5 437.0L1322.0 437.6L1323.0 437.3L1323.5 437.6L1324.0 437.5L1324.5 437.1L1325.0 437.3L1325.5 436.4L1326.5 436.6L1327.0 436.4L1327.5 436.7L1328.0 436.1L1329.5 435.4L1330.0 434.3L1330.5 433.7L1331.5 430.0L1332.0 427.0L1333.5 411.9L1335.0 391.8L1335.5 386.8L1336.0 384.9L1336.5 385.0L1337.0 387.9L1340.0 424.7L1341.0 431.0L1342.5 434.8L1343.0 435.5L1343.5 435.5L1344.0 436.5L1344.5 436.8L1345.0 436.7L1345.5 437.1L1346.0 437.3L1346.5 436.6L1347.0 437.3L1348.0 437.5L1348.5 437.2L1350.0 438.1L1350.5 437.4L1351.0 437.8L1351.5 437.8L1352.0 438.3L1352.5 437.6L1353.5 437.3L1355.0 436.0L1356.0 432.4L1356.5 431.5L1357.0 429.8L1358.5 427.7L1359.5 427.2L1360.0 427.9L1361.5 431.5L1362.0 431.1L1362.5 429.3L1363.0 424.8L1363.5 416.4L1365.5 357.9L1366.0 348.9L1366.5 347.1L1367.0 354.6L1369.0 413.7L1370.0 430.5L1370.5 434.3L1372.0 438.9L1372.5 439.1L1373.0 439.1L1373.5 440.3L1374.0 440.2L1375.0 440.9L1375.5 440.6L1376.0 441.0L1376.5 440.8L1377.0 441.4L1377.5 441.4L1378.0 441.8L1378.5 441.3L1379.5 441.7L1380.0 441.4L1381.0 442.5L1381.5 442.5L1382.0 441.8L1382.5 442.5L1383.0 442.0L1383.5 442.0L1384.0 442.5L1385.0 441.9L1386.5 440.6L1387.0 441.0L1387.5 440.3L1388.0 441.4L1388.5 441.7L1389.0 442.6L1389.5 442.2L1390.5 443.1L1391.0 442.4L1391.5 442.8L1392.0 442.8L1393.0 443.1L1393.5 442.5L1394.0 443.0L1394.5 441.9L1395.0 441.9L1395.5 440.9L1396.0 440.9L1397.5 442.7L1398.5 442.9L1399.0 443.7L1401.0 442.8L1401.5 441.7L1402.0 441.7L1402.5 442.6L1403.0 442.5L1403.5 443.5L1404.5 444.3L1405.0 443.5L1405.5 444.0L1406.0 443.9L1406.5 444.1L1407.0 443.4L1407.5 443.6L1408.0 443.0L1409.0 439.4L1410.5 432.6L1411.0 430.8L1411.5 430.2L1412.5 433.9L1414.0 441.5L1415.5 445.2L1416.0 445.2L1416.5 445.5L1417.0 446.3L1417.5 445.6L1418.0 446.5L1418.5 446.1L1420.0 446.8L1420.5 446.2L1421.0 446.2L1421.5 446.7L1422.0 446.4L1422.5 446.7L1423.0 446.4L1423.5 446.5L1424.0 447.0L1424.5 446.5L1425.5 447.0L1426.0 446.7L1426.5 447.5L1427.0 447.7L1427.5 446.9L1428.0 447.7L1428.5 447.1L1429.0 447.7L1429.5 447.1L1430.0 447.8L1430.5 448.1L1431.0 447.5L1431.5 447.4L1432.0 447.7L1432.5 448.2L1433.0 448.2L1433.5 447.7L1434.0 448.5L1434.5 448.3L1435.5 448.7L1436.0 447.9L1436.5 448.6L1437.0 447.9L1438.0 448.5L1438.5 448.3L1440.0 448.7L1440.5 449.2L1441.0 448.9L1442.0 449.2L1442.5 448.7L1443.0 449.4L1444.0 449.5L1444.5 449.2L1445.0 449.3L1445.5 448.9L1447.0 450.0L1447.5 450.0L1448.0 449.5L1448.5 449.9L1449.5 450.2L1450.5 449.7L1451.0 450.3L1451.5 449.4L1452.0 449.9L1452.5 449.7L1453.0 449.7L1453.5 448.8L1455.0 443.4L1456.0 441.0L1456.5 440.3L1457.0 440.8L1458.5 446.7L1460.0 450.3L1460.5 450.2L1462.0 451.3L1462.5 450.6L1464.0 450.9L1465.0 451.5L1465.5 450.9L1466.0 451.5L1466.5 451.2L1468.0 451.6L1468.5 451.2L1469.0 451.7L1469.5 451.5L1470.0 452.0L1471.0 451.7L1471.5 452.4L1472.0 451.6L1472.5 451.5L1473.0 451.7L1473.5 452.3L1474.0 451.8L1474.5 452.4L1475.0 451.8L1476.0 452.2L1476.5 451.3L1477.5 451.5L1478.5 450.2L1479.0 450.7L1479.5 450.5L1480.0 451.2L1480.5 451.3L1481.5 452.7L1482.0 453.0L1482.5 453.2L1483.0 452.8L1483.5 453.1L1485.0 452.8L1485.5 453.4L1486.0 452.7L1486.5 452.8L1487.0 452.3L1487.5 452.6L1488.0 452.1L1488.5 450.9L1489.0 450.9L1491.5 446.1L1493.0 446.8L1493.5 448.2L1494.5 449.8L1495.0 451.1L1497.0 452.8L1497.5 453.7L1498.0 453.5L1499.0 454.0L1500.0 453.5L1500.5 454.2L1501.0 453.3L1502.0 454.1L1503.0 453.6L1503.5 454.0L1504.5 453.9L1505.0 453.5L1505.5 453.9L1506.5 454.1L1507.0 453.7L1507.5 454.2L1508.0 454.0L1508.5 453.5L1509.0 453.8L1509.5 453.4L1510.0 453.9L1510.5 453.6L1511.0 454.3L1511.5 453.6L1512.0 454.1L1512.5 454.1L1513.0 453.7L1513.5 453.9L1514.0 453.5L1515.5 454.0L1516.5 453.5L1517.0 454.0L1518.5 453.8L1519.0 454.2L1521.0 453.7L1522.0 454.0L1523.0 453.4L1523.5 453.6L1524.0 453.4L1526.0 453.8L1526.5 453.6L1527.5 453.8L1528.5 453.6L1529.5 454.2L1530.0 453.5L1530.5 453.4L1531.5 454.3L1532.5 453.8L1533.0 454.4L1533.5 454.1L1534.5 454.3L1535.0 453.5L1535.5 453.6L1536.0 454.2L1536.5 453.8L1537.0 454.3L1537.5 453.5L1538.0 454.4L1539.0 453.9L1539.5 454.3L1541.0 453.7L1541.5 454.3L1542.0 453.6L1542.5 453.8L1543.5 453.5L1544.0 453.8L1544.5 453.5L1545.0 454.0L1546.0 453.5L1546.5 454.0L1547.5 453.7L1548.0 454.1L1549.0 453.6L1549.5 454.5L1550.0 454.5L1550.5 453.8L1551.0 454.2L1551.5 454.1L1552.0 453.8L1552.5 454.1L1553.0 453.8L1554.0 454.0L1554.5 453.6L1555.0 453.8L1555.5 454.6L1556.5 453.9L1557.0 454.6L1557.5 453.9L1558.0 454.4L1558.5 453.9L1559.0 454.5L1559.5 454.1L1560.0 454.5L1560.5 453.7L1561.0 454.0L1561.5 454.0L1562.0 454.4L1562.5 454.5L1563.0 453.8L1563.5 454.0L1564.5 453.7L1565.5 453.7L1566.5 454.1L1567.0 454.5L1567.5 454.2L1568.0 454.3L1568.5 453.8L1569.5 453.7L1570.5 453.0L1571.0 453.1L1571.5 453.5L1572.0 452.3L1572.5 452.5L1573.0 451.9L1573.5 452.2L1574.0 451.2L1575.0 451.5L1576.0 450.9L1576.5 451.7L1577.0 451.0L1577.5 452.2L1579.0 453.0L1579.5 452.8L1580.0 453.3L1581.0 453.7L1581.5 453.7L1582.0 454.3L1582.5 453.8L1583.0 454.2L1583.5 453.7L1584.0 453.8L1584.5 454.6L1585.0 454.1L1585.5 454.1L1586.0 454.8L1587.0 453.9L1587.5 454.3L1588.5 454.4L1589.0 454.1L1589.5 454.1L1590.0 454.8L1590.5 454.4L1592.0 454.6L1592.5 454.0L1593.0 454.6L1594.0 454.0L1594.5 454.2L1595.0 454.8L1596.0 454.8L1596.5 454.4L1597.0 454.5L1597.5 454.3L1598.0 454.6L1599.0 454.2L1599.5 454.9L1600.5 453.9L1601.0 454.7L1601.5 454.0L1602.5 454.3L1603.0 454.1L1603.5 454.4L1605.5 454.6L1606.0 454.0L1606.5 454.2L1607.0 454.0L1608.0 454.4L1608.5 454.8L1609.0 454.0L1609.5 454.8L1610.0 454.1L1610.5 454.7L1611.5 454.9L1612.5 454.0L1614.5 454.9L1615.0 454.9L1615.5 454.0L1616.0 454.1L1616.5 454.6L1617.0 454.2L1617.5 454.6L1619.0 454.4L1619.5 454.9L1620.0 454.3L1620.5 454.4L1621.0 454.2L1621.5 454.3L1622.0 454.2L1622.5 454.7L1623.0 454.1L1623.5 454.3L1624.0 454.8L1624.5 454.9L1625.0 454.4L1625.5 454.8L1627.0 454.7L1627.5 454.8L1628.0 454.4L1629.5 454.3L1630.0 454.6L1630.5 454.6L1631.0 454.3L1632.0 454.1L1632.5 454.3L1633.0 454.3L1634.0 454.9L1634.5 454.6L1635.0 454.8L1636.0 454.2L1636.5 454.9L1637.0 454.9L1637.5 454.2L1638.5 454.6L1639.0 454.5L1639.5 453.8L1641.5 453.1L1642.0 452.1L1642.5 452.1L1643.0 452.6L1643.5 451.9L1644.0 452.1L1644.5 453.1L1646.0 453.8L1646.5 453.7L1647.0 454.5L1647.5 454.3L1648.5 455.1L1649.0 454.7L1650.5 454.3L1651.0 454.4L1651.5 454.3L1652.0 453.4L1652.5 453.0L1653.0 453.2L1653.5 452.8L1654.0 453.2L1654.5 452.8L1655.5 453.6L1656.0 454.4L1656.5 454.1L1657.5 454.6L1658.0 455.2L1658.5 454.9L1659.0 455.0L1659.5 455.5L1660.0 455.4L1660.5 455.0L1661.0 455.8L1661.5 455.0L1662.5 455.4L1663.0 455.3L1663.5 455.5L1664.0 454.7L1664.5 454.9L1665.0 454.2L1665.5 453.8L1666.0 454.0L1666.5 453.8L1667.0 452.9L1667.5 452.8L1668.0 453.1L1668.5 453.7L1669.0 453.5L1669.5 454.8L1670.0 454.3L1670.5 455.3L1671.0 455.7L1671.5 455.5L1672.0 456.1L1672.5 455.6L1673.0 456.3L1673.5 456.1L1674.0 456.4L1675.5 456.5L1676.0 455.9L1676.5 455.7L1677.0 455.9L1677.5 456.5L1678.0 456.2L1679.0 456.2L1679.5 455.7L1680.0 456.6L1680.5 456.3L1681.5 456.2L1682.0 456.6L1682.5 456.2L1683.5 456.5L1684.0 455.9L1684.5 456.6L1686.0 455.9L1686.5 456.3L1687.5 455.7L1688.0 456.6L1689.0 456.7L1690.0 456.2L1690.5 456.7L1691.0 456.0L1691.5 456.0L1692.5 456.4L1693.0 455.9L1693.5 455.8L1694.0 456.7L1694.5 455.8L1695.0 456.5L1695.5 456.2L1696.0 456.7L1696.5 456.6L1697.0 456.3L1698.0 456.5L1699.0 455.8L1699.5 456.8L1700.0 456.3L1700.5 456.6L1701.5 455.9L1702.5 456.0L1703.0 456.8L1703.5 456.6L1704.0 456.1L1704.5 456.3L1705.0 456.8L1706.0 456.1L1706.5 456.4L1707.0 456.0L1707.5 456.4L1708.0 455.9L1708.5 456.4L1709.0 455.9L1709.5 455.9L1710.0 456.6L1711.0 456.0L1712.0 456.7L1712.5 456.2L1713.0 456.1L1714.0 456.8L1715.0 456.3L1715.5 456.5L1716.0 456.2L1716.5 456.8L1717.0 456.1L1717.5 456.1L1718.5 456.7L1719.0 456.7L1719.5 456.5L1720.0 455.9L1720.5 456.7L1721.0 456.8L1721.5 456.0L1723.0 456.0L1723.5 456.0L1724.5 456.6L1725.0 456.4L1727.0 456.9L1728.5 456.0L1729.0 456.2L1729.5 456.1L1730.0 456.9L1730.5 456.7L1731.0 456.1L1732.5 456.6L1733.0 456.9L1733.5 456.3L1734.0 456.6L1734.5 456.4L1735.0 456.9L1735.5 456.5L1736.0 456.7L1736.5 456.5L1737.5 456.7L1738.0 456.4L1739.5 456.7L1740.5 456.3L1741.5 456.5L1743.0 456.0L1744.5 456.1L1745.5 457.0L1746.0 456.4L1746.5 456.9L1747.0 456.7L1747.5 456.9L1748.0 456.7L1748.5 457.0L1749.0 456.8L1749.5 456.1L1750.0 456.0L1750.5 457.0L1751.0 456.4L1752.0 457.0L1752.5 457.0L1753.5 456.4L1754.5 456.7L1755.0 456.1L1755.5 456.8L1756.0 456.0L1757.0 456.9L1758.5 456.9L1759.0 456.5L1760.5 456.6L1761.0 456.3L1762.0 456.5L1762.5 456.1L1763.0 456.6L1763.5 456.1L1764.0 456.6L1764.5 456.1L1766.5 457.1L1767.0 456.9L1767.5 456.9L1768.0 456.5L1769.0 456.6L1769.5 457.1L1770.0 456.9L1770.5 456.1L1771.0 456.8L1772.5 457.0L1773.0 456.5L1774.5 456.3L1775.0 457.0L1776.0 457.0L1776.5 456.4L1777.0 456.9L1777.5 456.1L1778.0 456.6L1779.0 456.4L1779.5 457.1L1780.0 456.1L1780.5 457.1L1781.0 456.8L1781.5 457.1L1782.0 456.6L1782.5 457.1L1783.0 456.7L1784.0 456.8L1784.5 456.4L1785.0 456.8L1785.5 456.3L1786.0 456.2L1786.5 456.9L1787.0 456.2L1787.5 457.1L1788.0 456.4L1788.5 457.1L1789.0 456.5L1789.5 456.9L1790.0 456.5L1790.5 456.9L1791.0 456.4L1792.0 456.5L1792.5 457.2L1793.0 457.1L1793.5 456.6L1794.0 457.2L1794.5 457.1L1795.0 456.4L1795.5 456.8L1796.0 456.4L1796.5 456.6L1797.5 456.5L1798.0 456.8L1798.5 456.5L1799.0 456.6L1799.5 456.4L1800.0 456.5L1800.5 457.0L1801.0 456.6L1801.5 457.2L1802.0 456.4L1802.5 456.3L1803.5 456.8L1804.0 456.6L1804.5 456.7L1805.0 457.0L1805.5 457.0L1806.0 456.5L1806.5 457.2L1807.0 456.7L1807.5 456.9L1808.0 456.7L1808.5 457.1L1810.5 456.4L1811.0 456.6L1811.5 457.2L1812.0 457.3L1813.0 456.4L1813.5 456.6L1814.0 457.3L1814.5 456.5L1815.0 456.8L1815.5 456.5L1816.0 456.9L1816.5 456.7L1817.0 457.4L1817.5 457.4L1818.0 456.9L1818.5 457.3L1819.5 456.9L1820.0 457.2L1820.5 456.5L1821.0 456.6L1821.5 457.3L1822.0 457.0L1822.5 457.1L1823.0 457.1L1823.5 457.3L1824.0 456.7L1824.5 456.6L1825.0 456.8L1825.5 457.3L1826.0 457.0L1826.5 457.2L1827.0 457.3L1827.5 456.8L1828.0 457.2L1828.5 457.3L1829.0 457.0L1830.5 457.0L1831.0 456.7L1832.0 457.4L1832.5 456.8L1833.0 457.0L1834.0 456.8L1834.5 457.5L1835.0 457.3L1835.5 456.7L1836.0 457.1L1837.5 456.7L1838.0 457.2L1838.5 457.0L1839.0 457.3L1839.5 456.7L1840.0 457.1L1840.5 457.1L1841.0 457.3L1841.5 456.7L1842.0 457.4L1843.5 456.8L1844.0 457.5L1844.5 456.7L1845.0 457.2L1845.5 457.0L1846.0 457.0L1846.5 457.6L1847.0 456.8L1848.0 456.7L1848.5 457.0L1849.0 456.8L1849.5 456.7L1850.0 457.4L1850.5 457.6L1851.0 456.9L1852.0 457.7L1852.5 456.9L1853.0 456.9L1853.5 457.2L1854.0 456.8L1854.5 457.3L1855.5 457.6L1856.0 456.9L1856.5 457.3L1857.5 457.2L1858.0 456.9L1858.5 457.4L1859.0 456.9L1859.5 457.5L1860.0 456.9L1860.5 456.8L1861.0 457.6L1861.5 457.1L1863.0 457.3L1863.5 456.8L1864.0 457.6L1864.5 457.8L1865.0 457.1L1866.0 457.1L1866.5 457.5L1868.0 457.5L1868.5 457.1L1869.0 457.4L1870.5 457.5L1871.0 457.9L1871.5 457.0L1872.0 457.4L1872.5 457.5L1873.0 457.1L1873.5 457.3L1874.0 457.1L1875.0 457.6L1875.5 457.2L1876.0 457.4L1876.5 457.1L1877.0 457.3L1877.5 457.9L1878.0 457.8L1878.5 457.3L1879.5 457.1L1880.0 457.8L1880.5 457.9L1881.0 457.0L1881.5 457.4L1882.5 457.2L1883.5 457.8L1884.0 457.4L1884.5 458.0L1885.5 457.2L1886.0 457.7L1886.5 457.1L1887.5 457.6L1888.0 457.2L1888.5 457.1L1889.5 457.9L1890.0 457.2L1891.0 457.7L1891.5 457.2L1892.0 457.4L1892.5 457.9L1893.5 457.6L1894.0 457.7L1894.5 457.1L1895.5 457.4L1896.0 457.2L1897.0 457.7L1898.5 457.6L1899.0 458.0L1899.5 457.4L1900.5 457.4L1901.0 457.4L1901.5 458.0L1902.0 457.6L1902.5 458.1L1903.0 457.6L1903.5 457.5L1904.0 457.8L1904.5 457.2L1905.0 457.7L1906.5 457.6L1907.0 457.9L1907.5 457.8L1908.0 457.2L1908.5 457.7L1910.0 457.4L1910.5 458.0L1911.0 457.4L1912.0 457.6L1912.5 458.2L1913.5 457.4L1914.5 457.6L1915.0 458.1L1915.5 457.3L1916.5 458.0L1917.0 457.4L1918.0 458.1L1918.5 457.8L1919.0 458.0L1919.5 457.9L1920.5 458.3L1921.0 457.9L1922.5 458.2L1923.0 457.7L1923.5 458.0L1924.0 457.8L1924.5 458.2L1925.0 458.2L1925.5 457.7L1926.5 458.3L1927.5 457.6L1928.0 457.9L1928.5 457.5L1929.0 457.7L1929.5 458.2L1930.0 457.6L1930.5 458.0L1931.5 458.4L1932.5 457.5L1933.5 458.1L1934.5 458.3L1935.0 457.5L1936.0 458.2L1936.5 457.7L1937.0 458.3L1937.5 458.4L1938.0 457.8L1938.5 458.1L1939.0 457.5L1939.5 458.1L1940.0 458.4L1941.0 457.8L1941.5 458.4L1942.0 457.5L1942.5 458.1L1943.0 457.6L1943.5 457.9L1944.5 457.6L1945.0 458.4L1945.5 458.3L1946.5 457.7L1947.0 458.1L1947.5 457.8L1949.0 458.5L1949.5 457.8L1950.5 457.8L1951.0 458.5L1951.5 458.4L1952.0 457.9L1952.5 458.0L1953.0 458.4L1954.5 458.0L1955.0 458.2L1955.5 457.6L1956.0 457.8L1956.5 458.5L1957.0 458.6L1957.5 458.2L1958.0 458.3L1959.0 458.0L1960.5 458.6L1961.0 457.9L1963.5 458.7L1964.5 458.3L1965.0 457.8" fill="none" stroke="#000080" stroke-width="4.5" stroke-linejoin="round"/>
<path d="M1108.0 592.0L1108.5 592.0L1109.0 591.3L1109.5 592.0L1110.0 591.1L1110.5 591.5L1111.0 590.8L1111.5 591.3L1112.0 590.6L1112.5 591.1L1113.5 590.9L1114.0 590.5L1114.5 590.8L1115.0 590.9L1115.5 589.9L1116.5 590.5L1118.0 589.5L1118.5 590.0L1119.0 589.0L1119.5 589.6L1120.0 589.5L1120.5 588.7L1122.0 588.7L1122.5 588.5L1123.0 588.9L1123.5 588.8L1124.0 588.0L1124.5 588.5L1125.0 587.6L1125.5 587.5L1126.0 587.9L1127.5 587.9L1128.0 587.6L1128.5 586.9L1129.0 587.3L1129.5 587.3L1130.0 586.4L1130.5 586.9L1131.0 586.6L1131.5 586.7L1133.0 587.9L1133.5 587.1L1134.5 588.2L1136.0 587.8L1136.5 588.2L1137.0 588.0L1138.0 588.9L1138.5 589.1L1139.0 589.9L1139.5 589.9L1140.5 591.2L1141.0 591.0L1141.5 591.3L1142.0 592.1L1142.5 592.4L1143.0 593.2L1143.5 593.0L1144.0 593.2L1145.0 592.2L1145.5 589.9L1146.0 585.7L1148.0 551.1L1148.5 549.3L1149.0 553.7L1150.5 582.9L1151.0 589.2L1151.5 592.9L1152.0 594.8L1153.0 596.6L1153.5 596.7L1154.0 596.8L1154.5 596.3L1155.5 596.9L1156.0 597.1L1156.5 596.9L1157.5 597.5L1158.0 596.9L1159.0 597.5L1159.5 597.1L1160.0 597.6L1161.0 597.0L1161.5 597.5L1162.0 597.1L1162.5 597.9L1163.0 598.0L1163.5 597.7L1164.0 598.2L1164.5 597.5L1165.0 597.8L1166.0 597.5L1166.5 598.3L1167.0 597.6L1167.5 598.5L1168.0 598.2L1168.5 598.4L1169.0 597.8L1169.5 598.7L1170.0 598.6L1170.5 597.9L1171.5 597.9L1172.0 598.3L1172.5 597.9L1173.0 598.6L1173.5 598.3L1174.0 598.5L1174.5 598.0L1175.0 598.4L1175.5 598.2L1176.0 598.4L1176.5 598.2L1177.0 598.8L1178.0 598.6L1178.5 598.1L1179.0 598.0L1180.0 597.9L1180.5 598.7L1181.0 598.1L1181.5 598.7L1182.0 598.0L1182.5 598.4L1183.0 598.0L1183.5 598.1L1184.0 598.5L1184.5 598.4L1185.0 598.7L1185.5 598.0L1186.5 597.8L1187.0 598.0L1187.5 598.8L1188.0 598.3L1189.0 598.1L1189.5 598.5L1190.0 598.5L1190.5 597.9L1191.0 597.8L1191.5 598.0L1192.0 598.6L1192.5 598.5L1193.0 598.0L1194.0 598.0L1194.5 598.4L1195.0 598.4L1195.5 597.8L1196.0 597.7L1196.5 597.4L1197.0 597.6L1198.0 594.8L1199.5 586.7L1200.0 586.0L1200.5 586.0L1201.0 587.8L1202.0 593.7L1202.5 595.1L1203.0 596.0L1203.5 596.3L1204.5 597.3L1205.0 596.7L1206.0 596.8L1207.0 596.3L1208.0 597.0L1208.5 596.8L1209.0 596.2L1209.5 596.6L1210.0 596.6L1211.5 595.8L1212.0 596.2L1212.5 596.2L1213.0 595.6L1214.0 595.4L1214.5 596.0L1215.0 596.0L1215.5 595.6L1216.5 595.7L1217.0 595.1L1217.5 595.4L1218.0 595.2L1218.5 595.6L1219.0 594.7L1219.5 595.3L1220.0 594.4L1220.5 594.7L1221.0 594.8L1221.5 593.5L1222.0 593.0L1223.0 588.1L1224.0 576.1L1225.5 551.3L1226.0 548.6L1226.5 550.2L1227.0 556.2L1228.5 581.3L1229.5 589.4L1230.0 591.2L1230.5 592.0L1231.0 591.5L1231.5 591.5L1232.0 591.6L1232.5 592.1L1233.0 591.3L1233.5 591.4L1234.5 590.8L1235.0 591.2L1235.5 590.8L1236.5 591.1L1237.0 590.9L1237.5 590.4L1238.0 590.7L1238.5 590.5L1239.0 590.6L1239.5 589.7L1240.5 590.2L1242.0 589.8L1244.5 589.6L1245.5 588.7L1246.0 588.8L1246.5 589.2L1247.5 588.8L1248.0 588.2L1248.5 588.1L1249.0 588.5L1250.0 587.8L1250.5 588.5L1251.0 587.6L1251.5 588.2L1252.0 587.8L1252.5 588.1L1253.0 587.8L1253.5 587.1L1254.0 587.0L1254.5 587.5L1255.0 587.0L1256.0 587.2L1256.5 587.0L1257.0 587.0L1258.0 586.4L1258.5 586.7L1259.0 586.1L1259.5 586.6L1260.0 586.6L1260.5 585.8L1261.0 585.6L1261.5 586.4L1262.0 585.6L1262.5 585.8L1263.5 585.2L1264.0 585.2L1264.5 584.9L1265.0 585.5L1266.0 585.2L1266.5 584.4L1267.0 584.3L1267.5 583.9L1268.0 584.3L1268.5 583.9L1269.5 581.8L1270.5 577.3L1273.0 555.3L1273.5 551.5L1274.0 550.4L1274.5 551.8L1275.0 554.2L1276.5 568.8L1277.5 576.2L1279.0 582.2L1279.5 582.7L1280.0 582.3L1280.5 583.3L1281.0 582.8L1282.0 583.8L1283.5 584.1L1284.5 583.2L1285.5 583.9L1286.0 583.9L1286.5 584.2L1287.0 583.5L1287.5 584.3L1288.0 584.0L1288.5 584.0L1289.0 583.6L1290.5 584.2L1292.0 584.2L1292.5 583.9L1293.0 583.9L1293.5 584.5L1294.5 584.1L1295.0 584.5L1296.0 584.3L1296.5 584.5L1297.0 583.9L1297.5 584.5L1298.0 584.1L1299.0 584.0L1299.5 583.6L1300.0 584.4L1300.5 584.5L1301.0 583.9L1301.5 584.5L1302.0 583.7L1303.0 584.5L1304.0 583.7L1304.5 584.2L1305.0 583.6L1305.5 584.3L1307.0 584.2L1307.5 583.6L1308.0 584.4L1308.5 584.3L1309.0 584.4L1309.5 583.7L1310.0 583.7L1310.5 584.2L1311.0 584.4L1312.0 583.7L1312.5 583.9L1313.0 583.7L1314.0 584.3L1315.0 583.6L1315.5 584.3L1316.0 584.2L1317.0 583.3L1317.5 583.9L1318.5 583.3L1319.0 584.1L1320.0 583.3L1320.5 583.4L1321.0 584.0L1321.5 583.3L1322.0 583.4L1323.0 582.9L1324.0 582.7L1324.5 583.1L1326.5 583.0L1327.0 582.1L1327.5 582.4L1328.0 581.7L1329.0 581.4L1330.0 580.8L1331.5 576.3L1332.5 569.8L1335.0 538.2L1335.5 532.7L1336.0 530.7L1336.5 531.2L1337.0 533.5L1339.0 559.8L1340.0 570.2L1341.0 576.3L1342.0 580.1L1343.5 581.8L1344.0 581.8L1345.0 583.0L1346.0 582.4L1347.0 583.0L1347.5 583.6L1348.0 583.8L1349.5 583.3L1350.0 584.2L1350.5 583.4L1351.5 584.3L1352.0 584.3L1352.5 583.8L1353.0 584.5L1354.0 583.6L1354.5 582.4L1355.0 582.0L1356.5 576.9L1357.0 576.3L1357.5 575.1L1358.5 573.6L1359.0 573.6L1359.5 572.7L1360.0 573.2L1360.5 574.1L1361.0 576.2L1361.5 576.8L1362.0 576.8L1362.5 575.7L1363.5 561.9L1364.0 550.1L1365.5 503.5L1366.0 493.5L1366.5 492.4L1367.0 499.3L1369.0 559.9L1369.5 569.8L1370.5 580.5L1371.5 584.0L1372.0 584.3L1372.5 585.6L1373.0 585.4L1373.5 585.7L1374.0 586.6L1375.0 586.6L1376.0 587.3L1376.5 587.1L1377.5 587.5L1379.0 587.6L1379.5 588.2L1380.0 588.1L1380.5 587.7L1381.0 587.8L1382.0 588.3L1383.5 588.6L1384.5 588.0L1385.0 588.5L1386.0 587.4L1386.5 587.4L1387.0 586.4L1387.5 586.5L1388.0 587.5L1389.0 588.7L1389.5 588.4L1390.0 588.9L1390.5 589.1L1392.0 588.6L1392.5 588.9L1393.0 588.9L1393.5 589.4L1394.0 588.3L1394.5 588.5L1395.0 588.2L1395.5 587.4L1396.0 587.1L1397.0 588.9L1397.5 588.9L1398.0 589.5L1398.5 589.1L1400.5 589.4L1401.0 588.2L1401.5 587.8L1402.0 588.0L1403.0 589.3L1404.0 590.1L1405.0 589.8L1405.5 590.7L1406.5 589.7L1407.0 589.6L1408.0 588.8L1411.0 576.7L1412.0 577.8L1414.5 589.0L1415.5 591.1L1416.0 591.1L1416.5 592.1L1417.0 592.5L1417.5 592.0L1418.0 592.5L1418.5 591.9L1419.0 592.0L1420.0 592.9L1421.0 592.4L1421.5 592.4L1422.0 593.2L1422.5 593.1L1423.0 593.4L1423.5 592.7L1424.0 593.3L1424.5 592.8L1425.0 592.8L1425.5 593.1L1426.0 593.1L1426.5 593.6L1427.5 593.2L1428.0 593.9L1428.5 593.9L1429.0 593.5L1429.5 593.9L1430.0 593.3L1430.5 593.6L1431.0 594.2L1432.0 593.5L1432.5 593.7L1433.0 594.4L1433.5 594.0L1434.0 594.6L1434.5 594.7L1435.0 594.4L1435.5 594.7L1436.0 594.2L1436.5 594.7L1437.0 594.0L1437.5 594.5L1438.0 594.1L1438.5 594.4L1439.0 595.2L1440.0 594.4L1440.5 595.2L1441.5 595.5L1442.5 594.8L1443.0 595.4L1443.5 595.3L1444.0 594.8L1444.5 595.3L1445.5 595.7L1447.0 595.2L1447.5 595.2L1448.5 595.7L1449.0 595.7L1449.5 596.3L1450.0 595.9L1450.5 596.3L1451.0 596.2L1452.0 596.3L1452.5 596.2L1453.0 595.6L1454.0 593.9L1455.5 587.8L1456.0 586.5L1456.5 586.1L1457.0 586.9L1458.5 593.3L1459.0 594.5L1459.5 595.7L1460.0 596.2L1460.5 596.2L1461.0 597.0L1462.0 596.9L1462.5 597.4L1463.0 597.5L1463.5 596.8L1464.0 596.7L1465.0 597.3L1466.5 597.2L1467.0 597.4L1467.5 597.1L1468.5 598.0L1469.5 598.0L1470.0 597.5L1470.5 597.8L1471.0 597.5L1472.0 597.6L1472.5 597.7L1473.0 598.4L1473.5 598.0L1474.0 598.4L1475.0 598.1L1475.5 598.4L1476.5 597.6L1477.5 597.1L1478.0 596.4L1479.0 596.2L1479.5 597.0L1480.0 596.7L1480.5 597.8L1481.0 597.8L1481.5 598.1L1482.0 599.2L1482.5 599.4L1483.0 599.1L1483.5 599.7L1484.0 599.1L1484.5 599.2L1485.0 599.7L1486.0 599.6L1486.5 598.9L1487.0 599.1L1487.5 598.9L1488.5 597.2L1489.0 597.0L1490.0 594.3L1491.0 593.6L1491.5 593.0L1492.5 592.4L1493.0 593.7L1493.5 593.9L1494.0 594.8L1494.5 596.3L1495.0 597.0L1495.5 598.3L1496.0 598.7L1496.5 598.5L1497.5 599.1L1499.0 599.6L1499.5 599.3L1500.0 600.0L1500.5 600.1L1501.0 599.7L1502.0 599.9L1502.5 600.3L1503.0 600.1L1503.5 599.5L1504.0 599.9L1504.5 599.6L1505.0 600.2L1505.5 600.2L1506.0 599.8L1506.5 600.3L1507.5 600.2L1508.0 599.7L1508.5 600.2L1509.0 599.5L1509.5 600.2L1510.0 599.7L1510.5 600.3L1511.0 599.8L1512.0 599.6L1512.5 599.7L1513.0 600.3L1514.0 599.7L1514.5 600.4L1515.0 600.2L1515.5 599.4L1516.5 600.3L1517.5 599.4L1518.0 600.0L1519.0 600.2L1520.0 599.8L1520.5 599.9L1521.0 599.5L1521.5 600.4L1522.0 600.4L1522.5 599.6L1523.5 599.5L1524.5 600.2L1525.0 599.8L1525.5 599.7L1526.5 600.1L1528.0 599.9L1529.0 600.1L1529.5 599.8L1530.0 600.5L1530.5 600.2L1531.0 600.3L1531.5 600.2L1532.0 600.5L1532.5 599.5L1534.0 600.5L1535.0 599.7L1536.0 600.5L1536.5 599.6L1537.0 599.6L1537.5 600.2L1538.0 599.7L1538.5 600.5L1539.0 599.6L1539.5 600.3L1540.0 599.9L1541.0 600.2L1542.0 599.9L1542.5 600.5L1543.0 600.0L1544.0 599.6L1544.5 600.2L1545.0 599.8L1545.5 600.1L1546.5 599.7L1547.5 600.3L1548.0 600.0L1548.5 600.6L1549.5 600.3L1550.5 600.5L1551.0 600.1L1551.5 600.6L1552.0 599.9L1552.5 600.6L1553.0 600.5L1553.5 599.8L1554.0 599.7L1554.5 600.3L1555.0 600.1L1555.5 600.1L1556.0 599.7L1556.5 600.1L1557.5 600.4L1558.0 600.3L1558.5 600.4L1559.0 600.1L1559.5 600.6L1560.0 599.9L1560.5 600.2L1561.0 600.1L1561.5 600.6L1562.5 599.8L1563.0 600.5L1563.5 600.4L1564.0 600.0L1564.5 600.7L1565.0 599.7L1565.5 600.0L1566.0 600.6L1566.5 600.6L1568.0 599.7L1568.5 600.3L1569.0 599.6L1569.5 600.4L1570.0 599.4L1571.0 598.9L1572.5 598.9L1573.0 597.9L1573.5 597.6L1574.0 597.5L1574.5 598.0L1575.0 597.2L1575.5 597.2L1576.0 597.8L1577.0 597.5L1577.5 598.1L1578.0 598.0L1579.0 598.9L1580.0 598.8L1580.5 599.7L1581.5 600.3L1582.0 599.6L1582.5 600.1L1583.0 600.2L1583.5 600.0L1585.0 600.8L1585.5 600.0L1586.0 600.0L1586.5 600.8L1587.0 600.4L1587.5 600.3L1588.0 600.7L1588.5 600.9L1589.0 600.3L1589.5 600.9L1590.5 600.3L1591.0 600.6L1591.5 600.5L1592.0 600.6L1592.5 600.0L1593.0 600.7L1593.5 600.2L1594.5 600.6L1595.0 600.5L1595.5 600.5L1596.0 600.1L1597.0 600.6L1598.0 600.1L1599.5 600.5L1600.0 601.0L1600.5 600.6L1601.0 600.9L1601.5 600.9L1602.0 600.1L1602.5 600.0L1603.0 600.9L1603.5 600.4L1604.5 601.0L1605.0 600.0L1606.0 600.8L1606.5 600.4L1607.0 600.7L1607.5 600.3L1608.0 600.9L1608.5 600.7L1609.0 600.1L1609.5 600.6L1610.5 600.2L1611.0 601.0L1611.5 600.2L1612.0 600.6L1612.5 600.4L1613.0 600.6L1614.0 600.5L1614.5 600.8L1615.0 600.3L1615.5 600.7L1616.0 600.7L1617.0 600.2L1617.5 600.8L1618.0 600.7L1618.5 601.0L1619.0 601.0L1619.5 600.3L1620.0 601.1L1620.5 600.5L1621.0 600.6L1621.5 600.4L1622.5 600.8L1623.0 600.4L1623.5 600.4L1624.0 600.7L1625.0 600.7L1625.5 600.3L1626.0 601.1L1626.5 601.1L1627.0 600.3L1627.5 600.5L1628.0 600.2L1629.0 600.2L1630.5 601.1L1631.5 600.3L1632.0 601.0L1632.5 600.3L1633.0 600.8L1635.0 600.3L1635.5 600.9L1636.0 600.9L1637.0 600.5L1637.5 600.9L1638.0 600.6L1638.5 600.9L1639.0 600.5L1639.5 599.8L1640.5 599.5L1641.0 598.8L1641.5 599.1L1643.0 598.3L1643.5 598.4L1644.0 599.0L1644.5 598.7L1645.0 599.7L1645.5 599.2L1646.0 599.5L1646.5 600.5L1647.0 600.8L1647.5 600.3L1648.5 601.1L1649.0 601.2L1649.5 601.2L1650.0 600.7L1651.0 600.8L1651.5 600.6L1652.0 599.6L1652.5 600.0L1653.0 599.8L1654.0 598.9L1655.5 600.0L1656.5 599.9L1658.0 600.9L1659.0 601.3L1660.0 601.3L1660.5 601.5L1661.0 601.0L1662.0 601.8L1662.5 601.8L1663.0 601.0L1663.5 601.3L1664.0 601.3L1664.5 600.5L1665.5 600.3L1666.0 599.6L1667.0 598.9L1667.5 599.3L1668.5 599.4L1669.0 600.1L1670.0 600.4L1671.0 601.9L1671.5 601.9L1672.0 602.3L1673.0 601.7L1673.5 602.6L1674.0 601.9L1675.0 601.9L1675.5 602.3L1677.0 601.9L1678.0 602.2L1679.0 601.8L1679.5 602.2L1680.5 602.4L1681.0 602.7L1681.5 602.0L1682.0 602.5L1683.5 601.9L1684.5 601.9L1685.0 602.0L1685.5 602.7L1686.5 602.0L1687.0 602.5L1687.5 602.6L1688.5 602.2L1689.0 602.7L1690.0 602.2L1690.5 602.8L1692.0 602.4L1692.5 602.9L1693.0 602.3L1694.0 601.9L1694.5 602.7L1695.0 602.7L1695.5 602.3L1696.0 602.8L1697.0 601.9L1697.5 602.8L1698.0 602.0L1698.5 602.8L1699.0 602.4L1700.0 602.4L1700.5 602.4L1701.0 602.9L1702.0 602.6L1702.5 602.2L1703.0 602.2L1703.5 602.8L1704.5 602.0L1705.5 602.9L1706.0 601.9L1706.5 602.8L1707.0 602.2L1708.0 602.5L1709.5 602.5L1710.0 602.1L1710.5 602.1L1711.0 602.9L1711.5 602.0L1712.0 602.8L1712.5 602.2L1713.0 602.2L1713.5 602.7L1714.0 602.5L1714.5 602.8L1715.0 602.3L1715.5 602.6L1716.0 602.0L1716.5 602.5L1717.0 602.4L1718.0 602.8L1718.5 602.8L1719.0 602.0L1720.0 602.7L1720.5 602.3L1721.0 602.2L1721.5 602.9L1723.0 602.5L1723.5 602.8L1724.0 602.5L1725.5 602.2L1726.0 602.9L1726.5 602.6L1727.5 602.7L1728.0 602.2L1728.5 602.6L1729.0 602.0L1730.5 602.9L1731.5 602.8L1732.0 602.1L1732.5 602.5L1733.0 602.6L1733.5 602.4L1734.0 603.0L1734.5 602.4L1735.0 602.9L1737.0 602.6L1737.5 603.0L1738.0 602.4L1738.5 602.1L1739.0 602.4L1740.5 602.3L1741.0 602.7L1741.5 602.3L1742.0 602.7L1742.5 602.3L1743.0 602.2L1743.5 602.9L1744.0 603.0L1745.5 602.6L1746.5 602.9L1747.0 602.3L1747.5 602.4L1748.0 603.1L1748.5 602.4L1749.0 602.5L1749.5 602.3L1750.0 602.6L1751.5 602.5L1752.0 603.0L1752.5 603.1L1753.5 602.3L1754.0 603.1L1756.0 602.4L1756.5 603.1L1757.0 602.5L1757.5 602.5L1758.0 602.3L1758.5 603.1L1759.0 603.0L1759.5 602.2L1760.5 602.5L1762.0 602.2L1763.0 602.8L1764.0 602.5L1766.0 602.9L1766.5 602.8L1767.0 603.0L1767.5 602.6L1768.5 602.8L1769.0 603.2L1769.5 603.2L1770.0 602.3L1770.5 602.7L1771.0 602.6L1771.5 603.0L1772.0 603.1L1772.5 602.9L1773.0 602.3L1773.5 603.2L1774.5 602.3L1776.0 603.2L1776.5 602.8L1777.0 603.0L1777.5 602.2L1778.5 603.0L1779.0 602.4L1779.5 602.3L1780.0 602.7L1780.5 602.3L1781.0 602.3L1781.5 602.3L1782.0 602.8L1783.0 603.0L1783.5 602.5L1784.5 603.2L1785.0 603.2L1785.5 602.9L1786.0 602.9L1786.5 602.5L1787.0 602.5L1787.5 603.1L1788.0 602.7L1788.5 603.2L1789.5 603.2L1790.0 602.5L1790.5 603.0L1791.5 603.3L1792.5 602.5L1794.5 603.0L1795.5 602.5L1797.0 603.3L1797.5 602.7L1798.0 602.6L1799.0 603.2L1799.5 602.7L1800.0 602.6L1800.5 603.3L1801.0 602.5L1801.5 603.1L1802.0 603.0L1802.5 603.1L1803.0 603.0L1803.5 603.1L1804.0 602.5L1804.5 602.4L1805.0 603.1L1805.5 603.0L1806.0 602.4L1806.5 603.0L1807.0 602.4L1807.5 603.3L1809.0 602.8L1809.5 603.2L1810.0 602.5L1811.0 603.3L1811.5 603.4L1812.5 602.5L1813.0 602.9L1813.5 602.6L1814.5 603.3L1815.5 602.6L1816.0 603.0L1817.0 602.8L1818.5 603.2L1819.5 602.7L1820.0 603.4L1820.5 602.8L1821.0 603.5L1821.5 602.6L1822.0 603.4L1822.5 603.5L1823.0 602.7L1823.5 603.0L1826.0 602.9L1826.5 603.3L1827.5 603.0L1828.0 603.4L1828.5 602.8L1829.0 603.3L1829.5 602.8L1830.5 603.4L1831.0 603.0L1831.5 603.6L1832.0 602.7L1832.5 603.6L1833.0 603.5L1833.5 602.9L1834.0 603.5L1835.0 603.1L1835.5 603.6L1836.0 603.5L1836.5 603.0L1837.0 603.5L1838.0 603.4L1838.5 603.6L1839.5 602.7L1840.0 603.2L1841.5 603.2L1842.0 603.6L1844.0 603.2L1844.5 603.6L1845.0 603.1L1845.5 602.9L1846.0 603.3L1846.5 602.8L1847.0 603.3L1847.5 603.0L1848.0 603.5L1849.5 603.0L1850.0 603.2L1850.5 602.9L1851.0 603.4L1852.5 603.4L1853.5 603.8L1854.0 603.0L1855.0 603.5L1856.0 602.9L1856.5 603.7L1857.0 603.7L1858.0 602.9L1859.0 603.5L1860.0 603.4L1860.5 603.8L1861.0 603.8L1861.5 603.3L1863.0 603.8L1863.5 602.9L1864.0 603.6L1865.0 603.4L1865.5 603.8L1866.0 603.3L1866.5 603.5L1867.0 603.9L1867.5 603.4L1868.0 603.5L1868.5 603.0L1869.5 603.8L1870.0 603.3L1870.5 603.3L1871.0 603.0L1871.5 603.4L1872.5 603.8L1873.0 603.2L1873.5 603.6L1874.5 603.6L1875.0 603.1L1876.5 603.1L1877.0 603.9L1877.5 603.3L1878.5 603.1L1879.5 604.0L1880.5 603.5L1881.0 603.8L1881.5 603.2L1882.0 603.2L1882.5 603.8L1883.5 603.5L1884.0 604.0L1884.5 603.4L1885.0 603.2L1885.5 603.7L1886.0 603.2L1886.5 603.9L1887.0 603.4L1888.0 603.3L1888.5 603.7L1889.5 603.7L1890.5 604.1L1891.0 603.3L1891.5 604.1L1892.0 603.3L1892.5 603.3L1893.0 603.9L1893.5 604.0L1894.0 603.3L1895.0 604.0L1895.5 604.0L1896.5 603.9L1897.0 603.4L1897.5 603.3L1898.0 604.2L1898.5 603.6L1899.0 603.6L1899.5 603.9L1900.0 603.4L1900.5 603.4L1901.0 603.6L1902.0 603.5L1902.5 604.2L1903.0 603.8L1904.0 603.7L1904.5 603.4L1905.0 604.0L1905.5 604.2L1906.0 603.3L1906.5 604.2L1908.0 603.5L1908.5 603.6L1909.0 604.0L1910.5 603.5L1911.0 604.1L1911.5 604.3L1912.0 604.0L1912.5 604.3L1913.0 603.9L1914.0 604.1L1915.0 603.8L1915.5 604.2L1916.0 603.9L1917.0 604.0L1917.5 603.7L1919.0 604.1L1920.5 603.4L1921.0 604.3L1921.5 604.1L1922.0 604.2L1922.5 603.5L1923.0 604.3L1924.0 603.9L1924.5 604.2L1926.5 603.9L1927.0 604.3L1928.0 603.5L1928.5 603.5L1929.0 603.6L1929.5 604.3L1930.0 603.6L1930.5 603.6L1931.0 604.3L1932.0 604.2L1932.5 604.3L1933.0 604.1L1933.5 604.4L1934.5 603.7L1935.0 604.1L1936.0 603.9L1936.5 604.4L1937.0 604.0L1937.5 604.4L1938.0 603.8L1938.5 603.9L1939.5 604.6L1940.0 604.1L1940.5 604.5L1942.0 603.9L1942.5 604.1L1943.0 603.7L1943.5 604.3L1944.0 603.7L1944.5 603.7L1945.0 604.5L1946.0 604.3L1946.5 604.6L1947.0 603.9L1947.5 604.3L1948.0 604.1L1948.5 604.6L1949.0 604.0L1950.0 603.8L1950.5 604.6L1951.0 604.0L1951.5 604.5L1952.0 604.0L1952.5 604.5L1953.0 604.0L1953.5 604.4L1954.0 604.2L1954.5 604.3L1955.0 604.2L1955.5 604.6L1956.0 603.8L1957.0 604.4L1958.0 603.9L1958.5 604.3L1959.0 604.2L1959.5 603.8L1960.5 604.6L1961.0 603.9L1961.5 604.6L1962.0 603.9L1962.5 604.2L1963.0 604.3L1963.5 604.0L1964.0 604.4L1964.5 604.5L1965.0 604.0" fill="none" stroke="#FF8000" stroke-width="4.5" stroke-linejoin="round"/>
<path d="M1108.0 736.7L1108.5 737.1L1109.0 736.9L1109.5 736.2L1110.0 736.8L1110.5 736.4L1111.0 735.7L1111.5 736.5L1112.0 735.7L1113.5 735.8L1114.0 735.2L1114.5 735.7L1115.0 735.7L1115.5 735.3L1116.0 735.4L1116.5 735.1L1117.0 735.2L1117.5 734.5L1118.5 734.5L1119.0 734.0L1119.5 734.8L1120.5 733.7L1121.0 734.0L1122.0 733.4L1122.5 733.2L1123.0 733.4L1123.5 732.9L1124.0 733.3L1124.5 733.1L1125.0 732.6L1125.5 733.2L1126.0 732.3L1126.5 732.3L1127.0 732.8L1127.5 732.1L1128.5 732.2L1129.0 732.0L1130.5 731.9L1131.0 731.5L1131.5 732.4L1132.0 732.0L1132.5 731.9L1133.5 733.0L1134.5 733.6L1135.5 735.4L1136.0 737.0L1136.5 738.0L1137.5 739.0L1138.5 738.9L1139.0 738.1L1139.5 736.8L1141.5 727.1L1142.0 727.0L1143.5 736.0L1144.0 737.4L1144.5 737.7L1145.0 737.2L1145.5 735.1L1146.0 731.1L1148.0 696.4L1148.5 695.3L1149.0 699.5L1150.5 728.3L1151.0 734.7L1151.5 737.9L1152.5 741.1L1153.5 741.1L1154.0 741.9L1154.5 741.9L1155.0 741.4L1155.5 741.9L1156.0 741.6L1156.5 742.4L1157.0 741.8L1157.5 742.5L1158.5 741.8L1159.5 742.8L1160.5 742.1L1161.0 742.3L1162.0 742.1L1162.5 742.7L1163.0 742.8L1163.5 742.4L1164.5 743.2L1165.0 743.2L1165.5 742.6L1166.0 742.5L1166.5 743.4L1167.0 742.9L1167.5 742.8L1168.0 743.5L1168.5 743.0L1169.0 743.5L1169.5 743.5L1170.0 743.1L1170.5 743.2L1171.0 743.1L1171.5 743.6L1172.0 743.1L1172.5 743.1L1173.0 743.6L1173.5 743.1L1174.5 743.3L1175.0 742.8L1176.5 743.8L1177.0 743.1L1177.5 743.3L1178.0 742.8L1178.5 743.3L1180.5 743.1L1181.0 743.7L1181.5 743.6L1182.5 742.9L1183.0 742.8L1184.0 742.9L1184.5 743.4L1185.0 743.3L1185.5 742.9L1186.0 743.7L1186.5 743.5L1187.5 743.7L1188.0 743.1L1188.5 743.7L1189.0 743.8L1189.5 743.7L1190.0 742.8L1190.5 743.6L1191.0 743.8L1191.5 742.9L1192.0 743.6L1192.5 743.6L1193.0 742.8L1193.5 743.5L1194.5 743.4L1195.0 742.7L1195.5 743.5L1196.0 742.5L1196.5 742.2L1197.0 742.6L1198.0 739.0L1199.5 731.4L1200.0 730.9L1200.5 731.3L1201.0 733.0L1202.5 740.6L1203.0 741.0L1203.5 742.1L1204.5 742.0L1205.0 741.6L1205.5 741.8L1206.0 741.4L1207.5 742.0L1208.0 741.2L1208.5 741.1L1209.0 741.7L1209.5 741.0L1210.5 741.2L1211.0 741.1L1211.5 741.6L1212.0 740.6L1212.5 741.3L1213.5 740.5L1214.0 740.5L1214.5 741.1L1215.0 740.3L1215.5 740.5L1216.0 740.1L1217.0 740.6L1217.5 740.6L1218.0 740.1L1218.5 740.1L1219.0 740.4L1219.5 740.3L1220.5 739.2L1221.0 739.8L1222.0 738.0L1223.0 732.6L1224.0 720.7L1225.5 695.7L1226.0 693.4L1226.5 694.9L1228.5 725.9L1229.0 730.8L1229.5 734.7L1230.0 735.9L1231.0 736.9L1231.5 736.6L1232.0 737.1L1233.0 736.1L1233.5 736.1L1234.0 735.9L1234.5 736.5L1235.0 735.7L1235.5 736.0L1236.0 736.0L1236.5 735.4L1237.0 735.9L1237.5 735.8L1238.0 736.0L1239.0 735.8L1239.5 735.3L1240.5 735.0L1241.0 734.6L1242.0 735.2L1242.5 734.6L1243.0 734.9L1243.5 734.2L1244.5 734.2L1245.0 734.6L1245.5 733.9L1246.0 734.2L1246.5 733.5L1247.0 734.0L1247.5 733.6L1248.0 734.0L1248.5 732.9L1249.0 733.1L1249.5 733.6L1250.5 732.8L1251.0 733.3L1251.5 732.7L1252.0 733.1L1253.0 732.1L1253.5 732.0L1254.0 732.7L1254.5 732.6L1255.0 731.8L1255.5 732.5L1256.5 731.9L1257.0 732.0L1258.0 731.1L1259.0 731.3L1259.5 731.7L1260.0 731.0L1260.5 731.4L1261.0 731.2L1261.5 730.6L1262.0 730.8L1263.0 730.9L1263.5 730.4L1264.0 730.9L1264.5 730.6L1265.0 729.7L1265.5 730.4L1266.0 730.0L1266.5 730.2L1267.0 729.2L1267.5 729.5L1268.0 729.1L1269.5 726.6L1270.0 725.3L1271.0 719.0L1273.5 696.1L1274.0 695.7L1274.5 696.9L1275.0 699.5L1277.0 718.5L1277.5 721.6L1278.5 726.1L1279.0 727.2L1280.0 727.8L1280.5 728.1L1283.0 728.3L1283.5 729.0L1284.0 728.6L1284.5 729.1L1285.0 728.7L1285.5 729.3L1286.5 728.7L1289.5 728.8L1290.0 728.5L1290.5 729.4L1291.0 729.3L1291.5 728.8L1292.0 729.3L1292.5 728.6L1293.0 729.1L1293.5 729.1L1294.5 729.5L1295.0 729.1L1295.5 729.4L1296.0 729.2L1296.5 728.6L1297.5 728.7L1298.0 729.3L1299.0 728.9L1299.5 729.1L1300.0 729.5L1300.5 729.0L1301.0 729.4L1301.5 728.9L1302.5 729.3L1303.0 728.7L1303.5 729.5L1304.0 728.7L1304.5 728.7L1305.0 729.5L1305.5 728.8L1306.0 729.0L1306.5 729.5L1307.0 728.7L1307.5 729.2L1308.0 729.2L1308.5 728.6L1309.0 728.6L1309.5 729.5L1311.5 728.9L1312.0 729.3L1312.5 728.5L1313.0 728.7L1313.5 728.7L1314.5 729.3L1315.0 728.6L1315.5 728.4L1316.0 728.6L1316.5 729.2L1317.5 728.4L1318.0 728.9L1319.0 728.2L1320.0 729.0L1320.5 729.0L1321.0 728.4L1322.0 728.9L1322.5 728.0L1324.0 728.0L1325.0 728.5L1325.5 727.6L1327.0 727.7L1327.5 727.0L1328.0 727.2L1329.0 726.8L1330.5 724.6L1331.5 721.1L1332.5 714.9L1333.0 709.8L1335.0 683.0L1335.5 677.8L1336.0 675.4L1336.5 675.7L1337.0 678.5L1339.5 710.1L1340.5 719.3L1342.0 725.3L1343.0 726.1L1343.5 726.8L1344.0 726.7L1344.5 727.6L1345.0 728.0L1345.5 727.3L1346.5 728.5L1347.0 728.0L1347.5 728.0L1348.0 728.7L1348.5 728.0L1349.0 728.1L1350.0 729.1L1350.5 729.0L1351.0 729.2L1351.5 729.0L1352.0 729.6L1352.5 728.9L1353.0 729.1L1353.5 728.5L1354.5 727.8L1355.0 726.3L1355.5 725.6L1357.0 720.7L1358.5 718.5L1359.0 718.6L1359.5 718.4L1360.0 718.5L1361.5 722.5L1362.0 721.8L1362.5 719.9L1363.0 715.5L1364.0 695.1L1365.5 647.7L1366.0 639.3L1366.5 637.2L1367.0 644.8L1367.5 657.9L1369.0 704.8L1370.0 721.5L1370.5 725.3L1372.0 729.4L1372.5 730.0L1373.0 730.1L1373.5 731.0L1374.0 730.7L1375.0 731.9L1375.5 731.7L1376.0 731.9L1376.5 732.6L1377.5 732.8L1378.0 732.2L1380.5 733.5L1381.5 732.8L1382.0 732.8L1383.0 733.8L1383.5 733.0L1384.0 733.9L1384.5 732.9L1385.0 732.9L1385.5 733.0L1386.0 732.2L1386.5 731.9L1387.5 732.3L1388.5 733.2L1390.0 733.9L1390.5 733.8L1391.0 734.1L1391.5 733.7L1392.0 734.1L1393.0 733.7L1394.0 733.7L1395.0 732.6L1395.5 732.8L1396.0 732.2L1397.0 733.4L1397.5 734.5L1398.0 734.8L1398.5 734.7L1399.0 734.0L1400.0 734.7L1400.5 733.7L1401.0 733.8L1402.0 733.2L1402.5 734.0L1403.0 733.9L1403.5 735.0L1404.0 734.7L1404.5 735.4L1406.0 735.2L1406.5 734.8L1407.5 734.9L1409.0 730.4L1410.5 723.7L1411.5 721.4L1412.5 724.7L1414.0 732.6L1414.5 733.6L1415.0 735.5L1416.0 736.4L1416.5 736.3L1417.0 737.0L1418.0 737.4L1418.5 736.9L1419.5 737.5L1420.0 737.3L1420.5 738.0L1421.5 737.3L1422.0 737.8L1422.5 737.5L1423.0 738.1L1423.5 737.9L1424.0 738.4L1424.5 737.7L1425.0 738.3L1425.5 738.4L1426.0 738.1L1426.5 738.6L1427.5 738.9L1428.5 738.2L1429.0 738.9L1429.5 738.3L1430.0 738.9L1430.5 738.6L1431.5 738.7L1432.5 739.4L1433.0 739.4L1433.5 738.6L1434.0 739.5L1435.0 739.1L1435.5 739.7L1436.0 739.2L1436.5 739.8L1437.0 739.9L1438.0 739.4L1439.5 739.7L1440.0 739.5L1440.5 740.3L1441.0 739.8L1441.5 739.7L1442.0 739.8L1442.5 740.2L1443.0 739.7L1443.5 740.5L1444.0 740.6L1444.5 740.1L1445.0 740.1L1445.5 740.9L1446.0 740.4L1446.5 741.0L1447.0 740.8L1448.0 740.8L1448.5 740.4L1449.0 740.5L1449.5 741.1L1450.0 740.8L1450.5 740.8L1451.0 741.4L1451.5 740.7L1452.0 741.0L1453.0 740.8L1454.0 738.4L1455.5 733.1L1456.0 732.1L1456.5 731.7L1457.0 732.0L1459.0 739.6L1459.5 740.6L1460.0 740.8L1461.0 741.9L1461.5 741.7L1462.0 742.1L1462.5 741.7L1463.5 741.8L1464.0 742.5L1465.0 741.8L1465.5 742.4L1466.5 741.9L1467.0 742.9L1467.5 742.1L1468.0 743.0L1469.0 742.3L1469.5 743.1L1470.5 743.0L1471.0 742.6L1471.5 743.4L1473.0 743.1L1473.5 743.7L1474.0 743.7L1474.5 743.1L1476.5 743.4L1478.0 741.3L1478.5 741.0L1479.0 741.0L1479.5 741.2L1480.5 742.6L1482.0 744.1L1482.5 743.6L1483.0 744.4L1483.5 743.9L1484.0 744.6L1484.5 744.7L1485.0 743.9L1485.5 744.4L1486.0 743.9L1486.5 744.1L1487.0 743.5L1487.5 743.7L1488.0 742.9L1488.5 742.8L1489.0 741.6L1489.5 741.0L1490.0 739.5L1490.5 739.2L1491.0 737.7L1492.0 737.9L1492.5 737.4L1494.0 739.8L1494.5 741.4L1495.0 741.6L1495.5 743.1L1496.5 743.5L1497.5 744.5L1498.0 744.3L1499.0 745.2L1499.5 745.2L1500.0 744.4L1500.5 744.3L1501.5 745.1L1502.0 745.2L1502.5 744.8L1503.5 744.6L1504.0 745.1L1505.0 744.7L1505.5 744.9L1506.0 744.8L1506.5 745.1L1507.5 745.3L1508.5 744.9L1509.0 745.2L1509.5 744.6L1510.0 745.2L1510.5 744.5L1511.0 745.2L1511.5 745.1L1512.0 744.5L1512.5 745.2L1513.0 744.8L1513.5 744.9L1514.0 744.5L1514.5 744.8L1515.5 744.9L1516.0 744.8L1516.5 744.4L1517.0 745.1L1517.5 745.3L1518.0 744.8L1519.0 745.2L1519.5 744.6L1520.0 745.0L1521.0 745.3L1523.0 744.5L1523.5 744.5L1524.0 745.3L1524.5 745.4L1525.0 744.7L1525.5 745.2L1526.0 744.7L1526.5 744.9L1527.0 744.6L1527.5 744.9L1528.0 744.6L1528.5 745.3L1529.5 744.7L1530.0 745.4L1530.5 744.7L1531.5 745.1L1532.0 744.7L1532.5 745.5L1533.0 744.9L1533.5 744.6L1534.5 744.8L1535.0 745.5L1535.5 744.7L1536.0 744.9L1536.5 744.6L1537.0 745.5L1537.5 745.2L1538.0 744.6L1538.5 745.3L1539.0 744.9L1539.5 745.0L1540.0 744.6L1540.5 744.6L1541.0 745.3L1543.0 745.3L1543.5 744.7L1544.0 745.1L1545.0 745.0L1545.5 745.4L1546.0 744.9L1546.5 745.2L1547.0 744.6L1547.5 744.7L1548.5 745.4L1549.5 745.6L1550.0 745.0L1550.5 745.4L1551.0 745.5L1551.5 745.4L1552.0 745.0L1553.0 745.3L1553.5 744.9L1554.5 744.7L1555.0 745.5L1555.5 745.0L1556.0 744.8L1556.5 745.2L1557.5 744.8L1558.0 745.4L1559.0 745.3L1559.5 745.6L1560.5 745.0L1561.0 745.5L1561.5 745.7L1563.5 744.8L1564.0 745.5L1564.5 745.5L1565.0 744.9L1566.0 745.2L1566.5 745.5L1567.0 744.9L1567.5 745.5L1568.0 745.6L1568.5 744.8L1569.5 744.5L1570.5 744.8L1571.0 744.0L1571.5 744.0L1573.0 743.2L1573.5 742.5L1574.0 743.1L1574.5 742.8L1575.0 741.9L1575.5 741.9L1576.0 742.0L1576.5 742.7L1577.0 742.1L1577.5 743.1L1578.0 742.9L1578.5 743.8L1579.0 743.5L1579.5 744.3L1580.0 743.8L1580.5 744.4L1581.0 744.4L1582.0 745.4L1584.0 744.9L1584.5 745.5L1585.0 745.7L1585.5 745.3L1586.0 745.8L1586.5 745.0L1587.5 745.0L1588.0 745.4L1588.5 745.0L1589.0 745.6L1589.5 745.7L1590.0 745.2L1590.5 745.9L1591.0 744.9L1591.5 745.6L1593.0 745.3L1593.5 745.8L1594.0 745.0L1594.5 745.7L1595.0 745.4L1595.5 745.5L1596.0 745.1L1596.5 745.7L1597.5 745.2L1598.5 745.7L1599.0 745.6L1599.5 746.0L1600.0 745.6L1600.5 746.0L1601.0 745.0L1601.5 745.6L1602.0 745.9L1602.5 745.4L1603.5 745.0L1604.5 745.8L1605.0 745.2L1606.0 745.5L1606.5 745.1L1607.5 745.3L1608.0 745.8L1608.5 745.8L1609.0 745.4L1610.0 745.3L1612.0 746.0L1612.5 745.4L1613.5 745.3L1614.0 745.6L1614.5 745.1L1615.0 745.4L1615.5 745.1L1616.5 745.9L1617.0 745.5L1617.5 746.1L1618.5 745.7L1619.0 746.0L1619.5 745.7L1620.0 746.0L1620.5 745.4L1621.0 745.4L1621.5 746.0L1623.0 745.4L1623.5 745.7L1624.5 745.2L1625.0 745.9L1626.0 745.6L1626.5 746.1L1627.0 745.2L1627.5 745.9L1628.0 745.3L1628.5 745.9L1629.0 746.1L1629.5 745.2L1630.0 746.1L1631.0 745.7L1631.5 745.8L1632.0 745.2L1632.5 745.2L1633.0 745.8L1633.5 745.4L1634.0 745.4L1635.5 746.0L1636.5 745.8L1637.0 745.2L1637.5 746.1L1638.0 745.1L1638.5 746.0L1639.0 745.4L1639.5 745.4L1640.5 744.5L1641.5 744.1L1642.0 743.3L1642.5 743.7L1643.0 743.2L1643.5 743.1L1644.0 743.4L1644.5 744.1L1645.0 744.0L1645.5 744.5L1646.0 744.5L1646.5 744.8L1647.0 745.9L1647.5 745.5L1648.0 746.1L1648.5 746.0L1649.0 746.2L1649.5 745.5L1650.5 746.0L1651.5 744.9L1652.0 745.3L1652.5 744.6L1653.0 744.6L1653.5 744.0L1654.0 744.4L1654.5 744.2L1655.0 744.8L1655.5 744.7L1656.5 745.0L1657.0 746.0L1657.5 745.7L1658.0 746.3L1659.5 746.4L1660.5 746.1L1661.0 746.3L1662.0 746.3L1662.5 746.9L1663.0 746.9L1663.5 746.3L1664.0 746.6L1664.5 745.4L1665.0 745.2L1665.5 745.2L1666.0 744.6L1666.5 744.7L1667.5 744.1L1668.0 744.0L1668.5 745.2L1669.0 744.8L1669.5 745.7L1670.0 745.9L1670.5 745.7L1671.0 746.8L1671.5 746.4L1672.0 746.7L1672.5 746.6L1673.5 747.5L1674.0 746.7L1675.5 747.4L1676.0 747.1L1676.5 747.3L1677.0 747.1L1677.5 747.8L1678.0 747.1L1678.5 747.7L1679.0 747.1L1679.5 747.8L1680.0 747.4L1680.5 747.8L1681.0 746.9L1681.5 746.9L1682.0 747.8L1682.5 746.9L1683.0 747.1L1683.5 747.8L1684.0 746.9L1684.5 747.5L1685.0 747.1L1685.5 747.2L1686.0 747.0L1686.5 747.6L1687.0 747.0L1687.5 747.3L1688.0 747.0L1688.5 747.6L1689.0 747.7L1689.5 747.3L1690.0 747.7L1691.0 747.5L1692.0 747.9L1692.5 747.2L1693.0 747.3L1693.5 747.8L1694.5 747.0L1695.0 747.7L1695.5 746.9L1696.0 747.8L1696.5 747.6L1697.0 747.8L1698.0 747.3L1698.5 747.7L1699.5 747.0L1701.0 747.5L1701.5 747.3L1702.0 747.6L1702.5 747.0L1703.5 747.7L1704.5 747.8L1705.0 747.5L1705.5 747.9L1706.0 747.6L1706.5 747.6L1707.0 747.1L1708.0 747.7L1708.5 747.7L1709.5 747.2L1710.0 747.6L1711.0 747.2L1712.0 747.7L1713.0 747.0L1713.5 747.9L1714.0 748.0L1714.5 747.5L1715.5 747.1L1716.0 747.7L1716.5 747.0L1717.5 747.4L1718.0 747.2L1719.0 747.2L1719.5 747.9L1720.0 747.3L1720.5 747.1L1721.0 747.4L1721.5 747.1L1722.0 747.5L1723.0 747.7L1723.5 747.1L1724.0 748.0L1725.0 747.8L1725.5 747.6L1726.0 747.9L1726.5 747.9L1727.0 747.5L1727.5 747.7L1728.0 747.2L1728.5 747.5L1729.0 747.2L1729.5 747.7L1730.0 747.3L1730.5 747.3L1731.0 747.7L1731.5 747.4L1732.0 747.9L1733.0 748.0L1733.5 747.3L1735.0 748.0L1736.0 747.3L1736.5 747.1L1738.0 747.9L1738.5 747.1L1739.0 747.7L1739.5 747.9L1740.0 747.3L1740.5 747.4L1741.0 748.0L1741.5 747.4L1742.0 747.8L1742.5 747.7L1743.0 747.3L1744.0 747.8L1744.5 747.9L1745.0 747.7L1745.5 748.0L1746.0 747.3L1746.5 747.3L1747.0 748.0L1748.0 747.7L1748.5 747.1L1749.0 747.9L1750.0 747.4L1750.5 748.1L1751.5 747.7L1752.0 747.8L1752.5 747.5L1753.0 748.0L1753.5 747.9L1754.0 747.3L1755.0 747.4L1755.5 748.0L1756.5 747.7L1757.0 748.1L1758.0 747.5L1759.0 747.2L1760.0 747.6L1760.5 747.6L1761.0 748.2L1761.5 747.4L1762.5 748.1L1764.0 747.7L1765.0 747.8L1765.5 748.1L1766.5 748.1L1767.0 748.1L1767.5 747.7L1768.0 747.7L1768.5 748.1L1769.0 748.1L1769.5 747.3L1770.0 748.2L1770.5 747.6L1771.0 747.6L1771.5 747.8L1772.5 747.3L1773.0 747.2L1773.5 747.6L1774.0 747.6L1774.5 747.9L1775.0 747.5L1776.0 747.8L1777.0 747.7L1777.5 748.2L1778.0 747.8L1778.5 748.1L1779.5 747.9L1780.0 748.2L1780.5 747.8L1781.0 747.9L1781.5 747.5L1782.0 748.0L1782.5 747.5L1783.0 747.5L1784.0 748.0L1784.5 748.0L1785.0 747.6L1785.5 748.1L1786.0 747.5L1786.5 747.7L1787.0 747.6L1788.0 747.7L1788.5 748.2L1789.0 748.1L1789.5 747.3L1790.0 748.2L1791.0 748.3L1791.5 747.7L1792.0 748.3L1792.5 747.6L1793.0 748.1L1794.0 747.4L1794.5 747.5L1795.5 748.2L1796.0 747.4L1796.5 747.8L1797.0 747.5L1798.0 748.3L1798.5 747.4L1799.5 748.2L1800.0 747.5L1800.5 748.1L1801.0 748.0L1801.5 748.3L1802.0 747.7L1803.0 747.8L1805.5 747.5L1806.0 748.0L1806.5 747.5L1807.5 747.5L1808.0 747.8L1808.5 747.5L1809.0 748.4L1810.5 747.7L1811.0 748.0L1811.5 747.6L1812.0 747.5L1812.5 748.3L1813.0 748.4L1813.5 747.6L1814.0 747.8L1814.5 747.5L1815.5 747.8L1816.0 747.6L1816.5 748.5L1817.0 747.7L1818.5 747.5L1819.0 747.9L1819.5 747.6L1820.5 748.3L1821.0 747.7L1822.0 748.2L1822.5 747.6L1823.0 748.1L1823.5 748.0L1824.0 748.3L1824.5 748.0L1825.0 748.1L1826.0 747.8L1826.5 748.4L1827.0 748.3L1827.5 747.7L1829.0 748.2L1829.5 748.0L1830.0 748.3L1830.5 748.2L1831.0 748.4L1831.5 747.9L1832.0 747.8L1832.5 748.5L1833.0 747.9L1833.5 748.6L1834.0 748.5L1834.5 747.8L1835.0 747.7L1835.5 747.8L1836.0 748.4L1837.0 747.7L1837.5 748.3L1838.0 747.7L1838.5 748.6L1839.0 748.7L1839.5 747.7L1840.0 748.4L1840.5 748.2L1841.0 748.5L1841.5 748.4L1842.5 748.0L1843.0 748.7L1843.5 748.1L1844.5 748.0L1845.0 748.5L1845.5 748.1L1846.5 748.5L1847.5 748.7L1848.5 748.5L1849.0 747.8L1850.0 748.6L1850.5 748.2L1851.5 748.3L1852.0 748.8L1852.5 747.8L1853.0 748.5L1854.0 748.2L1854.5 748.8L1855.5 748.3L1856.5 748.2L1857.0 748.6L1858.0 747.9L1858.5 748.6L1859.0 748.0L1859.5 748.6L1860.5 748.9L1861.0 748.0L1861.5 748.9L1864.5 748.4L1865.5 747.9L1866.0 748.7L1866.5 748.8L1867.0 748.3L1868.0 748.0L1868.5 748.0L1869.0 748.6L1869.5 748.1L1870.0 748.7L1870.5 748.8L1871.5 748.2L1872.5 748.4L1873.0 748.7L1874.0 748.1L1874.5 748.7L1875.0 748.5L1876.5 748.8L1877.0 748.5L1877.5 748.6L1878.0 748.3L1878.5 748.8L1879.0 748.6L1879.5 748.8L1880.0 748.3L1880.5 748.1L1881.0 748.3L1881.5 748.9L1882.0 748.6L1882.5 749.1L1883.0 749.1L1883.5 748.5L1884.5 749.0L1885.5 748.2L1886.0 748.4L1886.5 749.1L1887.0 748.8L1888.0 748.6L1888.5 748.1L1889.5 749.0L1890.0 748.3L1890.5 748.3L1891.0 748.7L1891.5 748.3L1892.0 748.8L1892.5 748.2L1893.5 749.0L1894.0 748.2L1895.5 749.1L1896.0 748.2L1896.5 748.3L1897.0 748.8L1897.5 749.0L1898.0 748.5L1898.5 748.8L1899.0 748.6L1900.0 749.0L1900.5 748.7L1901.0 749.2L1902.0 749.2L1903.0 748.6L1903.5 749.1L1905.0 749.2L1905.5 748.9L1906.0 749.2L1906.5 748.6L1907.0 749.3L1907.5 748.8L1908.0 749.3L1908.5 748.6L1910.0 748.9L1910.5 748.7L1911.0 749.3L1911.5 748.8L1912.5 748.4L1913.0 749.1L1914.0 749.3L1914.5 748.9L1916.0 748.4L1916.5 748.9L1917.0 749.1L1917.5 748.7L1918.5 748.6L1919.0 748.7L1919.5 749.2L1920.5 749.4L1921.0 748.5L1921.5 749.1L1922.0 748.6L1922.5 749.3L1923.5 748.6L1925.0 749.0L1925.5 748.5L1926.0 749.0L1926.5 748.7L1927.0 749.3L1927.5 748.8L1929.0 749.3L1929.5 748.9L1930.5 749.0L1931.0 748.7L1931.5 749.1L1932.0 749.2L1932.5 748.6L1933.0 749.1L1935.5 749.1L1936.0 748.6L1936.5 749.2L1937.0 749.4L1937.5 748.7L1938.5 749.5L1939.5 748.9L1940.0 748.9L1940.5 749.5L1941.0 749.1L1941.5 749.5L1942.0 748.7L1943.0 749.4L1944.0 748.8L1944.5 749.5L1945.0 749.0L1945.5 748.8L1946.0 749.1L1946.5 748.7L1947.0 749.2L1947.5 749.4L1948.0 749.6L1948.5 749.3L1949.0 749.3L1949.5 749.6L1950.0 749.5L1950.5 749.2L1951.0 749.6L1952.0 749.5L1953.5 748.7L1954.0 749.7L1954.5 749.7L1955.5 748.8L1956.0 749.3L1956.5 748.9L1957.0 749.7L1957.5 749.5L1958.0 749.6L1959.0 748.9L1960.5 749.4L1961.0 748.8L1961.5 749.5L1962.0 749.0L1962.5 749.6L1963.0 749.0L1963.5 749.4L1964.0 748.8L1964.5 749.3L1965.0 749.0" fill="none" stroke="#FFFF00" stroke-width="4.5" stroke-linejoin="round"/>
<path d="M1108.0 882.0L1108.5 881.4L1109.0 881.3L1109.5 881.6L1110.0 880.9L1110.5 881.6L1111.0 881.4L1111.5 880.6L1112.0 881.2L1112.5 880.9L1113.5 881.1L1114.0 881.1L1114.5 880.4L1115.0 880.7L1116.0 880.6L1116.5 879.5L1117.0 880.3L1117.5 879.5L1118.0 879.3L1119.0 879.8L1119.5 879.8L1120.0 879.0L1120.5 879.4L1121.0 878.5L1121.5 879.3L1122.0 878.5L1122.5 878.6L1123.0 878.1L1124.0 877.7L1124.5 878.2L1125.0 878.1L1126.0 878.1L1126.5 877.6L1127.0 877.9L1127.5 877.1L1128.0 877.7L1128.5 876.9L1129.0 877.5L1129.5 876.8L1130.0 876.7L1130.5 876.9L1131.0 876.5L1131.5 876.7L1132.5 877.5L1133.0 876.9L1133.5 877.4L1134.0 877.5L1135.0 878.3L1135.5 877.5L1136.0 878.1L1136.5 877.7L1137.0 878.5L1138.5 879.3L1139.0 879.2L1140.0 880.2L1140.5 880.4L1141.0 880.9L1141.5 882.1L1142.0 881.9L1142.5 882.9L1144.0 883.7L1144.5 883.3L1145.0 882.2L1145.5 880.2L1146.0 876.0L1148.0 842.8L1148.5 841.5L1149.0 845.6L1150.5 873.6L1151.0 880.0L1151.5 882.8L1152.5 885.8L1153.5 886.4L1154.0 886.2L1154.5 886.4L1155.0 886.4L1155.5 887.0L1156.0 886.5L1156.5 886.5L1157.0 887.2L1158.0 886.7L1158.5 887.6L1159.0 887.2L1159.5 887.7L1161.5 887.1L1162.0 888.0L1162.5 887.5L1163.5 887.3L1164.5 888.3L1165.0 887.8L1165.5 888.2L1166.5 888.0L1168.0 888.6L1168.5 887.8L1169.5 888.0L1170.0 887.9L1171.0 888.2L1171.5 888.0L1172.0 888.3L1172.5 887.8L1173.0 888.7L1173.5 888.5L1174.0 887.9L1174.5 888.0L1175.0 888.5L1175.5 887.9L1176.0 888.5L1176.5 887.8L1177.0 888.4L1178.0 888.3L1179.5 888.8L1180.0 887.8L1180.5 888.3L1181.0 887.9L1181.5 888.5L1182.0 888.0L1183.5 887.8L1184.0 888.0L1184.5 888.0L1185.5 888.6L1187.0 888.0L1187.5 888.6L1188.0 888.1L1189.0 888.8L1190.5 887.8L1191.0 888.0L1191.5 888.7L1192.0 887.8L1192.5 887.8L1193.0 888.4L1193.5 888.1L1194.0 888.3L1194.5 887.9L1195.5 887.8L1196.0 888.1L1196.5 887.8L1197.0 886.6L1197.5 886.2L1198.0 884.3L1199.5 875.3L1200.5 874.7L1202.5 885.4L1203.5 887.1L1204.0 887.2L1204.5 886.5L1205.5 887.0L1206.5 887.0L1207.0 886.8L1207.5 886.2L1208.5 886.9L1209.5 886.0L1210.0 886.2L1210.5 886.7L1211.0 885.9L1211.5 885.7L1212.0 886.3L1213.0 885.8L1213.5 885.8L1214.0 885.5L1214.5 885.9L1215.0 885.5L1216.0 886.0L1217.5 885.0L1218.0 885.3L1218.5 884.7L1219.0 885.3L1220.5 884.4L1221.0 884.6L1222.0 883.0L1222.5 881.1L1223.0 877.8L1224.0 865.8L1225.5 841.7L1226.0 838.8L1226.5 841.1L1228.0 864.3L1229.0 876.7L1229.5 879.4L1230.5 882.1L1231.5 881.6L1232.5 882.1L1233.0 881.6L1233.5 881.8L1234.5 881.0L1235.0 881.3L1235.5 880.6L1236.0 881.4L1237.0 880.3L1238.5 880.8L1239.0 880.8L1239.5 880.1L1240.0 880.5L1240.5 880.0L1241.5 880.2L1242.5 879.7L1243.0 879.1L1244.0 879.6L1245.0 878.7L1245.5 879.4L1246.0 878.8L1246.5 879.1L1247.0 878.6L1248.0 878.6L1248.5 878.4L1249.0 878.8L1250.0 878.0L1251.0 878.2L1251.5 878.1L1252.0 877.2L1253.0 877.9L1254.0 877.0L1254.5 876.8L1255.5 877.3L1256.0 877.2L1257.0 876.3L1258.0 876.7L1259.5 876.1L1260.0 876.2L1260.5 875.8L1261.0 876.2L1261.5 875.6L1262.0 875.5L1262.5 876.2L1263.0 875.2L1264.0 875.4L1264.5 874.9L1265.5 875.4L1266.0 875.2L1266.5 874.5L1267.5 874.0L1268.0 874.2L1268.5 873.2L1269.0 872.9L1269.5 872.0L1270.5 867.4L1271.0 864.2L1273.0 844.8L1273.5 841.5L1274.0 840.2L1275.0 844.0L1276.0 854.4L1277.5 866.9L1279.0 871.9L1279.5 872.0L1280.5 873.4L1281.5 873.7L1282.0 873.4L1283.0 874.0L1284.0 873.4L1284.5 874.0L1286.0 873.5L1286.5 874.2L1287.0 874.0L1287.5 873.4L1288.0 873.6L1288.5 873.5L1289.0 874.0L1289.5 874.2L1290.5 873.7L1291.5 874.1L1292.0 873.6L1292.5 873.6L1293.0 874.2L1293.5 874.4L1294.5 873.6L1295.0 874.1L1295.5 873.8L1296.0 874.1L1296.5 873.8L1297.0 873.8L1297.5 874.5L1298.0 873.9L1298.5 874.0L1299.0 874.6L1299.5 874.0L1301.0 873.7L1301.5 874.4L1302.0 874.5L1302.5 874.1L1303.0 874.2L1303.5 873.7L1304.0 873.6L1304.5 873.9L1305.0 873.6L1305.5 874.2L1306.5 874.4L1307.0 873.9L1307.5 874.0L1308.0 873.6L1309.0 874.4L1309.5 873.7L1310.0 874.1L1312.0 873.5L1312.5 874.3L1314.0 874.3L1314.5 873.4L1315.5 873.6L1316.0 873.5L1316.5 874.0L1317.5 873.6L1318.0 874.2L1318.5 873.2L1319.0 873.4L1320.0 873.2L1321.5 874.0L1322.5 873.1L1323.0 873.3L1323.5 873.3L1324.0 872.9L1324.5 873.3L1325.0 873.4L1325.5 873.1L1326.0 872.4L1327.0 873.0L1328.5 871.6L1329.0 871.8L1329.5 870.9L1330.0 870.9L1330.5 870.0L1332.0 863.4L1333.0 853.8L1335.0 827.6L1336.0 820.7L1336.5 820.6L1337.5 829.1L1340.0 860.5L1340.5 864.0L1341.5 868.6L1342.0 870.1L1342.5 870.4L1343.0 871.5L1343.5 871.5L1344.0 872.6L1344.5 872.2L1345.0 872.7L1345.5 872.9L1346.0 872.5L1346.5 872.7L1347.0 873.6L1347.5 873.7L1348.0 873.7L1349.0 874.0L1349.5 873.6L1350.0 873.5L1351.0 873.9L1351.5 873.7L1352.5 874.4L1353.0 874.1L1353.5 873.4L1354.0 873.8L1354.5 872.5L1355.0 872.1L1355.5 870.0L1356.5 867.2L1358.0 864.4L1358.5 864.1L1359.0 863.0L1359.5 863.1L1360.0 863.6L1361.5 867.0L1362.0 867.2L1362.5 865.3L1363.0 860.8L1364.0 841.0L1365.5 795.5L1366.0 786.8L1366.5 786.0L1367.0 792.3L1369.0 850.4L1370.0 866.8L1371.0 872.8L1371.5 874.2L1372.0 874.8L1372.5 874.9L1373.0 876.0L1373.5 875.8L1374.5 876.6L1375.5 876.5L1376.0 877.6L1377.0 877.0L1377.5 877.1L1378.0 877.9L1378.5 877.3L1379.0 878.3L1379.5 877.9L1381.0 878.6L1381.5 878.1L1382.0 878.6L1382.5 878.3L1383.0 878.2L1383.5 878.4L1384.5 878.2L1385.0 878.5L1385.5 878.4L1386.0 877.2L1387.0 876.9L1387.5 877.0L1388.5 878.3L1389.0 878.5L1389.5 878.3L1390.0 879.2L1390.5 878.7L1391.0 878.6L1391.5 879.4L1392.0 879.5L1392.5 879.0L1393.0 879.1L1393.5 878.8L1394.0 879.0L1394.5 878.3L1395.0 878.1L1396.0 877.1L1396.5 878.1L1397.5 879.0L1398.5 879.0L1399.5 879.4L1400.5 879.4L1401.5 877.9L1402.0 878.1L1402.5 879.0L1403.0 878.7L1404.5 880.4L1405.0 879.9L1405.5 880.5L1406.0 880.4L1406.5 879.7L1407.5 879.5L1408.0 878.3L1409.0 874.2L1410.0 868.1L1411.0 864.0L1411.5 863.4L1412.0 864.6L1412.5 866.8L1414.5 878.7L1416.5 882.3L1417.0 881.6L1417.5 882.2L1418.0 882.2L1418.5 882.7L1419.0 882.0L1419.5 882.9L1420.5 882.1L1421.0 882.8L1421.5 882.6L1422.0 883.2L1422.5 883.3L1423.5 883.4L1424.0 883.0L1424.5 882.9L1425.0 883.0L1425.5 883.5L1426.0 882.8L1426.5 883.2L1427.0 883.2L1428.0 883.9L1428.5 883.4L1429.0 883.7L1429.5 883.5L1430.0 884.0L1430.5 883.6L1431.5 884.1L1432.0 883.6L1432.5 883.8L1433.0 884.4L1433.5 884.3L1434.0 884.6L1434.5 884.5L1435.0 884.2L1435.5 884.4L1436.5 884.3L1437.5 884.9L1438.0 884.5L1438.5 884.8L1439.0 884.5L1439.5 884.6L1440.0 884.4L1440.5 884.6L1441.0 885.3L1441.5 885.1L1442.0 885.5L1442.5 884.8L1443.0 885.5L1443.5 885.4L1444.0 885.5L1444.5 885.1L1445.0 885.7L1445.5 885.3L1446.0 885.9L1446.5 885.2L1447.0 886.0L1447.5 885.5L1448.0 885.7L1448.5 885.3L1449.0 886.2L1449.5 885.7L1450.0 886.3L1450.5 885.9L1451.0 886.1L1452.0 885.5L1452.5 885.8L1453.0 885.5L1454.5 882.3L1455.0 879.6L1456.0 876.8L1456.5 876.2L1457.5 879.0L1458.5 883.0L1459.5 885.7L1460.5 886.5L1461.0 886.5L1461.5 887.1L1462.0 886.5L1462.5 886.6L1463.0 887.6L1464.0 887.4L1464.5 886.9L1465.0 887.7L1465.5 887.2L1466.0 887.6L1466.5 887.3L1467.0 887.9L1467.5 887.2L1468.0 887.8L1468.5 887.2L1469.0 888.0L1469.5 887.9L1470.0 888.1L1470.5 887.5L1471.0 888.4L1471.5 887.8L1472.0 887.6L1473.0 888.3L1473.5 888.4L1474.0 887.8L1474.5 888.5L1475.0 888.7L1476.0 887.7L1476.5 888.0L1477.5 887.0L1478.5 886.8L1479.0 886.1L1479.5 886.3L1480.5 887.8L1481.0 888.1L1481.5 888.1L1482.0 889.1L1482.5 889.6L1483.5 889.7L1484.0 888.8L1485.0 889.1L1485.5 889.5L1486.0 888.8L1486.5 888.9L1487.5 888.2L1488.0 888.4L1488.5 887.8L1489.5 885.3L1491.0 883.0L1491.5 882.7L1492.0 883.0L1492.5 882.6L1493.5 884.6L1494.0 884.7L1495.0 887.2L1496.5 888.5L1497.0 889.5L1497.5 889.2L1498.0 889.7L1498.5 889.7L1499.0 890.0L1499.5 889.4L1500.0 890.0L1500.5 889.5L1501.0 890.2L1501.5 889.5L1502.0 889.9L1502.5 889.8L1503.0 889.4L1504.5 890.3L1505.5 889.5L1506.0 889.8L1506.5 889.4L1507.0 890.1L1508.0 890.1L1508.5 889.4L1509.5 889.7L1510.0 890.3L1510.5 889.4L1511.0 890.0L1511.5 889.7L1512.0 890.1L1512.5 889.8L1513.0 890.4L1514.0 889.5L1515.0 889.9L1516.0 889.9L1516.5 889.6L1517.0 890.0L1517.5 889.6L1518.0 889.9L1518.5 889.5L1519.0 889.9L1519.5 889.6L1520.0 889.6L1520.5 890.4L1521.0 889.9L1522.0 890.3L1522.5 889.8L1523.5 890.4L1524.0 889.8L1524.5 890.4L1525.0 890.0L1525.5 890.4L1526.0 889.7L1526.5 890.3L1527.0 889.9L1528.5 890.1L1529.0 890.5L1530.0 889.7L1530.5 890.3L1531.0 890.4L1532.0 889.8L1532.5 890.4L1533.5 889.8L1534.0 890.5L1535.0 889.5L1536.0 889.8L1536.5 890.3L1537.0 890.0L1537.5 890.3L1538.5 889.7L1539.0 890.5L1539.5 890.2L1540.0 890.4L1541.0 889.7L1541.5 889.9L1542.0 889.7L1542.5 890.1L1543.0 889.7L1543.5 889.9L1544.0 890.5L1544.5 889.9L1545.0 889.7L1545.5 890.5L1546.0 889.7L1546.5 889.8L1547.0 890.2L1548.0 890.4L1548.5 890.2L1549.0 890.3L1549.5 889.8L1550.0 890.6L1550.5 889.8L1552.0 890.2L1552.5 890.6L1553.0 890.0L1553.5 890.4L1555.0 890.2L1555.5 890.6L1556.0 889.9L1557.0 890.5L1558.0 889.9L1558.5 889.9L1559.5 890.4L1560.0 889.7L1561.0 889.8L1562.5 890.7L1563.0 890.6L1563.5 890.1L1564.0 890.3L1564.5 889.8L1565.0 890.5L1565.5 890.1L1566.5 890.7L1567.0 890.5L1567.5 890.6L1568.5 889.8L1569.5 889.6L1570.0 889.6L1570.5 890.0L1571.0 889.5L1571.5 889.6L1572.5 888.3L1573.5 887.6L1574.5 887.5L1575.0 887.0L1575.5 887.7L1576.0 886.9L1576.5 887.4L1577.0 887.2L1577.5 888.0L1578.0 887.7L1578.5 888.2L1579.0 889.1L1579.5 888.8L1580.0 889.6L1580.5 889.4L1581.5 889.6L1582.5 890.4L1583.0 889.9L1583.5 890.1L1584.0 889.9L1584.5 890.8L1585.0 889.9L1586.0 890.5L1587.0 890.8L1588.0 890.3L1588.5 890.5L1589.0 890.0L1590.0 890.5L1590.5 890.9L1591.0 890.8L1591.5 890.2L1593.0 890.6L1593.5 890.0L1594.0 890.8L1595.0 890.3L1595.5 890.3L1596.0 890.6L1597.0 890.0L1597.5 890.4L1598.0 890.4L1598.5 890.7L1599.5 890.2L1600.5 891.0L1601.0 890.5L1601.5 890.9L1602.0 890.2L1602.5 890.1L1603.0 890.2L1603.5 891.0L1604.0 890.6L1604.5 890.8L1605.0 890.3L1605.5 890.1L1606.0 890.6L1606.5 890.7L1607.5 890.1L1608.0 890.9L1609.0 890.8L1609.5 890.2L1610.0 890.9L1610.5 890.5L1611.5 890.8L1612.0 890.3L1612.5 890.5L1613.0 891.0L1614.5 890.6L1615.5 890.9L1616.0 890.2L1616.5 890.1L1617.0 890.7L1617.5 891.0L1618.5 891.0L1619.0 890.4L1619.5 890.4L1620.0 891.1L1620.5 890.2L1621.5 890.5L1622.0 890.3L1622.5 890.9L1623.0 890.3L1623.5 890.9L1624.5 890.8L1626.0 890.2L1626.5 890.8L1627.0 890.3L1627.5 890.9L1628.0 890.7L1629.0 891.0L1629.5 890.8L1630.0 890.2L1630.5 890.2L1631.0 891.1L1631.5 890.3L1632.5 890.3L1633.0 891.1L1633.5 890.6L1634.5 891.0L1635.0 890.5L1635.5 890.9L1636.0 890.4L1636.5 890.8L1637.0 890.2L1637.5 891.1L1638.0 890.5L1638.5 890.3L1639.0 890.8L1640.0 890.4L1640.5 889.1L1641.0 889.1L1641.5 888.4L1642.0 889.0L1642.5 888.4L1643.0 888.4L1643.5 887.9L1644.0 888.1L1644.5 889.3L1645.0 888.9L1645.5 889.6L1646.0 889.7L1646.5 890.3L1647.0 890.0L1647.5 890.8L1648.0 891.1L1649.0 890.7L1649.5 891.2L1650.0 890.4L1650.5 890.2L1651.0 890.3L1651.5 890.6L1652.0 889.9L1652.5 889.7L1653.5 888.9L1654.0 888.8L1655.0 889.2L1655.5 890.1L1656.0 890.0L1657.0 890.2L1657.5 890.6L1658.0 891.5L1658.5 891.6L1659.0 891.4L1659.5 891.8L1660.0 891.2L1660.5 891.4L1661.0 891.0L1661.5 891.5L1662.0 891.3L1662.5 891.7L1663.0 891.5L1663.5 891.6L1664.0 890.7L1664.5 891.3L1665.0 890.2L1665.5 890.5L1666.5 889.3L1667.0 889.5L1667.5 889.2L1669.0 889.9L1671.5 891.8L1672.0 892.0L1672.5 891.6L1674.0 891.8L1674.5 892.4L1675.0 892.4L1675.5 892.0L1676.0 892.3L1676.5 891.9L1677.0 892.7L1677.5 892.6L1678.0 891.9L1678.5 892.6L1679.5 892.3L1680.5 892.7L1681.0 891.9L1682.0 892.7L1683.0 891.9L1683.5 892.4L1684.0 892.0L1684.5 892.3L1685.0 892.0L1686.5 892.8L1687.0 892.2L1688.0 891.9L1688.5 892.4L1689.0 892.1L1689.5 892.1L1690.0 892.7L1690.5 892.0L1691.0 892.6L1691.5 892.1L1693.0 892.8L1694.0 892.0L1694.5 892.7L1695.0 892.7L1697.0 892.2L1699.0 892.6L1700.0 892.1L1701.0 892.7L1701.5 892.1L1702.0 892.6L1702.5 892.5L1703.0 892.7L1703.5 892.1L1704.5 892.3L1705.0 892.6L1705.5 892.5L1706.0 892.1L1708.0 892.6L1708.5 892.1L1709.0 892.1L1709.5 892.8L1710.0 892.3L1710.5 892.4L1711.0 892.0L1711.5 892.5L1712.0 892.3L1713.0 892.7L1713.5 892.2L1714.0 892.8L1715.0 892.7L1716.0 892.1L1716.5 892.7L1717.0 892.9L1717.5 892.5L1718.0 892.9L1718.5 893.0L1719.0 892.1L1719.5 892.2L1720.0 892.7L1721.5 892.2L1722.5 892.9L1723.0 892.2L1723.5 892.8L1724.5 892.7L1725.0 892.4L1726.0 892.4L1726.5 892.2L1727.0 892.5L1727.5 892.6L1728.5 892.5L1729.0 892.2L1729.5 892.3L1730.0 892.8L1730.5 892.9L1731.0 892.8L1731.5 892.0L1732.0 892.7L1732.5 892.9L1733.5 892.1L1735.0 892.3L1736.0 893.0L1736.5 892.3L1737.0 892.2L1738.0 892.7L1738.5 892.3L1739.0 892.8L1739.5 892.3L1740.0 892.7L1740.5 892.3L1741.0 893.0L1741.5 892.7L1742.5 892.6L1743.0 892.9L1743.5 892.1L1744.0 893.0L1744.5 892.4L1746.0 892.9L1746.5 892.3L1747.5 892.9L1748.0 892.4L1748.5 892.6L1749.0 892.4L1749.5 893.0L1750.0 892.5L1750.5 892.6L1751.5 892.3L1752.5 892.9L1753.5 892.3L1754.0 892.8L1754.5 892.3L1755.5 892.2L1756.0 893.0L1757.0 892.5L1757.5 892.5L1758.0 893.1L1758.5 892.6L1759.5 893.1L1760.0 892.8L1761.5 892.6L1762.0 893.0L1762.5 892.7L1764.5 892.6L1765.0 892.2L1765.5 892.2L1766.5 893.1L1767.0 893.0L1767.5 892.4L1768.0 892.9L1768.5 893.1L1769.0 892.7L1770.0 892.5L1770.5 892.9L1771.0 892.4L1772.0 892.7L1772.5 892.4L1773.0 893.0L1773.5 893.1L1774.5 892.6L1775.0 893.0L1775.5 892.3L1776.0 892.9L1776.5 892.3L1777.5 893.0L1778.0 892.9L1778.5 892.4L1779.0 892.7L1779.5 892.6L1780.0 893.2L1780.5 893.1L1781.0 892.6L1783.5 893.2L1784.0 892.6L1784.5 892.3L1785.5 893.2L1786.0 893.2L1786.5 892.5L1787.0 892.7L1787.5 892.4L1788.0 892.6L1788.5 893.2L1789.0 892.9L1789.5 892.3L1790.5 892.9L1791.0 893.0L1792.0 892.6L1792.5 893.3L1793.0 892.7L1793.5 893.0L1794.0 892.7L1794.5 893.3L1795.0 893.3L1795.5 892.4L1796.0 893.2L1796.5 892.4L1798.5 892.7L1799.0 893.1L1799.5 893.1L1800.0 892.6L1800.5 893.2L1801.0 892.6L1801.5 893.2L1802.0 892.9L1802.5 893.3L1803.0 892.6L1803.5 893.3L1804.0 893.2L1804.5 892.6L1805.0 893.3L1805.5 892.7L1806.5 892.9L1807.0 892.7L1809.5 893.4L1810.5 892.5L1811.0 892.6L1811.5 893.0L1812.0 893.0L1812.5 893.2L1813.0 892.6L1813.5 893.3L1814.0 892.9L1814.5 893.4L1815.0 892.7L1815.5 893.2L1816.0 892.8L1816.5 892.8L1817.0 893.0L1818.0 892.7L1818.5 893.4L1820.0 892.8L1821.0 893.3L1821.5 893.2L1822.0 892.7L1822.5 893.2L1823.5 893.4L1824.0 892.6L1825.0 892.7L1825.5 893.3L1826.0 893.0L1826.5 893.0L1827.0 893.5L1827.5 892.8L1828.0 893.3L1829.0 893.1L1829.5 893.4L1830.0 893.2L1830.5 893.3L1831.5 892.6L1832.0 893.4L1832.5 893.3L1833.5 893.4L1834.0 892.7L1836.0 893.5L1836.5 892.9L1837.5 893.5L1838.0 893.5L1838.5 892.8L1840.0 893.5L1841.5 893.3L1842.0 893.5L1842.5 892.9L1843.0 893.5L1844.0 893.7L1844.5 893.4L1845.0 893.4L1845.5 892.9L1846.0 893.5L1846.5 893.2L1847.5 893.3L1848.0 893.0L1849.0 893.7L1849.5 893.0L1850.5 892.9L1851.0 893.7L1851.5 893.1L1852.0 893.0L1852.5 893.6L1853.0 893.1L1854.0 892.9L1854.5 893.5L1855.0 893.1L1855.5 893.8L1856.5 893.2L1858.5 893.1L1859.0 893.9L1859.5 893.2L1861.5 893.8L1862.0 893.4L1863.0 893.9L1863.5 893.5L1864.0 893.5L1864.5 893.8L1865.0 893.3L1866.0 893.2L1867.0 893.7L1867.5 893.1L1868.5 893.4L1869.0 893.9L1869.5 893.1L1871.0 893.3L1872.0 893.9L1872.5 893.2L1873.0 893.4L1873.5 893.2L1875.0 893.8L1875.5 893.0L1876.0 893.6L1876.5 893.6L1877.0 893.3L1878.0 893.3L1878.5 893.1L1879.0 893.5L1879.5 893.1L1880.0 893.9L1880.5 893.5L1881.0 894.0L1881.5 893.5L1882.0 893.5L1883.0 894.0L1883.5 893.1L1884.0 893.8L1884.5 893.3L1886.0 893.3L1886.5 893.6L1887.0 893.6L1887.5 894.1L1888.0 893.3L1888.5 893.4L1889.5 893.9L1890.0 893.5L1891.0 894.1L1892.0 893.6L1892.5 894.0L1893.0 893.3L1894.0 893.5L1894.5 894.1L1895.0 893.2L1895.5 893.9L1896.0 893.7L1896.5 893.2L1897.0 893.2L1897.5 893.8L1898.0 893.5L1898.5 893.8L1899.0 893.3L1899.5 893.6L1900.0 893.5L1900.5 893.9L1901.0 894.0L1901.5 893.4L1902.0 894.1L1902.5 894.0L1903.0 894.2L1903.5 893.8L1904.0 894.0L1904.5 893.3L1905.0 894.0L1905.5 894.1L1906.0 893.4L1906.5 893.7L1907.5 893.8L1908.0 893.4L1908.5 893.9L1909.0 893.8L1909.5 894.2L1910.0 894.2L1910.5 894.0L1911.0 894.1L1911.5 893.3L1912.0 893.4L1912.5 893.8L1913.5 893.6L1914.0 894.2L1914.5 893.6L1915.0 894.1L1915.5 894.3L1916.0 893.4L1916.5 894.3L1917.0 893.5L1918.0 894.3L1918.5 894.0L1919.0 894.2L1919.5 893.9L1920.0 894.2L1920.5 893.7L1921.5 893.4L1922.0 893.7L1922.5 893.8L1924.0 893.5L1924.5 894.3L1925.0 894.4L1925.5 893.8L1926.0 894.3L1926.5 894.4L1927.0 894.0L1928.0 893.6L1929.0 893.7L1929.5 894.2L1930.5 893.7L1932.0 894.2L1932.5 893.9L1933.5 894.4L1934.0 894.0L1935.0 893.8L1936.5 894.0L1937.0 893.7L1937.5 893.7L1938.0 894.5L1938.5 893.7L1939.5 894.5L1940.0 894.5L1940.5 894.2L1941.5 894.3L1942.0 893.6L1943.0 894.2L1943.5 894.0L1944.0 894.5L1944.5 894.5L1945.0 893.8L1945.5 893.6L1946.0 894.3L1947.0 893.9L1947.5 894.4L1948.5 893.9L1949.0 894.3L1949.5 893.7L1950.0 894.6L1950.5 894.4L1951.0 893.8L1951.5 893.7L1952.5 894.5L1953.0 894.0L1953.5 894.7L1954.0 894.4L1954.5 894.7L1955.5 894.0L1956.0 894.7L1956.5 894.1L1957.0 894.6L1958.0 894.6L1959.0 894.4L1960.5 894.6L1961.0 893.8L1962.0 894.1L1962.5 894.5L1963.0 894.4L1963.5 894.7L1964.0 894.0L1965.0 894.5" fill="none" stroke="#0000FF" stroke-width="4.5" stroke-linejoin="round"/>
<path d="M1108.0 1026.9L1109.0 1027.0L1109.5 1026.2L1110.0 1025.9L1110.5 1026.6L1111.0 1026.0L1111.5 1026.0L1112.0 1026.3L1112.5 1025.6L1113.0 1026.2L1114.0 1025.1L1114.5 1025.9L1115.5 1024.8L1116.0 1025.5L1117.5 1024.9L1118.0 1025.2L1118.5 1024.1L1119.0 1024.9L1120.0 1023.9L1120.5 1024.2L1121.0 1023.8L1121.5 1024.0L1122.0 1023.9L1123.0 1023.1L1123.5 1023.2L1124.0 1023.0L1124.5 1023.4L1125.0 1023.4L1126.5 1022.3L1127.0 1022.7L1127.5 1022.2L1128.0 1022.8L1128.5 1021.8L1129.0 1022.5L1129.5 1021.4L1130.0 1022.1L1130.5 1021.7L1131.0 1022.1L1132.0 1022.0L1133.0 1022.7L1133.5 1022.4L1134.0 1022.5L1134.5 1023.0L1135.0 1022.5L1136.5 1023.1L1137.0 1022.9L1137.5 1023.7L1138.5 1023.8L1139.0 1024.4L1139.5 1024.6L1140.0 1025.3L1140.5 1025.5L1142.0 1027.3L1142.5 1027.3L1143.5 1028.3L1144.5 1028.5L1145.5 1025.5L1146.0 1021.0L1148.0 986.4L1148.5 985.3L1149.0 989.4L1150.5 1018.3L1151.0 1024.5L1151.5 1028.2L1152.5 1031.2L1153.5 1031.7L1155.0 1031.5L1155.5 1032.2L1156.0 1031.8L1156.5 1031.9L1157.0 1032.4L1157.5 1031.9L1158.0 1032.6L1158.5 1031.9L1159.0 1032.6L1159.5 1032.1L1160.0 1032.0L1161.0 1032.8L1161.5 1032.1L1162.5 1033.0L1163.0 1032.2L1163.5 1032.7L1164.0 1032.6L1165.0 1033.2L1165.5 1032.8L1166.5 1032.7L1167.0 1033.4L1167.5 1032.8L1168.5 1033.7L1169.0 1033.5L1169.5 1033.7L1170.0 1032.9L1170.5 1033.4L1171.0 1033.4L1171.5 1032.9L1172.0 1033.2L1173.0 1032.9L1173.5 1033.2L1174.0 1032.9L1174.5 1033.7L1175.0 1032.9L1176.0 1033.5L1176.5 1032.8L1177.0 1033.7L1178.5 1033.3L1179.0 1033.6L1180.0 1033.0L1180.5 1033.7L1181.0 1033.0L1181.5 1033.3L1182.5 1033.5L1183.0 1033.1L1183.5 1033.4L1184.0 1033.0L1184.5 1033.5L1185.0 1032.9L1187.5 1033.7L1188.5 1032.8L1189.0 1033.4L1190.0 1033.5L1190.5 1032.8L1191.0 1033.6L1191.5 1032.9L1192.0 1033.6L1192.5 1033.8L1193.0 1033.3L1193.5 1033.2L1194.0 1033.4L1194.5 1032.8L1195.0 1033.3L1196.0 1033.3L1197.0 1032.3L1197.5 1031.4L1199.0 1023.8L1199.5 1020.3L1200.0 1019.4L1200.5 1020.4L1202.5 1030.2L1203.5 1031.7L1204.5 1032.4L1205.0 1031.6L1205.5 1031.7L1207.0 1031.3L1207.5 1031.5L1208.5 1031.2L1209.0 1031.7L1209.5 1030.9L1210.0 1031.2L1210.5 1030.8L1211.0 1030.7L1211.5 1031.4L1212.5 1031.4L1213.0 1030.5L1213.5 1031.1L1214.0 1030.6L1214.5 1031.0L1215.5 1030.5L1216.0 1030.7L1216.5 1030.2L1217.5 1030.7L1218.0 1030.4L1219.0 1030.5L1219.5 1029.5L1220.0 1030.1L1220.5 1030.1L1222.0 1028.2L1223.0 1023.5L1223.5 1018.4L1225.0 993.6L1225.5 987.2L1226.0 984.2L1226.5 985.9L1227.0 992.0L1228.0 1008.9L1229.0 1021.5L1229.5 1024.8L1230.5 1026.7L1232.0 1027.2L1232.5 1026.5L1233.0 1026.6L1234.0 1026.0L1235.0 1026.6L1236.0 1025.6L1236.5 1025.7L1237.0 1025.4L1238.0 1025.5L1238.5 1025.1L1239.5 1025.7L1240.0 1025.0L1241.0 1025.4L1241.5 1024.7L1242.5 1024.6L1243.5 1024.0L1244.0 1024.0L1244.5 1024.4L1245.0 1024.4L1245.5 1024.3L1246.0 1023.6L1246.5 1023.6L1247.0 1024.1L1248.0 1023.4L1248.5 1023.7L1249.5 1022.8L1250.0 1023.5L1251.5 1022.7L1252.0 1023.1L1252.5 1022.7L1253.0 1023.0L1253.5 1021.9L1254.0 1022.4L1254.5 1021.9L1255.5 1022.4L1256.0 1021.5L1256.5 1022.0L1257.0 1022.1L1258.0 1021.2L1259.0 1021.6L1261.5 1020.7L1262.0 1021.1L1262.5 1020.3L1263.0 1020.8L1263.5 1020.7L1264.5 1020.2L1265.0 1020.5L1266.0 1019.5L1266.5 1019.9L1267.0 1020.0L1268.0 1019.3L1268.5 1018.0L1269.0 1017.7L1270.0 1015.1L1271.5 1004.9L1273.5 986.5L1274.0 985.4L1274.5 986.0L1275.5 993.6L1276.5 1004.1L1277.5 1012.0L1278.0 1014.4L1278.5 1015.8L1279.5 1017.4L1281.0 1018.7L1281.5 1017.9L1284.0 1019.1L1284.5 1019.0L1285.0 1018.6L1286.0 1018.9L1286.5 1019.3L1287.0 1018.6L1287.5 1018.5L1288.5 1019.1L1289.5 1018.9L1291.0 1019.3L1291.5 1018.5L1292.0 1019.0L1292.5 1018.5L1293.0 1019.3L1293.5 1019.0L1294.0 1019.5L1294.5 1019.2L1295.0 1019.3L1295.5 1019.0L1296.0 1019.3L1296.5 1018.8L1297.0 1018.7L1297.5 1019.1L1298.5 1019.1L1299.0 1019.4L1299.5 1019.1L1300.5 1019.2L1301.0 1019.0L1301.5 1019.4L1302.5 1019.2L1303.0 1019.4L1304.5 1018.8L1305.0 1019.4L1305.5 1019.5L1306.0 1018.9L1307.5 1019.2L1308.0 1019.0L1309.0 1019.3L1309.5 1018.7L1310.0 1019.2L1310.5 1019.2L1311.0 1019.1L1311.5 1019.4L1312.0 1019.4L1312.5 1018.7L1313.0 1018.8L1313.5 1019.3L1314.0 1019.2L1314.5 1018.6L1315.5 1018.5L1316.0 1019.3L1316.5 1018.4L1317.0 1019.1L1317.5 1019.0L1318.5 1018.3L1319.5 1019.1L1320.0 1018.2L1321.0 1018.8L1321.5 1018.2L1322.5 1018.4L1323.0 1018.3L1324.0 1018.6L1324.5 1017.6L1325.0 1018.2L1326.0 1017.4L1326.5 1017.8L1327.0 1017.7L1328.0 1017.2L1328.5 1016.4L1329.5 1016.3L1330.0 1015.2L1330.5 1014.7L1331.5 1011.2L1332.5 1004.2L1333.5 993.7L1335.0 972.6L1335.5 968.3L1336.0 965.9L1336.5 965.9L1337.0 969.0L1338.0 980.1L1339.5 1000.8L1341.0 1012.0L1342.0 1014.8L1343.0 1016.1L1344.0 1016.8L1344.5 1017.5L1345.0 1017.3L1345.5 1017.5L1346.0 1018.0L1347.5 1017.8L1348.0 1018.7L1349.0 1018.3L1350.0 1018.6L1350.5 1019.4L1351.0 1019.3L1351.5 1018.9L1352.0 1018.9L1352.5 1019.4L1353.0 1018.9L1353.5 1018.8L1355.0 1017.1L1356.0 1014.4L1356.5 1012.3L1357.0 1011.6L1357.5 1010.3L1359.0 1008.1L1359.5 1008.6L1360.0 1008.2L1361.5 1012.8L1362.0 1012.6L1362.5 1010.7L1363.5 997.1L1364.0 985.3L1365.5 939.4L1366.0 930.2L1366.5 928.7L1367.0 936.2L1367.5 948.8L1369.0 995.3L1369.5 1004.8L1370.5 1015.7L1371.5 1019.2L1373.0 1021.0L1374.0 1020.9L1375.0 1022.0L1375.5 1021.6L1376.5 1021.9L1377.5 1022.8L1378.0 1023.1L1378.5 1022.4L1380.0 1023.4L1380.5 1022.6L1381.5 1023.0L1382.0 1022.9L1382.5 1023.2L1383.0 1023.0L1383.5 1023.9L1384.0 1023.1L1384.5 1023.8L1385.5 1022.7L1387.5 1021.9L1389.5 1024.2L1390.0 1024.1L1390.5 1024.4L1391.0 1023.9L1391.5 1024.2L1392.0 1024.0L1392.5 1024.1L1393.0 1023.7L1393.5 1024.3L1394.5 1023.5L1395.5 1022.2L1396.0 1021.9L1396.5 1023.4L1397.5 1023.7L1398.0 1024.4L1399.5 1024.1L1400.0 1024.4L1400.5 1023.6L1401.0 1023.7L1401.5 1022.9L1402.0 1022.8L1402.5 1023.9L1403.0 1023.6L1403.5 1024.5L1404.0 1024.5L1405.0 1025.5L1405.5 1025.2L1406.0 1025.6L1408.0 1023.7L1408.5 1022.1L1411.0 1009.9L1411.5 1010.0L1412.0 1010.8L1414.0 1021.6L1415.0 1025.0L1416.5 1026.7L1417.0 1026.7L1418.0 1027.5L1418.5 1026.9L1419.0 1027.1L1419.5 1027.9L1420.5 1028.0L1422.5 1027.5L1423.0 1028.1L1424.5 1028.0L1425.0 1028.4L1425.5 1028.5L1427.0 1028.2L1428.0 1028.9L1428.5 1028.2L1429.0 1028.4L1429.5 1029.0L1430.0 1028.5L1431.0 1029.3L1431.5 1028.7L1432.0 1028.6L1432.5 1029.3L1433.0 1029.1L1434.0 1029.6L1434.5 1029.1L1435.0 1029.2L1435.5 1029.6L1436.0 1028.9L1436.5 1029.4L1437.0 1029.3L1437.5 1029.8L1438.5 1029.2L1439.5 1030.3L1440.0 1029.5L1441.0 1029.6L1441.5 1030.3L1442.0 1029.6L1443.0 1030.4L1444.0 1029.8L1444.5 1030.7L1445.0 1030.0L1445.5 1030.5L1447.0 1030.7L1447.5 1031.1L1448.0 1031.0L1448.5 1031.2L1449.0 1030.4L1449.5 1031.3L1450.0 1030.7L1450.5 1031.2L1451.0 1030.5L1451.5 1031.3L1452.0 1031.3L1453.0 1030.8L1453.5 1029.4L1454.0 1028.9L1455.5 1022.9L1456.5 1021.5L1457.0 1022.2L1457.5 1023.6L1459.0 1029.8L1460.5 1031.8L1461.0 1031.3L1461.5 1032.3L1462.0 1031.5L1463.0 1032.3L1463.5 1032.0L1464.0 1032.4L1464.5 1032.3L1465.0 1032.7L1465.5 1031.8L1466.0 1032.0L1466.5 1032.7L1467.0 1032.1L1467.5 1032.8L1468.0 1032.4L1468.5 1033.0L1469.0 1032.9L1469.5 1032.4L1470.0 1032.4L1470.5 1032.5L1471.0 1033.4L1471.5 1032.8L1472.0 1032.7L1473.0 1033.0L1473.5 1033.5L1474.0 1033.7L1474.5 1033.4L1475.5 1033.6L1476.0 1032.7L1477.0 1033.0L1478.0 1031.8L1479.0 1031.5L1479.5 1032.0L1480.0 1031.6L1480.5 1032.9L1481.0 1033.1L1481.5 1033.7L1482.0 1033.5L1482.5 1034.3L1483.0 1034.5L1483.5 1034.5L1484.5 1034.0L1485.0 1034.6L1485.5 1034.8L1486.0 1033.8L1486.5 1034.4L1487.0 1034.1L1487.5 1033.0L1488.5 1032.4L1489.0 1031.8L1490.0 1029.6L1490.5 1029.3L1491.0 1028.3L1492.0 1027.4L1492.5 1028.2L1493.0 1028.5L1494.5 1031.5L1495.0 1031.9L1495.5 1033.1L1497.5 1034.5L1498.5 1034.3L1499.0 1034.7L1500.0 1034.5L1500.5 1035.2L1501.0 1035.2L1501.5 1034.7L1502.5 1035.2L1503.0 1034.6L1503.5 1034.7L1504.0 1035.3L1504.5 1034.7L1505.0 1035.1L1506.0 1034.8L1506.5 1035.1L1507.0 1034.4L1507.5 1034.8L1508.0 1034.4L1509.5 1035.0L1510.0 1034.6L1510.5 1035.1L1511.0 1035.1L1512.0 1034.4L1512.5 1034.9L1513.0 1034.4L1513.5 1035.2L1514.0 1035.0L1514.5 1034.5L1515.5 1035.2L1516.0 1034.5L1517.0 1035.0L1517.5 1035.1L1518.0 1034.8L1518.5 1035.3L1519.0 1034.8L1520.0 1034.6L1521.0 1035.3L1521.5 1034.8L1522.0 1035.4L1522.5 1035.0L1523.0 1035.4L1524.0 1034.9L1524.5 1034.9L1525.0 1035.4L1525.5 1035.2L1526.0 1035.3L1526.5 1034.9L1527.5 1035.5L1528.5 1034.6L1529.0 1034.6L1530.0 1035.4L1530.5 1034.6L1531.5 1035.0L1532.0 1034.6L1533.0 1035.4L1533.5 1035.3L1534.0 1034.6L1535.0 1035.3L1536.0 1034.8L1536.5 1035.3L1538.5 1035.5L1539.0 1034.7L1540.0 1035.3L1541.0 1035.5L1541.5 1035.0L1542.5 1034.7L1543.5 1035.5L1544.0 1034.8L1545.5 1035.0L1546.0 1034.6L1547.0 1035.6L1547.5 1035.0L1548.0 1035.6L1549.0 1034.9L1549.5 1035.3L1550.0 1034.7L1551.0 1034.7L1551.5 1035.5L1552.0 1035.1L1552.5 1035.2L1553.0 1035.6L1553.5 1034.9L1554.0 1035.5L1554.5 1034.7L1555.5 1035.5L1556.0 1034.8L1557.5 1035.5L1558.0 1035.6L1558.5 1035.0L1559.5 1034.8L1560.0 1035.6L1560.5 1035.7L1561.0 1034.9L1561.5 1035.1L1562.0 1034.9L1562.5 1035.4L1563.0 1034.9L1564.5 1035.6L1565.5 1035.6L1566.0 1035.1L1566.5 1035.3L1567.0 1035.2L1567.5 1035.5L1568.0 1035.1L1568.5 1034.9L1569.5 1034.8L1570.0 1035.0L1570.5 1034.4L1571.5 1034.0L1572.0 1033.4L1572.5 1034.0L1573.0 1033.4L1573.5 1033.5L1574.5 1032.2L1575.0 1032.8L1575.5 1032.4L1576.5 1032.8L1577.0 1032.5L1577.5 1033.1L1578.0 1032.6L1578.5 1033.7L1579.0 1034.1L1579.5 1033.6L1581.0 1035.1L1581.5 1035.2L1582.0 1034.8L1583.0 1035.0L1583.5 1034.9L1584.5 1035.0L1585.0 1035.4L1586.0 1035.9L1587.0 1035.0L1587.5 1035.1L1588.0 1035.7L1588.5 1035.2L1589.0 1035.7L1589.5 1035.9L1591.0 1035.3L1592.0 1035.9L1592.5 1035.2L1593.0 1035.6L1593.5 1035.6L1594.5 1035.4L1595.0 1035.0L1595.5 1035.9L1596.0 1035.3L1596.5 1035.7L1597.0 1035.2L1597.5 1035.4L1598.0 1035.1L1598.5 1035.8L1599.0 1035.9L1599.5 1035.9L1600.0 1035.5L1601.0 1035.4L1601.5 1035.7L1602.0 1035.2L1602.5 1035.6L1603.0 1035.3L1603.5 1035.3L1604.5 1036.0L1605.0 1035.4L1605.5 1035.3L1606.0 1035.7L1606.5 1035.8L1607.0 1035.3L1609.0 1035.9L1610.5 1035.1L1611.5 1035.8L1612.0 1035.9L1612.5 1035.8L1613.0 1035.1L1615.0 1035.7L1615.5 1035.4L1616.0 1036.1L1616.5 1035.8L1617.0 1035.9L1617.5 1035.3L1618.5 1035.1L1619.0 1035.9L1619.5 1035.9L1621.5 1035.4L1622.0 1035.9L1623.5 1035.7L1624.0 1036.0L1624.5 1035.2L1625.0 1035.3L1625.5 1036.0L1626.0 1035.3L1626.5 1035.9L1627.0 1035.2L1627.5 1035.3L1628.0 1035.5L1628.5 1035.2L1629.0 1035.5L1629.5 1035.5L1630.5 1036.1L1631.0 1035.8L1632.0 1036.0L1633.0 1035.6L1633.5 1036.1L1634.5 1035.5L1635.0 1036.1L1635.5 1035.3L1636.0 1035.4L1636.5 1035.2L1637.5 1035.8L1638.5 1036.0L1640.0 1034.9L1640.5 1035.1L1641.0 1033.8L1641.5 1034.0L1642.0 1033.4L1642.5 1033.3L1643.0 1033.8L1643.5 1033.8L1644.0 1033.3L1645.0 1034.1L1646.0 1034.5L1646.5 1034.9L1647.0 1035.8L1648.0 1035.5L1649.0 1035.7L1649.5 1035.4L1650.0 1035.4L1650.5 1036.0L1651.0 1035.8L1651.5 1034.9L1652.5 1034.4L1653.0 1033.9L1653.5 1034.1L1654.5 1033.8L1655.5 1034.3L1656.0 1035.4L1656.5 1035.1L1657.0 1035.7L1658.5 1036.4L1659.0 1036.0L1659.5 1036.3L1660.0 1036.0L1660.5 1036.5L1661.0 1036.5L1661.5 1036.2L1662.0 1037.0L1662.5 1036.9L1663.0 1036.3L1664.5 1036.1L1666.0 1035.1L1666.5 1034.2L1667.0 1034.2L1668.0 1034.8L1668.5 1034.7L1669.0 1035.4L1670.0 1035.5L1670.5 1036.3L1671.0 1036.2L1672.5 1037.3L1673.0 1036.9L1673.5 1037.0L1674.0 1037.7L1674.5 1036.9L1675.5 1037.3L1676.0 1037.8L1676.5 1036.9L1677.0 1036.9L1677.5 1037.5L1678.0 1037.0L1679.0 1037.5L1679.5 1037.5L1680.0 1037.0L1681.0 1037.6L1681.5 1037.6L1682.0 1037.3L1682.5 1037.5L1683.0 1036.9L1683.5 1037.2L1684.0 1036.8L1684.5 1037.0L1685.0 1036.8L1685.5 1036.9L1686.0 1037.6L1686.5 1037.5L1687.0 1037.1L1687.5 1037.8L1688.0 1037.2L1688.5 1037.7L1689.0 1037.0L1689.5 1036.9L1690.0 1037.6L1690.5 1037.4L1691.0 1037.7L1691.5 1037.2L1692.0 1037.6L1693.5 1037.2L1694.0 1037.7L1694.5 1037.7L1695.0 1037.3L1695.5 1037.3L1697.0 1037.7L1698.0 1037.8L1698.5 1037.0L1699.0 1037.4L1700.0 1037.8L1700.5 1037.4L1702.0 1037.8L1702.5 1037.0L1703.5 1037.0L1705.5 1037.5L1706.0 1037.0L1706.5 1037.0L1707.0 1037.8L1707.5 1037.5L1708.5 1037.4L1709.0 1037.7L1709.5 1037.7L1710.0 1037.0L1710.5 1037.9L1711.0 1037.4L1711.5 1037.7L1712.0 1037.3L1713.0 1037.9L1714.0 1037.1L1714.5 1037.6L1716.5 1037.5L1717.0 1037.3L1718.0 1037.9L1718.5 1037.1L1719.0 1037.0L1719.5 1037.6L1720.0 1037.2L1720.5 1037.1L1721.0 1037.7L1722.0 1037.8L1723.0 1037.0L1723.5 1037.4L1724.0 1037.3L1725.0 1037.6L1727.0 1037.8L1727.5 1037.1L1728.0 1037.6L1728.5 1037.1L1729.5 1037.4L1730.5 1037.4L1731.0 1037.8L1731.5 1037.5L1732.0 1037.9L1732.5 1037.1L1733.0 1038.0L1733.5 1037.8L1734.0 1037.1L1735.0 1037.9L1735.5 1037.3L1736.0 1037.8L1736.5 1037.7L1738.0 1037.9L1738.5 1037.3L1739.0 1038.1L1739.5 1037.6L1741.0 1037.9L1741.5 1037.3L1742.0 1037.6L1742.5 1037.2L1743.5 1037.5L1744.0 1038.0L1744.5 1037.2L1745.0 1037.3L1745.5 1037.9L1746.0 1037.9L1746.5 1037.5L1747.0 1037.7L1747.5 1037.2L1748.0 1038.0L1749.0 1038.1L1750.0 1037.2L1751.0 1037.8L1751.5 1037.3L1753.5 1037.6L1754.0 1038.1L1755.5 1037.7L1756.5 1037.7L1757.5 1037.3L1758.0 1038.1L1758.5 1037.5L1759.0 1037.5L1759.5 1037.8L1760.0 1037.5L1760.5 1038.1L1761.5 1038.2L1762.5 1037.3L1763.0 1038.1L1763.5 1037.6L1764.0 1037.5L1765.0 1038.1L1765.5 1037.2L1766.0 1037.2L1766.5 1038.1L1767.0 1037.3L1767.5 1037.4L1768.0 1038.0L1768.5 1037.5L1769.0 1038.0L1769.5 1037.4L1770.0 1038.0L1771.0 1038.2L1771.5 1038.0L1772.0 1037.3L1772.5 1037.4L1773.0 1037.3L1773.5 1037.8L1774.0 1037.4L1775.0 1038.0L1775.5 1037.4L1776.0 1038.1L1776.5 1038.0L1777.0 1037.2L1777.5 1038.1L1779.0 1037.9L1779.5 1038.2L1781.0 1037.3L1781.5 1037.9L1782.0 1037.5L1783.0 1038.0L1783.5 1037.7L1784.0 1037.7L1784.5 1037.5L1785.5 1037.5L1786.0 1037.9L1786.5 1037.3L1787.0 1037.6L1787.5 1037.3L1788.0 1038.0L1788.5 1038.1L1789.0 1037.4L1789.5 1037.5L1790.0 1038.0L1790.5 1037.8L1791.0 1038.2L1791.5 1037.9L1792.0 1038.2L1792.5 1037.6L1793.0 1037.9L1793.5 1037.8L1794.5 1038.3L1795.0 1037.3L1795.5 1038.2L1796.0 1037.5L1796.5 1037.6L1797.0 1038.1L1797.5 1037.6L1798.0 1038.2L1798.5 1038.0L1799.0 1038.3L1799.5 1038.0L1800.0 1038.2L1800.5 1037.7L1801.0 1037.7L1801.5 1038.4L1802.0 1038.2L1802.5 1037.5L1803.0 1038.0L1803.5 1038.0L1804.0 1037.6L1804.5 1038.1L1805.0 1037.8L1805.5 1037.9L1806.0 1037.4L1806.5 1037.5L1807.5 1038.3L1808.5 1038.2L1809.0 1037.5L1810.0 1038.1L1810.5 1037.9L1811.0 1038.3L1811.5 1037.6L1812.0 1037.9L1812.5 1037.7L1813.0 1038.3L1813.5 1037.6L1814.0 1037.9L1815.0 1037.5L1815.5 1038.5L1816.0 1038.1L1816.5 1038.0L1817.0 1038.5L1817.5 1038.3L1818.0 1038.5L1819.0 1037.9L1820.5 1038.2L1821.5 1037.8L1822.5 1038.3L1824.0 1037.8L1824.5 1038.3L1825.0 1038.5L1826.0 1038.3L1827.5 1038.4L1828.0 1038.3L1828.5 1037.6L1829.0 1038.6L1829.5 1038.6L1830.0 1037.9L1831.0 1037.8L1832.0 1038.1L1832.5 1037.7L1833.0 1038.1L1833.5 1037.9L1834.5 1038.6L1835.0 1038.4L1835.5 1037.7L1836.0 1038.2L1836.5 1038.1L1837.0 1038.6L1837.5 1037.9L1838.0 1038.4L1838.5 1037.9L1839.0 1037.8L1839.5 1038.6L1840.0 1037.8L1841.5 1037.8L1842.0 1038.3L1842.5 1037.8L1843.0 1038.7L1843.5 1038.2L1844.0 1038.6L1845.0 1037.8L1845.5 1038.5L1847.0 1038.0L1848.5 1038.7L1849.0 1038.5L1849.5 1037.8L1850.0 1038.8L1850.5 1037.8L1851.5 1037.9L1852.0 1038.6L1853.5 1038.3L1854.0 1038.0L1854.5 1038.5L1856.0 1038.6L1856.5 1038.1L1857.5 1037.9L1859.0 1038.1L1859.5 1038.5L1860.0 1038.1L1860.5 1038.6L1861.5 1038.4L1862.0 1038.6L1863.0 1038.3L1863.5 1038.8L1864.0 1038.9L1864.5 1038.4L1865.0 1038.9L1865.5 1038.8L1866.0 1038.3L1867.0 1038.1L1867.5 1038.2L1868.0 1038.9L1868.5 1038.5L1869.0 1039.0L1870.0 1038.4L1871.5 1038.3L1872.0 1038.0L1872.5 1038.6L1873.0 1038.0L1875.0 1038.8L1875.5 1038.6L1876.0 1038.1L1876.5 1038.6L1877.0 1038.6L1877.5 1038.3L1878.0 1038.5L1879.5 1038.5L1880.0 1039.0L1880.5 1038.4L1882.0 1038.7L1882.5 1038.5L1883.0 1038.5L1883.5 1038.1L1884.0 1038.3L1884.5 1038.8L1885.0 1038.7L1885.5 1038.1L1887.0 1038.4L1887.5 1038.7L1888.0 1038.4L1888.5 1039.0L1889.5 1039.1L1890.0 1038.9L1890.5 1039.0L1891.0 1038.2L1891.5 1039.0L1892.5 1038.2L1893.0 1038.6L1893.5 1038.2L1894.0 1038.5L1894.5 1039.1L1895.0 1038.3L1896.5 1038.7L1897.0 1039.1L1897.5 1038.5L1898.0 1039.2L1898.5 1038.6L1899.0 1038.4L1900.0 1038.6L1900.5 1038.3L1901.0 1038.4L1901.5 1038.9L1903.0 1038.4L1903.5 1039.2L1904.0 1038.6L1904.5 1039.1L1905.0 1039.0L1905.5 1038.3L1906.0 1038.5L1906.5 1039.2L1907.0 1038.5L1907.5 1039.3L1909.5 1038.4L1910.0 1039.1L1911.5 1038.5L1912.5 1039.2L1913.0 1038.5L1913.5 1039.1L1914.0 1039.1L1914.5 1039.3L1915.0 1038.6L1915.5 1038.7L1916.0 1039.3L1917.5 1038.8L1918.5 1039.2L1919.0 1038.5L1919.5 1038.8L1920.0 1038.5L1921.0 1038.8L1921.5 1038.4L1922.0 1038.5L1922.5 1039.3L1923.0 1038.7L1924.5 1039.0L1925.0 1038.9L1925.5 1039.2L1926.0 1038.6L1926.5 1039.0L1928.5 1038.5L1929.0 1038.7L1929.5 1039.3L1930.0 1039.3L1930.5 1039.0L1931.5 1039.2L1932.5 1039.1L1933.0 1038.5L1933.5 1039.4L1934.0 1039.3L1934.5 1038.9L1935.0 1039.4L1935.5 1039.5L1936.0 1039.0L1936.5 1039.5L1937.5 1039.2L1938.0 1039.4L1938.5 1039.2L1939.0 1038.6L1939.5 1039.2L1940.0 1038.8L1940.5 1038.8L1941.0 1039.4L1941.5 1038.9L1942.0 1039.2L1943.0 1039.1L1943.5 1039.5L1944.0 1038.7L1944.5 1038.6L1945.0 1039.2L1945.5 1039.2L1946.0 1039.6L1946.5 1039.2L1947.0 1039.1L1948.0 1039.4L1948.5 1038.9L1949.0 1038.8L1950.5 1039.5L1951.0 1039.3L1951.5 1039.5L1952.0 1038.9L1952.5 1039.2L1953.5 1039.4L1954.0 1039.1L1954.5 1039.7L1955.5 1038.8L1956.5 1038.8L1957.0 1039.4L1957.5 1038.8L1958.0 1038.8L1958.5 1039.4L1959.0 1039.0L1959.5 1039.6L1961.5 1038.9L1962.0 1039.6L1962.5 1039.5L1963.0 1039.1L1963.5 1039.6L1964.0 1039.0L1964.5 1039.6L1965.0 1039.7" fill="none" stroke="#00FF00" stroke-width="4.5" stroke-linejoin="round"/>
<path d="M1108.0 1171.4L1108.5 1171.3L1109.0 1171.7L1109.5 1171.2L1110.0 1171.0L1110.5 1171.2L1111.5 1170.8L1112.0 1170.9L1112.5 1171.2L1113.0 1170.4L1114.0 1170.1L1114.5 1170.2L1115.0 1170.0L1115.5 1170.7L1116.0 1170.0L1116.5 1170.5L1117.0 1169.5L1117.5 1170.2L1118.0 1169.7L1119.0 1169.6L1119.5 1169.1L1120.0 1168.9L1120.5 1169.2L1121.0 1168.6L1121.5 1168.3L1122.0 1169.0L1123.0 1168.2L1124.0 1168.6L1124.5 1167.9L1125.0 1167.6L1125.5 1167.8L1126.0 1167.4L1126.5 1167.5L1127.0 1167.0L1127.5 1167.7L1128.0 1167.6L1128.5 1167.0L1129.5 1166.7L1130.0 1167.3L1131.0 1167.1L1131.5 1166.8L1132.0 1166.9L1132.5 1167.6L1133.0 1167.1L1133.5 1167.7L1134.5 1167.2L1135.0 1167.5L1135.5 1168.3L1136.0 1167.8L1137.0 1168.5L1137.5 1168.3L1138.5 1169.6L1140.5 1170.8L1141.5 1171.8L1142.0 1171.8L1142.5 1172.8L1143.0 1172.7L1143.5 1173.0L1144.0 1173.8L1144.5 1172.6L1145.0 1172.2L1145.5 1170.2L1146.0 1165.9L1148.0 1131.3L1148.5 1130.5L1149.0 1134.4L1150.5 1163.0L1151.0 1169.2L1151.5 1172.8L1152.0 1175.2L1153.0 1176.2L1153.5 1176.6L1154.0 1176.2L1154.5 1177.0L1155.0 1176.5L1155.5 1177.2L1156.0 1177.3L1156.5 1176.9L1157.0 1176.9L1158.0 1177.5L1158.5 1177.7L1159.5 1177.2L1160.0 1177.2L1160.5 1177.6L1161.0 1177.3L1161.5 1177.8L1162.0 1177.4L1162.5 1177.7L1163.5 1177.7L1164.0 1178.1L1164.5 1178.2L1166.5 1177.9L1167.0 1178.0L1167.5 1178.5L1168.0 1178.4L1168.5 1177.8L1169.0 1178.0L1169.5 1177.8L1170.5 1178.6L1171.0 1178.4L1171.5 1177.8L1172.0 1178.5L1173.0 1178.3L1173.5 1177.8L1174.5 1177.9L1175.0 1178.7L1176.0 1177.8L1176.5 1178.6L1177.0 1178.3L1178.0 1178.2L1179.0 1177.8L1179.5 1178.6L1180.0 1178.7L1180.5 1178.1L1181.5 1178.7L1182.0 1177.8L1182.5 1178.8L1183.0 1177.9L1183.5 1178.2L1184.0 1177.8L1185.5 1178.0L1186.5 1178.4L1187.0 1178.3L1188.0 1178.7L1188.5 1178.0L1189.5 1178.4L1190.5 1177.8L1191.0 1178.6L1192.0 1178.2L1192.5 1178.4L1193.0 1178.1L1193.5 1178.1L1194.0 1177.9L1194.5 1178.1L1195.0 1177.9L1196.0 1178.3L1197.0 1177.2L1198.0 1174.4L1199.5 1165.4L1200.0 1164.9L1200.5 1165.1L1201.5 1170.7L1202.5 1174.8L1203.5 1176.5L1204.0 1176.6L1204.5 1177.1L1205.0 1177.2L1205.5 1176.6L1206.0 1176.7L1206.5 1176.3L1208.0 1176.1L1208.5 1176.8L1209.0 1176.2L1209.5 1176.5L1210.0 1176.5L1210.5 1176.0L1211.5 1176.2L1212.0 1176.0L1212.5 1176.1L1213.0 1175.5L1213.5 1176.2L1214.0 1176.3L1215.0 1176.0L1216.5 1175.1L1217.0 1175.3L1217.5 1175.0L1218.5 1175.6L1219.0 1174.8L1219.5 1175.0L1220.0 1174.5L1220.5 1175.1L1221.5 1174.0L1222.0 1173.1L1223.0 1168.7L1224.0 1156.5L1225.5 1131.8L1226.0 1129.4L1226.5 1131.4L1227.0 1137.0L1228.0 1154.1L1229.0 1165.9L1229.5 1169.3L1230.0 1170.5L1231.0 1172.1L1231.5 1171.5L1232.0 1171.9L1232.5 1171.4L1233.5 1171.7L1234.0 1171.1L1234.5 1170.9L1235.0 1171.6L1235.5 1170.9L1236.0 1171.2L1236.5 1170.6L1237.0 1171.2L1237.5 1171.1L1238.0 1170.3L1238.5 1170.8L1239.0 1170.0L1239.5 1170.6L1240.0 1169.7L1240.5 1169.9L1241.0 1169.4L1241.5 1170.2L1242.0 1169.5L1243.0 1169.8L1243.5 1169.2L1244.0 1169.5L1245.0 1169.2L1245.5 1168.8L1247.0 1169.0L1247.5 1168.3L1248.0 1168.7L1248.5 1168.0L1249.0 1168.1L1249.5 1167.8L1250.0 1167.7L1251.0 1168.4L1252.0 1167.8L1252.5 1168.1L1253.0 1167.0L1253.5 1167.2L1254.0 1166.8L1255.0 1167.5L1255.5 1166.8L1256.0 1167.0L1257.5 1166.3L1258.0 1166.7L1259.0 1166.8L1260.5 1166.2L1261.0 1166.4L1262.5 1165.8L1263.0 1166.1L1263.5 1165.7L1264.0 1165.8L1265.0 1164.9L1266.0 1165.3L1266.5 1164.3L1267.0 1165.0L1269.0 1162.7L1269.5 1161.9L1270.0 1159.8L1271.0 1153.7L1273.0 1134.7L1273.5 1132.1L1274.0 1130.8L1274.5 1131.7L1275.0 1134.7L1277.5 1156.7L1278.5 1161.2L1279.5 1162.6L1280.0 1162.6L1281.5 1163.7L1282.0 1163.6L1283.0 1163.8L1283.5 1163.2L1284.5 1163.3L1285.0 1164.2L1285.5 1163.6L1286.5 1163.3L1287.5 1163.7L1290.0 1163.6L1290.5 1164.0L1291.5 1164.3L1292.0 1164.1L1292.5 1163.5L1293.0 1163.5L1293.5 1164.1L1294.0 1163.9L1294.5 1164.5L1295.0 1164.2L1295.5 1164.5L1296.0 1163.7L1296.5 1163.7L1297.0 1163.7L1297.5 1164.5L1298.0 1164.1L1299.0 1164.2L1299.5 1163.7L1300.5 1164.1L1301.0 1163.6L1302.0 1163.6L1302.5 1163.9L1303.0 1163.6L1303.5 1163.6L1304.0 1164.3L1304.5 1164.3L1305.0 1163.6L1305.5 1164.4L1306.0 1163.6L1306.5 1164.0L1307.5 1163.7L1308.0 1163.9L1309.0 1163.6L1309.5 1164.3L1310.0 1164.3L1310.5 1163.8L1311.0 1164.0L1311.5 1163.6L1312.0 1164.2L1312.5 1164.3L1313.0 1163.8L1313.5 1163.8L1314.5 1164.0L1315.0 1164.3L1316.0 1164.3L1316.5 1163.6L1317.0 1164.1L1317.5 1163.7L1319.5 1163.2L1320.0 1164.1L1320.5 1164.0L1321.0 1163.3L1321.5 1163.8L1322.0 1163.1L1322.5 1163.7L1323.0 1163.0L1323.5 1163.2L1324.0 1162.8L1324.5 1163.6L1325.0 1162.7L1325.5 1163.4L1326.5 1162.3L1328.0 1162.5L1328.5 1162.3L1329.0 1161.3L1330.0 1160.5L1331.5 1156.3L1332.0 1153.7L1333.0 1144.4L1335.0 1118.2L1335.5 1112.7L1336.0 1110.7L1336.5 1110.8L1337.0 1113.4L1339.5 1145.8L1340.5 1154.0L1341.5 1158.2L1342.5 1161.0L1343.0 1161.7L1343.5 1161.8L1345.0 1163.0L1346.0 1162.5L1346.5 1163.0L1347.5 1163.2L1348.0 1163.7L1348.5 1163.2L1349.0 1164.0L1349.5 1164.2L1350.0 1164.1L1351.0 1164.5L1351.5 1164.1L1352.5 1164.1L1353.0 1164.5L1354.0 1163.8L1354.5 1163.2L1355.0 1162.1L1356.5 1157.0L1357.0 1156.2L1357.5 1154.7L1358.5 1153.5L1359.0 1153.8L1359.5 1153.1L1360.0 1153.1L1361.0 1156.3L1361.5 1157.5L1362.0 1157.8L1362.5 1155.1L1363.0 1151.0L1363.5 1142.3L1365.5 1084.2L1366.0 1074.8L1366.5 1073.7L1367.0 1080.9L1367.5 1093.7L1369.0 1140.1L1370.0 1156.5L1370.5 1160.5L1371.0 1162.6L1371.5 1163.8L1372.0 1164.4L1372.5 1165.5L1373.0 1166.0L1373.5 1166.3L1374.0 1166.0L1375.0 1167.0L1376.5 1167.7L1377.0 1167.1L1377.5 1167.1L1378.0 1167.6L1378.5 1167.3L1379.0 1168.3L1379.5 1167.8L1380.0 1168.2L1380.5 1167.7L1381.0 1168.4L1381.5 1167.9L1382.0 1168.5L1383.0 1168.1L1384.0 1168.7L1384.5 1168.3L1385.0 1168.4L1386.0 1168.1L1387.0 1166.3L1387.5 1167.0L1388.0 1167.1L1388.5 1168.3L1389.0 1168.9L1389.5 1168.7L1390.0 1168.9L1390.5 1168.6L1391.0 1169.5L1392.0 1168.9L1392.5 1169.4L1393.0 1169.5L1393.5 1168.6L1394.0 1168.8L1395.0 1167.9L1396.0 1167.3L1396.5 1168.4L1397.0 1168.4L1397.5 1169.2L1398.0 1169.5L1398.5 1169.4L1399.0 1169.7L1399.5 1169.1L1400.0 1168.9L1400.5 1169.2L1401.0 1168.1L1401.5 1168.5L1402.0 1168.0L1402.5 1168.7L1403.0 1168.8L1403.5 1169.3L1404.0 1170.2L1404.5 1170.5L1405.0 1170.1L1405.5 1170.2L1406.0 1170.7L1406.5 1170.4L1407.0 1169.5L1407.5 1169.5L1408.5 1166.8L1410.5 1157.1L1411.0 1155.1L1411.5 1154.7L1412.0 1155.9L1413.0 1160.6L1413.5 1164.4L1415.0 1170.4L1416.0 1171.9L1416.5 1171.3L1417.0 1172.3L1417.5 1172.6L1418.0 1172.0L1419.0 1172.1L1419.5 1172.9L1420.0 1172.2L1421.0 1172.2L1421.5 1172.8L1422.0 1172.5L1422.5 1172.7L1423.0 1172.6L1423.5 1173.2L1424.5 1172.8L1425.5 1173.3L1426.0 1173.0L1427.5 1173.1L1428.0 1174.0L1428.5 1173.6L1429.5 1173.4L1430.0 1174.0L1430.5 1173.3L1431.0 1173.8L1431.5 1173.5L1432.0 1174.3L1432.5 1173.8L1433.5 1174.5L1434.5 1174.1L1435.0 1174.5L1435.5 1174.2L1436.0 1174.8L1436.5 1174.9L1437.0 1174.2L1437.5 1174.3L1438.0 1174.1L1439.5 1175.1L1440.0 1174.6L1441.5 1174.5L1442.0 1175.2L1442.5 1175.5L1443.0 1174.9L1443.5 1175.5L1444.0 1175.1L1444.5 1175.4L1446.0 1175.8L1447.0 1175.6L1447.5 1176.0L1448.0 1175.4L1448.5 1175.3L1449.5 1176.4L1450.0 1176.1L1450.5 1176.4L1451.0 1175.5L1452.0 1176.2L1452.5 1176.0L1453.5 1174.6L1454.5 1172.1L1455.5 1167.8L1456.5 1166.5L1457.0 1167.0L1459.0 1174.7L1459.5 1175.2L1460.0 1176.3L1461.0 1177.0L1461.5 1177.2L1462.0 1177.0L1463.5 1177.0L1465.0 1177.7L1465.5 1177.1L1466.5 1177.1L1467.0 1177.3L1467.5 1178.0L1468.5 1177.3L1469.0 1177.7L1470.0 1177.5L1470.5 1177.7L1471.0 1178.3L1472.5 1177.7L1473.0 1178.5L1475.5 1178.0L1476.0 1178.6L1478.0 1176.3L1478.5 1176.3L1479.0 1176.0L1481.0 1178.5L1481.5 1178.2L1483.0 1179.7L1483.5 1179.6L1484.0 1179.1L1485.5 1179.2L1486.0 1178.8L1487.0 1179.3L1488.0 1178.3L1488.5 1177.0L1489.5 1176.1L1490.5 1173.6L1491.5 1172.2L1492.5 1173.3L1493.0 1173.5L1493.5 1174.2L1495.5 1178.1L1496.5 1178.5L1497.0 1179.4L1497.5 1179.7L1498.0 1179.5L1498.5 1179.8L1499.0 1179.4L1499.5 1179.7L1500.0 1179.7L1500.5 1180.2L1501.0 1179.5L1501.5 1179.4L1502.0 1180.0L1502.5 1180.0L1503.0 1179.4L1504.0 1179.4L1504.5 1180.2L1506.0 1180.0L1506.5 1180.3L1507.0 1179.4L1509.0 1179.7L1509.5 1180.3L1510.0 1179.7L1510.5 1179.5L1511.5 1179.5L1513.5 1179.8L1514.0 1179.6L1514.5 1180.1L1515.0 1179.8L1516.5 1180.1L1517.0 1179.6L1517.5 1180.0L1518.0 1179.6L1518.5 1180.0L1519.0 1179.8L1519.5 1180.4L1520.0 1179.7L1520.5 1180.2L1521.0 1180.4L1521.5 1180.0L1522.0 1180.4L1522.5 1180.3L1523.5 1179.5L1524.5 1180.3L1525.5 1179.8L1526.0 1180.4L1526.5 1180.1L1527.0 1180.5L1527.5 1179.6L1528.0 1180.2L1528.5 1180.2L1529.0 1179.8L1529.5 1180.0L1530.5 1179.6L1531.0 1180.5L1531.5 1179.9L1532.0 1180.4L1532.5 1179.5L1533.0 1179.7L1534.0 1179.7L1534.5 1180.4L1535.0 1180.1L1536.5 1179.8L1537.0 1180.3L1537.5 1179.8L1538.5 1180.1L1539.5 1180.0L1540.0 1179.6L1540.5 1180.5L1541.0 1180.4L1541.5 1179.7L1542.0 1180.6L1542.5 1180.0L1543.5 1180.4L1544.0 1179.6L1545.5 1180.5L1546.5 1180.1L1547.0 1180.4L1547.5 1180.1L1548.0 1180.0L1548.5 1180.4L1549.5 1180.1L1550.5 1180.5L1551.0 1180.0L1551.5 1180.0L1552.5 1180.5L1554.0 1180.6L1554.5 1180.2L1555.0 1180.5L1557.0 1180.0L1557.5 1180.7L1558.0 1180.0L1559.5 1180.2L1560.0 1179.9L1560.5 1180.1L1561.0 1180.0L1561.5 1180.6L1562.0 1180.0L1563.0 1180.6L1563.5 1180.1L1564.0 1180.2L1564.5 1180.6L1565.5 1180.5L1566.0 1180.0L1566.5 1180.6L1567.5 1179.9L1568.0 1180.3L1568.5 1180.3L1569.0 1179.8L1569.5 1180.0L1570.5 1179.4L1571.0 1179.5L1571.5 1178.7L1572.0 1179.0L1572.5 1178.3L1573.0 1178.3L1573.5 1177.6L1574.0 1177.9L1574.5 1177.5L1575.0 1177.8L1576.0 1177.6L1576.5 1177.1L1578.0 1177.6L1578.5 1178.5L1579.0 1178.4L1579.5 1179.4L1580.0 1179.7L1581.0 1180.0L1581.5 1179.4L1582.0 1179.9L1582.5 1179.9L1583.0 1180.7L1583.5 1179.8L1584.0 1180.8L1584.5 1180.5L1585.5 1180.5L1586.0 1179.9L1586.5 1179.9L1587.0 1180.4L1588.0 1179.9L1588.5 1180.6L1589.5 1180.8L1591.0 1180.0L1591.5 1180.5L1592.5 1180.6L1593.0 1180.1L1595.0 1180.5L1596.5 1180.3L1597.0 1180.9L1597.5 1180.6L1598.0 1180.6L1598.5 1180.4L1599.0 1180.9L1599.5 1180.0L1600.0 1180.0L1600.5 1180.5L1601.5 1180.9L1602.0 1180.3L1602.5 1180.1L1603.0 1180.7L1603.5 1180.1L1604.0 1180.8L1604.5 1180.1L1605.5 1180.9L1606.0 1180.2L1606.5 1180.6L1607.5 1180.4L1608.0 1180.5L1608.5 1180.2L1609.0 1180.7L1609.5 1180.7L1610.0 1180.2L1610.5 1180.9L1611.5 1180.4L1612.5 1180.8L1613.0 1180.4L1613.5 1180.3L1614.0 1181.0L1614.5 1180.9L1615.0 1180.2L1616.0 1180.8L1616.5 1180.2L1617.0 1181.0L1617.5 1180.6L1618.0 1180.7L1619.5 1180.2L1620.0 1180.7L1620.5 1180.8L1621.0 1180.4L1621.5 1180.8L1622.0 1180.3L1622.5 1180.5L1624.0 1180.3L1625.5 1181.0L1626.5 1180.3L1627.0 1180.9L1627.5 1180.3L1628.0 1181.0L1628.5 1181.1L1629.0 1181.0L1629.5 1180.4L1630.0 1180.4L1630.5 1180.5L1631.0 1181.0L1632.0 1181.1L1632.5 1180.4L1633.0 1181.1L1633.5 1180.8L1634.5 1180.7L1635.0 1180.3L1636.0 1180.8L1636.5 1180.4L1637.5 1180.9L1638.0 1180.8L1638.5 1180.3L1639.0 1180.6L1639.5 1180.3L1640.0 1180.4L1640.5 1179.7L1641.5 1179.4L1642.0 1178.8L1643.5 1178.1L1644.5 1178.5L1645.0 1179.6L1645.5 1179.3L1646.0 1180.2L1646.5 1179.8L1647.0 1180.6L1647.5 1180.2L1648.0 1181.0L1648.5 1180.5L1649.5 1181.0L1650.0 1180.2L1651.0 1180.5L1652.0 1179.4L1652.5 1179.4L1653.5 1178.8L1654.0 1179.4L1654.5 1179.1L1655.0 1179.8L1655.5 1179.2L1656.5 1180.3L1657.5 1181.0L1658.0 1180.7L1658.5 1180.8L1659.0 1181.6L1659.5 1181.1L1660.0 1181.8L1661.0 1181.7L1661.5 1181.1L1662.0 1182.0L1662.5 1181.9L1663.0 1181.6L1663.5 1181.8L1665.0 1180.2L1665.5 1180.4L1666.0 1179.7L1666.5 1179.6L1667.0 1179.7L1667.5 1178.9L1668.5 1180.2L1669.0 1180.3L1669.5 1180.1L1670.0 1180.5L1670.5 1181.3L1671.5 1181.4L1672.0 1182.2L1672.5 1181.9L1673.5 1182.2L1674.0 1181.7L1675.0 1182.5L1676.0 1181.8L1677.0 1182.8L1678.0 1182.1L1678.5 1182.2L1679.0 1182.6L1679.5 1182.8L1680.0 1182.3L1681.0 1182.5L1682.5 1182.2L1683.0 1182.3L1684.0 1181.9L1684.5 1182.7L1685.0 1182.0L1685.5 1181.9L1686.5 1181.9L1687.0 1182.5L1687.5 1182.5L1688.0 1181.9L1689.0 1182.1L1689.5 1182.7L1690.5 1182.5L1691.0 1182.0L1692.0 1182.5L1692.5 1181.9L1693.0 1182.4L1693.5 1182.2L1695.0 1182.9L1695.5 1182.0L1697.5 1182.7L1698.0 1182.0L1699.0 1182.4L1699.5 1182.2L1700.0 1182.7L1701.0 1182.3L1701.5 1182.4L1702.5 1182.4L1703.0 1182.7L1703.5 1182.0L1704.5 1182.8L1705.0 1182.0L1706.0 1182.2L1706.5 1182.5L1707.0 1182.5L1708.0 1182.1L1709.5 1182.5L1710.0 1182.2L1710.5 1182.3L1711.0 1182.2L1711.5 1182.9L1712.0 1182.8L1712.5 1182.3L1713.0 1182.8L1713.5 1182.9L1714.0 1182.3L1714.5 1182.8L1715.0 1182.1L1715.5 1182.2L1716.0 1182.7L1717.5 1182.6L1718.0 1182.1L1719.0 1182.0L1719.5 1182.9L1720.0 1182.3L1721.0 1182.4L1721.5 1182.1L1722.0 1182.7L1722.5 1182.4L1723.0 1182.8L1724.0 1182.2L1724.5 1182.2L1725.0 1183.0L1725.5 1182.7L1726.0 1182.8L1727.0 1182.1L1727.5 1182.1L1728.0 1182.8L1728.5 1182.5L1729.0 1183.0L1730.0 1182.1L1730.5 1182.8L1731.0 1183.0L1731.5 1183.0L1732.0 1182.2L1732.5 1183.0L1733.5 1182.3L1734.0 1182.3L1735.5 1182.1L1736.0 1182.9L1736.5 1182.6L1737.0 1182.9L1738.0 1182.2L1738.5 1182.7L1739.0 1182.1L1739.5 1183.0L1740.0 1182.1L1740.5 1182.3L1741.0 1182.9L1741.5 1182.3L1742.5 1182.7L1743.5 1182.5L1744.0 1182.8L1744.5 1182.8L1745.0 1183.0L1745.5 1183.0L1746.0 1182.5L1747.0 1182.8L1747.5 1182.7L1748.0 1182.3L1748.5 1182.9L1749.0 1182.7L1749.5 1182.9L1750.0 1182.4L1750.5 1182.1L1751.0 1182.6L1751.5 1182.6L1752.0 1183.1L1752.5 1182.4L1754.0 1182.2L1754.5 1182.9L1755.0 1182.3L1756.0 1182.2L1757.0 1182.4L1757.5 1182.9L1758.0 1182.2L1758.5 1182.3L1759.0 1182.7L1759.5 1182.9L1760.0 1182.8L1760.5 1183.0L1761.0 1183.0L1761.5 1182.4L1762.0 1182.2L1764.0 1182.4L1764.5 1183.2L1765.0 1182.8L1765.5 1183.1L1766.0 1182.3L1766.5 1183.1L1767.0 1182.7L1768.0 1182.3L1768.5 1182.8L1769.5 1183.0L1770.0 1182.7L1770.5 1182.9L1771.0 1182.7L1771.5 1182.9L1772.0 1182.6L1773.0 1183.1L1773.5 1182.2L1774.0 1183.1L1774.5 1182.6L1776.5 1183.0L1777.0 1182.4L1777.5 1183.2L1778.0 1182.5L1778.5 1182.5L1779.5 1183.0L1780.0 1182.3L1780.5 1183.2L1781.0 1182.4L1781.5 1183.2L1782.0 1182.4L1782.5 1183.1L1784.0 1182.6L1784.5 1182.3L1785.0 1183.1L1785.5 1182.9L1786.0 1183.2L1786.5 1182.4L1787.0 1182.3L1788.0 1183.1L1788.5 1182.3L1789.0 1183.1L1789.5 1182.4L1790.0 1182.9L1791.0 1183.2L1791.5 1182.3L1792.0 1183.1L1792.5 1182.9L1793.0 1183.2L1793.5 1182.6L1794.5 1183.3L1795.5 1183.3L1796.0 1182.4L1796.5 1183.3L1797.5 1183.3L1798.0 1182.4L1798.5 1182.5L1799.0 1183.3L1799.5 1183.0L1800.5 1183.0L1802.0 1183.3L1802.5 1182.8L1803.0 1182.8L1803.5 1183.1L1804.5 1182.4L1805.0 1182.6L1805.5 1183.3L1806.5 1182.7L1807.0 1182.7L1808.0 1183.3L1808.5 1182.5L1809.0 1182.5L1809.5 1183.0L1810.0 1182.6L1810.5 1183.3L1811.0 1183.3L1811.5 1182.5L1812.0 1183.3L1813.0 1182.6L1813.5 1183.5L1814.5 1182.8L1817.0 1182.8L1817.5 1183.3L1818.0 1182.8L1818.5 1183.3L1819.0 1183.3L1819.5 1182.8L1820.0 1182.9L1820.5 1183.5L1821.0 1182.7L1821.5 1183.4L1822.0 1182.9L1822.5 1182.8L1823.0 1183.3L1823.5 1182.8L1824.0 1183.5L1825.0 1183.2L1825.5 1183.5L1826.0 1183.1L1826.5 1183.2L1827.5 1182.7L1828.0 1183.2L1828.5 1183.3L1829.0 1182.8L1829.5 1182.7L1830.0 1183.2L1830.5 1183.0L1831.0 1183.4L1831.5 1183.2L1832.0 1182.6L1832.5 1183.1L1833.0 1183.0L1833.5 1183.6L1834.0 1182.8L1835.0 1183.1L1836.0 1182.7L1837.0 1183.5L1837.5 1182.7L1838.5 1183.1L1839.0 1182.7L1839.5 1182.7L1840.5 1183.5L1841.5 1182.8L1842.0 1183.4L1842.5 1182.7L1843.5 1183.5L1844.0 1182.9L1844.5 1183.7L1846.0 1183.7L1846.5 1183.4L1847.0 1183.6L1847.5 1183.1L1848.5 1183.5L1849.0 1183.3L1849.5 1183.4L1850.0 1183.2L1850.5 1183.7L1851.0 1183.7L1852.0 1182.8L1852.5 1183.6L1853.0 1183.8L1853.5 1183.4L1854.0 1183.5L1854.5 1183.0L1855.0 1183.2L1855.5 1183.0L1856.0 1183.6L1856.5 1183.1L1857.0 1183.8L1857.5 1183.1L1858.0 1183.2L1859.0 1183.8L1859.5 1183.5L1860.0 1183.7L1860.5 1182.9L1861.0 1183.7L1861.5 1183.1L1862.0 1182.9L1863.0 1183.5L1864.0 1183.0L1864.5 1183.6L1865.0 1183.1L1865.5 1183.8L1866.5 1183.5L1867.0 1183.0L1867.5 1183.9L1868.0 1183.5L1869.0 1183.8L1870.0 1183.1L1870.5 1183.3L1871.0 1183.9L1871.5 1183.7L1872.0 1183.0L1872.5 1184.0L1873.5 1183.1L1874.0 1183.5L1874.5 1183.1L1875.0 1183.5L1875.5 1183.4L1876.5 1183.8L1877.0 1183.7L1878.0 1183.9L1879.0 1183.1L1880.0 1183.9L1880.5 1183.1L1881.0 1183.6L1881.5 1183.1L1882.0 1183.7L1882.5 1184.0L1884.0 1183.8L1884.5 1183.2L1885.0 1183.7L1886.5 1183.8L1887.0 1183.2L1888.0 1183.4L1888.5 1183.1L1889.0 1184.1L1890.0 1183.2L1891.0 1184.0L1891.5 1183.2L1892.0 1184.0L1894.5 1184.0L1895.5 1183.9L1896.0 1183.6L1896.5 1184.0L1897.0 1183.3L1897.5 1183.8L1899.0 1183.7L1899.5 1184.2L1900.0 1183.4L1900.5 1183.4L1901.5 1183.9L1902.0 1183.3L1902.5 1184.0L1903.0 1183.6L1903.5 1183.9L1904.0 1183.5L1905.5 1184.3L1906.0 1183.6L1906.5 1184.1L1907.0 1183.3L1907.5 1183.8L1909.0 1183.4L1909.5 1183.9L1910.0 1183.6L1910.5 1183.9L1911.0 1183.3L1911.5 1184.2L1912.0 1183.6L1912.5 1183.6L1913.0 1184.3L1914.0 1183.6L1915.5 1183.9L1916.0 1183.5L1916.5 1183.8L1917.5 1184.1L1918.0 1183.9L1919.5 1183.9L1920.0 1183.7L1920.5 1184.0L1921.0 1183.8L1921.5 1184.2L1922.0 1183.8L1922.5 1183.6L1923.0 1184.2L1923.5 1184.3L1924.0 1183.5L1924.5 1184.2L1925.0 1184.3L1925.5 1183.7L1926.0 1183.5L1927.0 1184.3L1928.0 1184.0L1928.5 1184.5L1929.5 1183.7L1930.5 1184.4L1931.0 1183.9L1931.5 1184.4L1932.0 1183.8L1932.5 1183.6L1933.0 1184.5L1933.5 1183.6L1934.5 1183.9L1935.0 1183.6L1935.5 1184.5L1937.0 1183.7L1937.5 1184.4L1938.0 1183.6L1938.5 1184.1L1939.0 1184.1L1939.5 1183.7L1940.0 1184.5L1940.5 1184.3L1941.0 1184.6L1941.5 1183.6L1943.0 1183.7L1944.0 1184.4L1945.0 1183.8L1945.5 1184.6L1946.0 1184.0L1947.0 1183.7L1948.0 1184.4L1948.5 1184.4L1949.5 1183.8L1950.0 1184.1L1951.0 1183.8L1951.5 1184.3L1952.0 1184.3L1952.5 1184.5L1953.0 1184.4L1953.5 1183.8L1954.0 1183.7L1954.5 1184.5L1955.0 1184.6L1955.5 1183.9L1956.0 1184.7L1957.5 1184.1L1958.0 1184.3L1959.5 1184.3L1960.0 1183.8L1960.5 1184.2L1961.0 1184.1L1961.5 1184.5L1962.0 1184.2L1962.5 1184.3L1963.0 1183.8L1963.5 1184.2L1964.0 1184.0L1964.5 1184.2L1965.0 1184.0" fill="none" stroke="#FF0000" stroke-width="4.5" stroke-linejoin="round"/>
<path d="M1108.0 1316.8L1108.5 1316.5L1109.0 1316.9L1109.5 1316.3L1110.0 1316.4L1110.5 1316.1L1111.0 1316.1L1111.5 1316.6L1112.0 1315.6L1112.5 1315.8L1113.0 1315.5L1113.5 1315.5L1114.0 1316.1L1114.5 1315.3L1115.0 1315.5L1115.5 1315.2L1116.0 1315.4L1117.0 1314.6L1117.5 1314.7L1118.0 1314.6L1118.5 1314.8L1119.5 1314.0L1120.0 1314.4L1120.5 1313.9L1121.0 1314.0L1121.5 1313.5L1122.5 1313.9L1123.0 1313.5L1124.0 1313.5L1125.5 1312.8L1126.5 1312.9L1127.0 1312.1L1127.5 1312.8L1128.5 1311.8L1129.5 1311.8L1130.0 1311.4L1131.5 1312.2L1132.0 1312.2L1132.5 1312.7L1133.5 1312.3L1134.0 1313.0L1134.5 1312.9L1135.0 1313.3L1135.5 1313.1L1136.0 1313.5L1136.5 1312.8L1137.0 1313.0L1137.5 1313.9L1138.0 1313.3L1138.5 1314.6L1139.0 1315.0L1139.5 1314.7L1140.0 1315.1L1140.5 1316.3L1141.0 1316.7L1142.5 1317.7L1143.5 1317.8L1144.0 1318.4L1144.5 1318.5L1145.0 1317.7L1145.5 1315.2L1146.0 1310.4L1148.0 1276.3L1148.5 1274.7L1149.0 1279.6L1150.5 1307.9L1151.5 1318.5L1152.0 1320.4L1152.5 1320.5L1153.5 1321.8L1154.0 1321.4L1154.5 1321.6L1155.0 1322.2L1156.0 1322.1L1156.5 1322.3L1157.5 1321.9L1158.5 1322.5L1159.0 1321.8L1159.5 1322.1L1160.0 1322.1L1160.5 1322.8L1161.0 1322.2L1161.5 1322.7L1162.5 1322.5L1163.5 1323.1L1165.0 1322.5L1166.5 1323.2L1167.0 1323.6L1167.5 1322.9L1168.0 1323.6L1168.5 1323.6L1169.0 1323.2L1170.0 1323.0L1170.5 1323.7L1171.0 1323.0L1171.5 1323.4L1172.0 1323.4L1172.5 1323.0L1173.0 1322.8L1173.5 1323.4L1174.0 1322.8L1175.0 1323.8L1175.5 1323.2L1176.5 1322.9L1177.5 1323.1L1178.0 1322.9L1178.5 1323.5L1179.5 1323.5L1180.0 1322.9L1180.5 1323.0L1181.0 1323.7L1181.5 1322.8L1182.5 1323.6L1183.0 1323.0L1183.5 1323.0L1184.0 1323.4L1184.5 1323.0L1186.0 1323.1L1186.5 1323.4L1188.0 1323.8L1188.5 1322.9L1189.0 1323.0L1189.5 1323.8L1190.5 1323.5L1191.0 1323.0L1191.5 1322.9L1192.0 1323.1L1192.5 1323.7L1193.5 1323.1L1194.5 1323.4L1195.5 1322.6L1196.0 1323.2L1197.0 1322.5L1197.5 1321.5L1198.5 1317.5L1199.0 1314.6L1200.0 1311.1L1201.0 1313.7L1202.0 1318.9L1204.0 1322.4L1205.0 1322.1L1205.5 1321.5L1207.5 1321.7L1208.0 1321.1L1208.5 1321.8L1209.0 1321.1L1209.5 1321.5L1210.0 1321.1L1210.5 1321.0L1211.0 1321.5L1211.5 1320.8L1212.5 1321.3L1213.5 1321.1L1214.0 1320.5L1214.5 1320.8L1215.5 1320.4L1216.0 1320.8L1216.5 1320.6L1217.0 1320.8L1218.0 1319.9L1218.5 1320.0L1219.0 1320.3L1220.0 1319.9L1220.5 1319.5L1221.0 1319.5L1222.5 1316.7L1223.0 1312.9L1223.5 1308.3L1225.5 1277.3L1226.0 1274.1L1226.5 1276.0L1228.0 1299.8L1229.0 1311.4L1229.5 1314.0L1230.5 1317.1L1232.5 1316.9L1233.5 1316.6L1234.5 1315.8L1235.0 1316.4L1236.0 1316.2L1236.5 1316.0L1237.0 1315.3L1237.5 1315.8L1238.0 1315.1L1238.5 1315.8L1239.0 1314.8L1240.5 1315.4L1241.5 1314.5L1242.0 1315.0L1242.5 1314.3L1243.5 1314.3L1244.0 1314.6L1244.5 1313.9L1246.5 1313.6L1247.0 1313.6L1248.5 1313.0L1249.0 1313.4L1249.5 1313.4L1250.0 1312.9L1251.0 1313.0L1251.5 1313.3L1252.0 1313.2L1252.5 1312.2L1253.0 1312.9L1253.5 1312.7L1254.0 1312.0L1254.5 1311.9L1255.0 1312.1L1255.5 1311.8L1257.5 1311.7L1258.0 1311.1L1258.5 1311.4L1259.0 1311.2L1259.5 1311.8L1260.0 1310.9L1261.0 1310.9L1261.5 1310.7L1262.0 1311.2L1262.5 1310.3L1263.0 1311.1L1263.5 1310.7L1264.0 1310.7L1264.5 1310.1L1265.0 1310.2L1265.5 1309.8L1266.0 1310.2L1269.0 1307.8L1269.5 1307.0L1270.0 1305.2L1270.5 1302.1L1271.5 1294.7L1273.0 1279.5L1273.5 1276.5L1274.0 1275.8L1274.5 1276.2L1275.0 1279.6L1277.0 1298.6L1278.0 1304.5L1279.0 1306.6L1280.0 1307.6L1280.5 1308.5L1281.0 1307.8L1281.5 1308.6L1283.0 1308.5L1283.5 1308.9L1284.0 1308.2L1284.5 1309.1L1285.0 1308.6L1286.0 1308.3L1286.5 1309.1L1287.0 1308.4L1287.5 1309.2L1288.0 1308.6L1288.5 1309.4L1289.0 1309.1L1289.5 1309.4L1290.0 1308.5L1290.5 1308.8L1291.0 1309.5L1291.5 1308.5L1293.5 1309.2L1294.0 1308.9L1295.5 1308.9L1296.5 1309.4L1297.5 1308.8L1298.0 1309.5L1298.5 1308.8L1299.0 1309.3L1299.5 1309.3L1300.5 1308.8L1301.0 1308.9L1302.0 1309.5L1302.5 1309.5L1303.0 1309.0L1303.5 1309.2L1304.5 1308.8L1305.0 1309.4L1306.5 1308.7L1307.0 1309.2L1307.5 1308.5L1308.0 1309.3L1308.5 1308.5L1309.0 1309.4L1309.5 1308.5L1310.0 1308.5L1310.5 1309.4L1312.0 1308.7L1312.5 1309.2L1313.0 1308.6L1313.5 1309.3L1314.5 1309.1L1315.0 1309.3L1316.0 1309.2L1316.5 1308.3L1317.0 1308.6L1317.5 1308.4L1318.5 1309.1L1319.0 1309.0L1320.5 1308.1L1321.0 1308.7L1321.5 1308.3L1322.0 1308.4L1322.5 1307.9L1323.0 1308.6L1323.5 1307.9L1324.5 1308.1L1325.0 1307.6L1326.0 1308.2L1327.0 1307.0L1327.5 1307.3L1328.5 1307.2L1329.0 1306.7L1329.5 1306.6L1331.0 1303.4L1331.5 1301.6L1332.0 1298.7L1333.0 1289.7L1335.0 1262.6L1336.0 1255.1L1336.5 1255.8L1337.0 1258.5L1340.0 1295.7L1340.5 1299.1L1341.5 1303.6L1343.0 1306.6L1343.5 1307.1L1344.0 1306.9L1344.5 1307.8L1345.0 1308.1L1345.5 1307.7L1346.5 1307.9L1347.0 1307.7L1347.5 1308.4L1348.0 1308.5L1349.0 1308.4L1349.5 1308.8L1350.0 1308.4L1350.5 1308.9L1351.5 1308.8L1352.0 1309.4L1352.5 1309.5L1353.0 1308.9L1353.5 1309.1L1354.0 1308.0L1354.5 1308.1L1355.5 1305.8L1357.0 1301.1L1358.0 1299.4L1358.5 1299.0L1359.0 1298.2L1359.5 1298.1L1360.0 1298.5L1361.5 1302.2L1362.0 1302.0L1362.5 1300.7L1363.5 1287.4L1365.5 1228.9L1366.0 1220.2L1366.5 1218.4L1367.0 1225.3L1369.0 1284.6L1369.5 1294.6L1370.0 1301.3L1370.5 1305.1L1371.5 1309.0L1373.0 1310.8L1373.5 1310.7L1374.0 1311.1L1374.5 1311.3L1375.0 1311.9L1375.5 1311.5L1376.0 1312.1L1376.5 1311.9L1378.5 1313.0L1379.5 1312.7L1380.0 1313.1L1380.5 1312.6L1381.0 1312.8L1381.5 1313.6L1382.0 1312.7L1382.5 1313.0L1383.0 1312.9L1383.5 1313.4L1384.5 1313.9L1385.0 1313.0L1385.5 1313.2L1386.0 1312.1L1387.0 1311.4L1387.5 1311.8L1388.0 1312.6L1389.0 1313.1L1389.5 1314.1L1390.0 1314.1L1391.0 1313.7L1391.5 1314.2L1392.0 1313.9L1392.5 1314.2L1393.0 1313.8L1393.5 1313.7L1394.0 1314.1L1394.5 1312.8L1395.5 1312.1L1396.0 1312.9L1397.0 1313.3L1397.5 1313.9L1398.0 1314.2L1398.5 1314.2L1399.0 1314.5L1399.5 1314.1L1400.0 1314.4L1401.5 1312.9L1402.0 1313.5L1402.5 1313.5L1403.5 1314.7L1404.0 1314.7L1405.0 1315.5L1405.5 1314.9L1406.0 1315.3L1406.5 1315.3L1407.0 1315.0L1408.0 1313.6L1408.5 1312.1L1409.5 1307.4L1410.5 1301.3L1411.0 1299.7L1411.5 1300.0L1412.5 1303.0L1414.5 1313.9L1415.0 1315.1L1415.5 1315.5L1416.5 1317.0L1417.0 1316.8L1417.5 1317.3L1418.0 1317.4L1418.5 1316.9L1419.0 1316.9L1419.5 1317.9L1420.0 1318.0L1420.5 1317.6L1421.0 1317.7L1421.5 1318.1L1422.5 1317.5L1423.0 1318.2L1424.0 1317.7L1424.5 1317.7L1425.0 1318.4L1426.0 1318.0L1426.5 1318.2L1427.0 1318.9L1427.5 1318.1L1428.5 1318.8L1429.5 1319.1L1430.0 1318.7L1431.0 1319.2L1431.5 1319.2L1432.0 1318.7L1432.5 1319.0L1433.0 1318.9L1434.0 1319.6L1434.5 1318.8L1435.0 1319.6L1435.5 1319.0L1436.0 1319.8L1436.5 1319.3L1438.5 1320.1L1439.0 1320.0L1439.5 1320.1L1440.0 1319.5L1440.5 1320.0L1442.0 1319.6L1442.5 1320.6L1443.0 1319.8L1443.5 1320.4L1444.0 1320.7L1444.5 1320.7L1445.0 1320.1L1445.5 1320.6L1446.0 1320.1L1446.5 1320.5L1447.0 1320.2L1448.0 1320.3L1448.5 1321.1L1449.0 1320.4L1449.5 1320.9L1451.0 1321.5L1451.5 1320.6L1452.0 1320.5L1452.5 1320.8L1453.0 1320.8L1453.5 1319.5L1454.0 1319.0L1455.5 1313.1L1456.5 1311.3L1457.0 1311.9L1457.5 1313.3L1458.5 1317.8L1459.5 1321.0L1460.0 1321.2L1460.5 1321.2L1461.0 1322.0L1463.0 1322.5L1463.5 1321.9L1464.5 1322.6L1465.5 1322.4L1466.0 1322.0L1466.5 1322.3L1467.0 1322.0L1467.5 1322.8L1468.0 1322.8L1468.5 1322.1L1469.0 1322.3L1469.5 1323.2L1470.0 1322.9L1470.5 1323.3L1471.0 1322.5L1471.5 1322.8L1472.0 1322.7L1472.5 1323.4L1473.0 1322.8L1473.5 1323.1L1475.0 1323.2L1475.5 1323.6L1476.0 1322.8L1476.5 1322.9L1478.0 1322.2L1478.5 1321.4L1480.0 1322.3L1480.5 1322.3L1481.5 1323.8L1482.5 1324.5L1483.0 1324.4L1483.5 1324.1L1484.0 1324.3L1484.5 1323.9L1485.0 1324.2L1485.5 1323.8L1486.0 1324.2L1486.5 1324.0L1487.0 1324.0L1487.5 1323.1L1488.0 1323.2L1488.5 1322.7L1489.0 1321.2L1489.5 1321.0L1490.0 1319.7L1490.5 1319.3L1491.0 1317.9L1491.5 1318.1L1492.5 1317.3L1494.0 1320.5L1495.0 1321.5L1496.5 1323.7L1497.0 1323.8L1497.5 1324.4L1498.5 1324.9L1499.5 1324.3L1500.0 1325.1L1500.5 1325.0L1501.0 1324.3L1501.5 1324.8L1502.5 1324.8L1503.0 1324.9L1503.5 1324.8L1504.0 1324.9L1504.5 1324.7L1505.0 1325.2L1505.5 1324.3L1506.0 1324.9L1506.5 1324.5L1507.0 1324.9L1507.5 1324.5L1508.0 1324.4L1508.5 1325.2L1509.0 1324.6L1510.0 1324.6L1510.5 1324.9L1511.0 1324.4L1512.0 1325.0L1513.0 1324.9L1513.5 1324.5L1514.5 1325.3L1515.5 1324.6L1516.0 1325.2L1516.5 1324.4L1517.5 1325.2L1518.5 1324.5L1519.0 1325.4L1519.5 1324.5L1520.5 1325.2L1521.0 1324.9L1522.0 1325.4L1522.5 1324.9L1523.0 1325.0L1523.5 1324.5L1524.0 1325.3L1524.5 1324.6L1525.5 1325.3L1526.0 1324.7L1526.5 1325.1L1527.0 1324.6L1527.5 1324.6L1528.0 1324.7L1528.5 1325.5L1529.0 1324.5L1529.5 1325.3L1530.0 1325.4L1530.5 1325.4L1531.0 1324.6L1531.5 1325.0L1532.0 1325.1L1532.5 1324.7L1533.0 1324.9L1533.5 1324.5L1534.0 1325.3L1534.5 1324.5L1535.5 1325.4L1536.0 1325.3L1536.5 1324.7L1538.0 1325.0L1538.5 1324.7L1540.0 1324.8L1540.5 1325.2L1541.0 1325.0L1542.0 1325.0L1543.0 1325.5L1543.5 1324.9L1544.5 1325.3L1545.0 1324.7L1545.5 1325.1L1546.0 1325.0L1546.5 1325.3L1547.0 1324.7L1547.5 1325.5L1548.5 1325.6L1549.0 1325.5L1549.5 1325.0L1550.0 1325.4L1551.5 1325.4L1552.0 1325.0L1552.5 1325.5L1553.0 1325.4L1553.5 1324.8L1554.5 1325.3L1555.0 1324.8L1556.0 1325.4L1556.5 1325.2L1557.5 1325.2L1558.5 1325.3L1559.0 1325.6L1560.0 1325.1L1561.5 1324.8L1562.0 1325.6L1563.0 1324.9L1564.0 1325.6L1564.5 1324.9L1565.5 1325.4L1566.0 1324.8L1566.5 1325.6L1567.0 1325.7L1567.5 1325.0L1568.0 1325.1L1568.5 1324.6L1569.5 1325.3L1570.0 1325.1L1570.5 1324.7L1571.5 1324.4L1572.5 1323.8L1573.5 1322.5L1574.0 1323.0L1574.5 1322.3L1575.0 1322.3L1575.5 1321.9L1576.0 1322.5L1576.5 1322.6L1577.0 1322.1L1577.5 1322.8L1578.0 1322.8L1578.5 1323.5L1579.0 1323.7L1579.5 1323.7L1580.5 1324.1L1581.0 1324.7L1581.5 1324.5L1582.5 1325.5L1583.0 1324.9L1583.5 1325.6L1584.0 1325.0L1584.5 1325.6L1586.5 1325.5L1587.0 1325.2L1587.5 1325.9L1588.5 1325.0L1589.0 1324.9L1589.5 1325.7L1590.0 1325.1L1590.5 1324.9L1591.0 1325.5L1591.5 1325.7L1592.5 1325.4L1593.0 1325.8L1594.0 1325.1L1594.5 1325.1L1595.0 1325.4L1595.5 1325.0L1596.0 1325.8L1596.5 1325.0L1598.0 1325.5L1599.0 1325.5L1599.5 1325.0L1600.0 1325.4L1601.0 1325.6L1601.5 1325.3L1602.0 1325.6L1602.5 1325.2L1603.0 1325.9L1604.0 1325.1L1605.5 1325.5L1606.0 1325.2L1606.5 1325.9L1607.0 1325.4L1607.5 1325.4L1608.0 1326.0L1608.5 1325.8L1609.0 1325.2L1609.5 1325.1L1610.5 1325.9L1612.0 1325.6L1612.5 1325.7L1613.0 1325.2L1614.0 1325.5L1614.5 1325.3L1615.0 1326.0L1615.5 1326.1L1616.5 1325.4L1617.0 1325.8L1617.5 1325.3L1619.0 1325.5L1619.5 1325.3L1620.0 1325.9L1621.0 1325.8L1621.5 1325.2L1622.0 1325.7L1622.5 1325.9L1623.0 1325.6L1623.5 1325.8L1624.0 1325.8L1624.5 1326.1L1625.0 1325.4L1625.5 1326.0L1626.0 1326.1L1626.5 1325.3L1627.0 1325.8L1627.5 1325.8L1628.0 1325.3L1628.5 1325.7L1629.0 1325.7L1630.0 1325.2L1631.0 1326.1L1631.5 1325.6L1632.0 1325.7L1632.5 1326.1L1633.0 1326.1L1633.5 1325.4L1634.5 1326.2L1635.0 1326.1L1635.5 1325.3L1636.0 1326.2L1636.5 1325.4L1637.0 1325.3L1638.0 1326.1L1638.5 1325.2L1639.0 1325.6L1640.0 1324.9L1640.5 1324.2L1641.0 1323.9L1642.0 1323.8L1642.5 1323.0L1643.0 1323.2L1644.0 1323.9L1644.5 1323.6L1645.0 1323.9L1646.0 1325.4L1646.5 1325.4L1647.0 1325.7L1647.5 1325.4L1648.5 1326.2L1649.0 1325.6L1649.5 1326.0L1650.0 1325.3L1650.5 1325.8L1651.0 1325.9L1651.5 1324.8L1652.0 1325.2L1653.5 1324.0L1654.5 1323.8L1655.0 1324.9L1655.5 1324.5L1656.0 1325.5L1657.0 1325.7L1657.5 1325.5L1658.0 1326.2L1658.5 1326.5L1659.5 1326.0L1660.5 1326.8L1661.0 1326.2L1661.5 1326.1L1663.0 1326.6L1664.0 1325.7L1664.5 1325.5L1665.0 1326.1L1665.5 1325.7L1666.0 1324.5L1666.5 1324.7L1667.0 1324.3L1667.5 1324.4L1668.5 1325.1L1669.0 1324.8L1669.5 1325.8L1670.0 1326.0L1670.5 1325.9L1671.0 1326.5L1671.5 1326.3L1672.0 1327.1L1672.5 1326.9L1673.0 1327.5L1673.5 1326.7L1674.5 1327.5L1675.0 1326.9L1675.5 1327.6L1676.0 1327.8L1677.0 1327.6L1677.5 1326.9L1679.0 1327.0L1679.5 1327.7L1680.5 1327.8L1681.0 1327.3L1681.5 1327.8L1682.5 1327.5L1683.0 1326.8L1683.5 1327.8L1684.0 1327.4L1684.5 1327.8L1685.0 1327.8L1686.0 1327.4L1686.5 1327.8L1687.0 1327.0L1687.5 1327.7L1688.5 1327.5L1689.0 1327.6L1689.5 1326.9L1690.5 1327.2L1691.0 1327.7L1691.5 1327.4L1692.0 1327.7L1692.5 1326.9L1694.0 1327.6L1694.5 1327.1L1695.0 1327.2L1695.5 1327.8L1696.0 1327.1L1696.5 1326.9L1697.0 1327.7L1697.5 1327.2L1698.0 1327.8L1698.5 1327.0L1699.0 1327.0L1700.0 1327.2L1701.0 1327.9L1702.0 1327.8L1702.5 1327.0L1703.5 1327.3L1704.0 1327.7L1705.0 1326.9L1705.5 1327.9L1706.0 1327.0L1706.5 1327.5L1707.0 1327.5L1708.0 1327.0L1708.5 1327.6L1710.0 1327.8L1710.5 1327.0L1711.0 1327.6L1711.5 1327.2L1712.0 1327.7L1713.0 1327.7L1713.5 1327.1L1714.0 1327.0L1714.5 1327.9L1715.5 1327.9L1716.0 1327.2L1716.5 1327.6L1717.0 1327.1L1717.5 1327.9L1718.5 1327.3L1719.0 1327.4L1719.5 1327.0L1720.5 1327.7L1721.0 1327.7L1721.5 1327.1L1722.5 1327.7L1723.0 1327.7L1723.5 1327.2L1724.0 1327.3L1724.5 1327.2L1725.0 1327.4L1726.0 1327.4L1726.5 1327.9L1727.0 1327.8L1727.5 1327.1L1728.0 1327.7L1729.0 1327.1L1730.5 1327.3L1731.5 1327.1L1732.0 1327.6L1732.5 1327.4L1733.0 1328.0L1733.5 1327.9L1734.0 1327.5L1734.5 1327.8L1735.0 1327.2L1735.5 1328.0L1736.0 1327.2L1737.0 1327.7L1737.5 1327.7L1738.0 1327.1L1738.5 1327.2L1739.0 1328.0L1739.5 1327.1L1740.0 1328.0L1741.0 1327.2L1741.5 1327.7L1742.0 1327.2L1742.5 1327.4L1743.0 1327.9L1743.5 1327.6L1744.0 1328.0L1745.5 1327.1L1746.0 1328.0L1746.5 1328.1L1748.0 1327.3L1748.5 1327.3L1749.0 1328.0L1749.5 1327.2L1750.0 1327.5L1750.5 1327.4L1751.0 1327.9L1751.5 1327.5L1752.0 1327.8L1753.0 1327.3L1753.5 1327.5L1754.0 1328.1L1754.5 1327.6L1755.0 1327.5L1756.0 1327.9L1757.0 1327.5L1757.5 1328.1L1759.0 1327.6L1759.5 1327.8L1760.0 1327.5L1761.0 1328.1L1762.0 1327.8L1762.5 1328.0L1763.0 1327.5L1763.5 1328.0L1764.0 1328.1L1765.0 1327.9L1765.5 1327.4L1766.0 1328.0L1766.5 1327.5L1767.0 1328.0L1767.5 1327.5L1768.0 1328.1L1768.5 1327.3L1769.0 1327.7L1771.0 1327.5L1771.5 1328.1L1772.0 1327.6L1772.5 1328.1L1773.0 1327.7L1773.5 1328.1L1774.5 1327.7L1775.0 1327.9L1776.5 1327.6L1777.0 1328.1L1778.0 1327.4L1778.5 1327.9L1779.0 1327.8L1780.0 1328.1L1780.5 1327.5L1781.0 1327.4L1781.5 1328.1L1782.0 1327.5L1782.5 1328.1L1783.0 1327.5L1783.5 1327.3L1784.0 1327.6L1784.5 1327.5L1785.0 1327.6L1786.0 1328.1L1786.5 1327.5L1787.0 1327.3L1787.5 1328.0L1788.0 1328.2L1788.5 1327.4L1789.0 1327.8L1790.0 1328.2L1790.5 1327.7L1791.0 1327.7L1791.5 1328.3L1792.0 1327.7L1792.5 1327.6L1793.0 1328.1L1793.5 1328.1L1794.0 1327.5L1794.5 1327.8L1795.0 1327.6L1795.5 1327.9L1796.0 1327.3L1796.5 1328.0L1797.0 1328.2L1798.0 1327.4L1798.5 1327.6L1799.0 1328.2L1799.5 1327.4L1800.0 1328.1L1800.5 1327.5L1801.0 1328.0L1801.5 1327.4L1802.0 1327.6L1802.5 1328.3L1803.0 1327.4L1804.0 1327.6L1804.5 1328.2L1805.0 1327.9L1806.0 1327.8L1806.5 1328.3L1808.5 1328.2L1809.0 1327.6L1809.5 1327.9L1810.0 1327.8L1810.5 1328.0L1811.0 1327.5L1811.5 1328.3L1812.0 1328.4L1812.5 1328.1L1813.5 1328.1L1814.0 1327.5L1814.5 1328.3L1815.0 1327.5L1815.5 1328.5L1816.0 1327.6L1816.5 1328.4L1817.5 1327.6L1818.5 1327.9L1819.0 1327.6L1820.0 1328.0L1820.5 1328.5L1821.0 1327.7L1822.0 1328.3L1822.5 1327.7L1823.0 1328.2L1823.5 1328.0L1824.0 1328.3L1824.5 1328.0L1825.0 1328.4L1826.5 1328.0L1827.0 1328.2L1827.5 1327.8L1828.5 1328.4L1829.0 1328.3L1829.5 1327.7L1830.0 1328.3L1830.5 1327.9L1831.0 1328.0L1831.5 1328.3L1832.0 1328.3L1832.5 1327.9L1833.0 1328.1L1833.5 1327.7L1835.0 1328.6L1836.0 1328.1L1836.5 1328.6L1837.5 1327.8L1838.0 1327.8L1838.5 1328.2L1839.5 1327.9L1840.0 1328.4L1840.5 1328.5L1841.0 1327.8L1842.5 1328.7L1843.5 1328.1L1844.0 1328.2L1844.5 1327.9L1845.0 1328.4L1845.5 1327.9L1846.0 1328.5L1846.5 1328.0L1847.0 1328.5L1847.5 1328.4L1848.0 1328.7L1848.5 1327.8L1849.0 1328.2L1849.5 1328.3L1850.0 1328.0L1850.5 1328.8L1851.5 1328.5L1852.0 1328.7L1852.5 1327.8L1853.0 1328.6L1853.5 1328.8L1854.5 1328.8L1855.5 1327.9L1856.0 1328.2L1856.5 1328.1L1857.0 1328.6L1857.5 1328.1L1858.0 1328.1L1858.5 1328.8L1859.0 1328.4L1860.5 1327.9L1861.0 1328.8L1862.0 1327.9L1862.5 1328.4L1863.0 1328.5L1863.5 1328.2L1864.0 1328.8L1864.5 1327.9L1865.0 1328.7L1865.5 1327.9L1866.0 1328.6L1866.5 1328.0L1867.0 1328.3L1868.0 1328.3L1868.5 1328.8L1870.5 1328.9L1871.5 1328.5L1872.5 1328.6L1873.5 1328.1L1874.0 1328.9L1874.5 1328.9L1876.0 1328.3L1876.5 1329.0L1877.0 1328.5L1878.0 1328.7L1878.5 1328.2L1879.5 1328.8L1880.0 1328.2L1880.5 1328.3L1881.0 1328.8L1881.5 1328.9L1882.0 1328.3L1882.5 1329.0L1883.0 1328.2L1883.5 1328.7L1884.0 1328.2L1884.5 1328.3L1885.0 1329.0L1885.5 1328.9L1886.0 1328.1L1886.5 1328.9L1887.0 1328.4L1888.0 1329.1L1888.5 1328.3L1889.0 1328.9L1890.0 1328.3L1890.5 1329.0L1891.5 1328.5L1892.0 1329.0L1892.5 1328.8L1893.0 1328.9L1893.5 1328.3L1894.0 1328.4L1894.5 1328.9L1895.0 1328.4L1895.5 1329.0L1896.0 1328.7L1896.5 1329.1L1897.0 1328.5L1898.0 1329.1L1898.5 1328.3L1899.0 1328.5L1899.5 1329.0L1900.0 1328.3L1901.0 1328.8L1901.5 1328.8L1902.0 1328.5L1902.5 1329.1L1903.0 1329.2L1903.5 1328.6L1904.0 1329.2L1904.5 1329.2L1905.0 1328.3L1905.5 1328.7L1907.0 1328.7L1907.5 1328.4L1908.0 1329.1L1910.0 1328.5L1910.5 1329.2L1911.0 1329.2L1911.5 1328.6L1912.0 1328.7L1912.5 1329.0L1913.0 1328.8L1913.5 1329.3L1914.5 1328.4L1915.0 1328.9L1915.5 1328.9L1916.5 1328.5L1918.5 1329.3L1919.0 1328.7L1919.5 1328.5L1920.0 1328.5L1920.5 1329.0L1921.5 1328.8L1922.0 1328.5L1922.5 1329.2L1923.0 1328.8L1923.5 1329.2L1924.0 1328.5L1924.5 1329.2L1925.5 1329.2L1926.0 1328.6L1926.5 1329.2L1927.0 1328.6L1927.5 1329.2L1928.0 1328.5L1929.0 1328.9L1930.0 1328.5L1931.0 1328.5L1932.0 1329.3L1933.0 1328.7L1933.5 1329.4L1934.5 1329.1L1935.0 1328.6L1936.0 1329.5L1937.0 1328.9L1937.5 1328.9L1938.0 1329.5L1938.5 1328.6L1939.0 1329.2L1939.5 1328.8L1940.0 1328.7L1940.5 1329.0L1941.5 1328.9L1942.0 1329.3L1942.5 1328.7L1943.0 1329.2L1944.0 1329.3L1944.5 1329.0L1945.5 1329.6L1946.0 1329.5L1946.5 1329.2L1947.0 1329.5L1947.5 1328.7L1948.0 1329.3L1949.5 1329.6L1950.0 1329.5L1950.5 1329.0L1951.0 1329.4L1951.5 1329.3L1952.0 1329.7L1953.0 1329.3L1953.5 1328.8L1954.0 1328.8L1955.0 1329.6L1955.5 1328.9L1956.5 1329.1L1957.5 1329.6L1958.0 1329.2L1959.0 1329.6L1959.5 1329.0L1960.0 1329.6L1960.5 1329.6L1961.0 1329.6L1961.5 1328.9L1962.0 1329.5L1963.0 1329.2L1963.5 1329.6L1964.0 1329.5L1964.5 1329.0L1965.0 1328.8" fill="none" stroke="#000000" stroke-width="4.5" stroke-linejoin="round"/>
<rect x="742.8" y="61.5" width="206.1" height="59.8" fill="#fff" stroke="#b6b6b6" stroke-width="3.6"/>
<line x1="747.3" y1="91.4" x2="848.7" y2="91.4" stroke="#FF8F1A" stroke-width="5"/>
<text transform="translate(857.0,107.0) scale(1,1.04)" font-size="44" fill="#1e1e1e" stroke="#1e1e1e" stroke-width="0.5"><tspan>THF</tspan></text>
<rect x="678.0" y="215.7" width="243.0" height="69.0" fill="#fff" stroke="#b6b6b6" stroke-width="3.6"/>
<line x1="682.5" y1="245.7" x2="783.7" y2="245.7" stroke="#FF00FF" stroke-width="5"/>
<text transform="translate(793.7,260.7) scale(1,1.04)" font-size="44" fill="#1e1e1e" stroke="#1e1e1e" stroke-width="0.5"><tspan>CHCl</tspan><tspan font-size="31" dy="13">2</tspan></text>
<rect x="698.2" y="371.9" width="242.9" height="69.3" fill="#fff" stroke="#b6b6b6" stroke-width="3.6"/>
<line x1="703.8" y1="402.0" x2="804.6" y2="402.0" stroke="#FFFF00" stroke-width="5"/>
<text transform="translate(813.8,416.7) scale(1,1.04)" font-size="44" fill="#1e1e1e" stroke="#1e1e1e" stroke-width="0.5"><tspan>CHCl</tspan><tspan font-size="31" dy="13">3</tspan></text>
<rect x="675.0" y="538.0" width="272.2" height="60.7" fill="#fff" stroke="#b6b6b6" stroke-width="3.6"/>
<line x1="681.0" y1="568.3" x2="780.0" y2="568.3" stroke="#A0109A" stroke-width="5"/>
<text transform="translate(791.5,583.7) scale(1,1.04)" font-size="44" fill="#1e1e1e" stroke="#1e1e1e" stroke-width="0.5"><tspan>Hexane</tspan></text>
<rect x="654.3" y="700.5" width="264.7" height="69.7" fill="#fff" stroke="#b6b6b6" stroke-width="3.6"/>
<line x1="659.5" y1="730.8" x2="759.2" y2="730.8" stroke="#00FF00" stroke-width="5"/>
<text transform="translate(770.0,745.5) scale(1,1.04)" font-size="44" fill="#1e1e1e" stroke="#1e1e1e" stroke-width="0.5"><tspan>CH</tspan><tspan font-size="31" dy="13">3</tspan><tspan dy="-13">CN</tspan></text>
<rect x="701.9" y="866.8" width="247.8" height="59.5" fill="#fff" stroke="#b6b6b6" stroke-width="3.6"/>
<line x1="706.8" y1="896.9" x2="806.9" y2="896.9" stroke="#0000FF" stroke-width="5"/>
<text transform="translate(817.5,911.6) scale(1,1.04)" font-size="44" fill="#1e1e1e" stroke="#1e1e1e" stroke-width="0.5"><tspan>MeOH</tspan></text>
<rect x="706.8" y="1023.3" width="228.9" height="60.2" fill="#fff" stroke="#b6b6b6" stroke-width="3.6"/>
<line x1="713.0" y1="1053.7" x2="813.2" y2="1053.7" stroke="#FF0000" stroke-width="5"/>
<text transform="translate(824.5,1068.8) scale(1,1.04)" font-size="44" fill="#1e1e1e" stroke="#1e1e1e" stroke-width="0.5"><tspan>EtOH</tspan></text>
<rect x="498.4" y="1179.8" width="452.0" height="60.0" fill="#fff" stroke="#b6b6b6" stroke-width="3.6"/>
<line x1="503.3" y1="1209.7" x2="603.7" y2="1209.7" stroke="#303030" stroke-width="5"/>
<text transform="translate(614.0,1225.0) scale(1,1.04)" font-size="44" letter-spacing="0.28" fill="#1e1e1e" stroke="#1e1e1e" stroke-width="0.5"><tspan>COF-S7, As-syn.</tspan></text>
<rect x="1735.6" y="59.0" width="206.4" height="60.6" fill="#fff" stroke="#b6b6b6" stroke-width="3.6"/>
<line x1="1740.4" y1="89.6" x2="1841.2" y2="89.6" stroke="#000080" stroke-width="5"/>
<text transform="translate(1850.0,104.6) scale(1,1.04)" font-size="44" fill="#1e1e1e" stroke="#1e1e1e" stroke-width="0.5"><tspan>THF</tspan></text>
<rect x="1690.5" y="201.9" width="244.3" height="68.6" fill="#fff" stroke="#b6b6b6" stroke-width="3.6"/>
<line x1="1696.0" y1="232.0" x2="1796.9" y2="232.0" stroke="#FF0080" stroke-width="5"/>
<text transform="translate(1807.5,246.7) scale(1,1.04)" font-size="44" fill="#1e1e1e" stroke="#1e1e1e" stroke-width="0.5"><tspan>CHCl</tspan><tspan font-size="31" dy="13">2</tspan></text>
<rect x="1690.5" y="343.4" width="244.3" height="68.6" fill="#fff" stroke="#b6b6b6" stroke-width="3.6"/>
<line x1="1696.0" y1="373.5" x2="1797.0" y2="373.5" stroke="#000080" stroke-width="5"/>
<text transform="translate(1807.5,388.9) scale(1,1.04)" font-size="44" fill="#1e1e1e" stroke="#1e1e1e" stroke-width="0.5"><tspan>CH</tspan><tspan font-size="31" dy="13">3</tspan><tspan dy="-13">Cl</tspan></text>
<rect x="1660.8" y="494.0" width="282.9" height="61.2" fill="#fff" stroke="#b6b6b6" stroke-width="3.6"/>
<line x1="1666.3" y1="525.3" x2="1767.0" y2="525.3" stroke="#FF8000" stroke-width="5"/>
<text transform="translate(1776.6,540.4) scale(1,1.04)" font-size="44" fill="#1e1e1e" stroke="#1e1e1e" stroke-width="0.5"><tspan>Acetone</tspan></text>
<rect x="1675.0" y="637.7" width="266.2" height="68.3" fill="#fff" stroke="#b6b6b6" stroke-width="3.6"/>
<line x1="1681.0" y1="667.7" x2="1781.5" y2="667.7" stroke="#FFFF00" stroke-width="5"/>
<text transform="translate(1792.2,682.0) scale(1,1.04)" font-size="44" fill="#1e1e1e" stroke="#1e1e1e" stroke-width="0.5"><tspan>CH</tspan><tspan font-size="31" dy="13">3</tspan><tspan dy="-13">CN</tspan></text>
<rect x="1676.5" y="785.0" width="274.5" height="60.7" fill="#fff" stroke="#b6b6b6" stroke-width="3.6"/>
<line x1="1681.7" y1="815.3" x2="1782.2" y2="815.3" stroke="#0000FF" stroke-width="5"/>
<text transform="translate(1793.0,830.7) scale(1,1.04)" font-size="44" fill="#1e1e1e" stroke="#1e1e1e" stroke-width="0.5"><tspan>Hexane</tspan></text>
<rect x="1716.9" y="933.2" width="230.1" height="60.5" fill="#fff" stroke="#b6b6b6" stroke-width="3.6"/>
<line x1="1722.0" y1="963.8" x2="1824.2" y2="963.8" stroke="#00FF00" stroke-width="5"/>
<text transform="translate(1834.5,978.7) scale(1,1.04)" font-size="44" fill="#1e1e1e" stroke="#1e1e1e" stroke-width="0.5"><tspan>EtOH</tspan></text>
<rect x="1696.8" y="1069.1" width="248.5" height="60.9" fill="#fff" stroke="#b6b6b6" stroke-width="3.6"/>
<line x1="1701.7" y1="1099.9" x2="1802.5" y2="1099.9" stroke="#FF0000" stroke-width="5"/>
<text transform="translate(1813.0,1114.6) scale(1,1.04)" font-size="44" fill="#1e1e1e" stroke="#1e1e1e" stroke-width="0.5"><tspan>MeOH</tspan></text>
<rect x="1474.8" y="1220.2" width="478.6" height="60.7" fill="#fff" stroke="#b6b6b6" stroke-width="3.6"/>
<line x1="1480.4" y1="1250.0" x2="1579.8" y2="1250.0" stroke="#303030" stroke-width="5"/>
<text transform="translate(1590.6,1266.1) scale(1,1.04)" font-size="44" letter-spacing="0.28" fill="#1e1e1e" stroke="#1e1e1e" stroke-width="0.5"><tspan>COF-S12, As-syn.</tspan></text>
<line x1="120.0" y1="1334.0" x2="120.0" y2="1316.0" stroke="#333" stroke-width="3.5"/>
<line x1="180.8" y1="1334.0" x2="180.8" y2="1324.0" stroke="#333" stroke-width="3.5"/>
<line x1="241.6" y1="1334.0" x2="241.6" y2="1316.0" stroke="#333" stroke-width="3.5"/>
<line x1="302.5" y1="1334.0" x2="302.5" y2="1324.0" stroke="#333" stroke-width="3.5"/>
<line x1="363.3" y1="1334.0" x2="363.3" y2="1316.0" stroke="#333" stroke-width="3.5"/>
<line x1="424.1" y1="1334.0" x2="424.1" y2="1324.0" stroke="#333" stroke-width="3.5"/>
<line x1="484.9" y1="1334.0" x2="484.9" y2="1316.0" stroke="#333" stroke-width="3.5"/>
<line x1="545.8" y1="1334.0" x2="545.8" y2="1324.0" stroke="#333" stroke-width="3.5"/>
<line x1="606.6" y1="1334.0" x2="606.6" y2="1316.0" stroke="#333" stroke-width="3.5"/>
<line x1="667.4" y1="1334.0" x2="667.4" y2="1324.0" stroke="#333" stroke-width="3.5"/>
<line x1="728.2" y1="1334.0" x2="728.2" y2="1316.0" stroke="#333" stroke-width="3.5"/>
<line x1="789.0" y1="1334.0" x2="789.0" y2="1324.0" stroke="#333" stroke-width="3.5"/>
<line x1="849.9" y1="1334.0" x2="849.9" y2="1316.0" stroke="#333" stroke-width="3.5"/>
<line x1="910.7" y1="1334.0" x2="910.7" y2="1324.0" stroke="#333" stroke-width="3.5"/>
<line x1="971.5" y1="1334.0" x2="971.5" y2="1316.0" stroke="#333" stroke-width="3.5"/>
<text transform="translate(120.0,1379.5) scale(1,1.04)" font-size="36.5" text-anchor="middle" fill="#222" stroke="#222" stroke-width="0.3">5</text>
<text transform="translate(241.6,1379.5) scale(1,1.04)" font-size="36.5" text-anchor="middle" fill="#222" stroke="#222" stroke-width="0.3">10</text>
<text transform="translate(363.3,1379.5) scale(1,1.04)" font-size="36.5" text-anchor="middle" fill="#222" stroke="#222" stroke-width="0.3">15</text>
<text transform="translate(484.9,1379.5) scale(1,1.04)" font-size="36.5" text-anchor="middle" fill="#222" stroke="#222" stroke-width="0.3">20</text>
<text transform="translate(606.6,1379.5) scale(1,1.04)" font-size="36.5" text-anchor="middle" fill="#222" stroke="#222" stroke-width="0.3">25</text>
<text transform="translate(728.2,1379.5) scale(1,1.04)" font-size="36.5" text-anchor="middle" fill="#222" stroke="#222" stroke-width="0.3">30</text>
<text transform="translate(849.9,1379.5) scale(1,1.04)" font-size="36.5" text-anchor="middle" fill="#222" stroke="#222" stroke-width="0.3">35</text>
<text transform="translate(971.5,1379.5) scale(1,1.04)" font-size="36.5" text-anchor="middle" fill="#222" stroke="#222" stroke-width="0.3">40</text>
<rect x="120.0" y="32.5" width="851.5" height="1301.5" fill="none" stroke="#3a3a3a" stroke-width="4.2"/>
<text transform="translate(545.2,1471.5) scale(1,1.02)" font-size="71.7" text-anchor="middle" fill="#000" stroke="#000" stroke-width="0.4">2Theta/ degree</text>
<text transform="translate(69.0,723.0) rotate(-90)" x="0" y="0" font-size="71.5" text-anchor="middle" fill="#000" stroke="#000" stroke-width="0.4">Intensity/ a.u</text>
<text x="160.5" y="92.5" font-size="42.5" fill="#000" stroke="#000" stroke-width="1.0">(<tspan dx="2" font-weight="bold" font-size="41.5" stroke-width="0.3">a</tspan><tspan dx="3">)</tspan></text>
<line x1="1108.0" y1="1350.5" x2="1108.0" y2="1334.0" stroke="#333" stroke-width="3.5"/>
<line x1="1169.2" y1="1350.5" x2="1169.2" y2="1342.0" stroke="#333" stroke-width="3.5"/>
<line x1="1230.4" y1="1350.5" x2="1230.4" y2="1334.0" stroke="#333" stroke-width="3.5"/>
<line x1="1291.6" y1="1350.5" x2="1291.6" y2="1342.0" stroke="#333" stroke-width="3.5"/>
<line x1="1352.9" y1="1350.5" x2="1352.9" y2="1334.0" stroke="#333" stroke-width="3.5"/>
<line x1="1414.1" y1="1350.5" x2="1414.1" y2="1342.0" stroke="#333" stroke-width="3.5"/>
<line x1="1475.3" y1="1350.5" x2="1475.3" y2="1334.0" stroke="#333" stroke-width="3.5"/>
<line x1="1536.5" y1="1350.5" x2="1536.5" y2="1342.0" stroke="#333" stroke-width="3.5"/>
<line x1="1597.7" y1="1350.5" x2="1597.7" y2="1334.0" stroke="#333" stroke-width="3.5"/>
<line x1="1658.9" y1="1350.5" x2="1658.9" y2="1342.0" stroke="#333" stroke-width="3.5"/>
<line x1="1720.1" y1="1350.5" x2="1720.1" y2="1334.0" stroke="#333" stroke-width="3.5"/>
<line x1="1781.4" y1="1350.5" x2="1781.4" y2="1342.0" stroke="#333" stroke-width="3.5"/>
<line x1="1842.6" y1="1350.5" x2="1842.6" y2="1334.0" stroke="#333" stroke-width="3.5"/>
<line x1="1903.8" y1="1350.5" x2="1903.8" y2="1342.0" stroke="#333" stroke-width="3.5"/>
<line x1="1965.0" y1="1350.5" x2="1965.0" y2="1334.0" stroke="#333" stroke-width="3.5"/>
<text transform="translate(1108.0,1396.0) scale(1,1.04)" font-size="36.5" text-anchor="middle" fill="#222" stroke="#222" stroke-width="0.3">5</text>
<text transform="translate(1230.4,1396.0) scale(1,1.04)" font-size="36.5" text-anchor="middle" fill="#222" stroke="#222" stroke-width="0.3">10</text>
<text transform="translate(1352.9,1396.0) scale(1,1.04)" font-size="36.5" text-anchor="middle" fill="#222" stroke="#222" stroke-width="0.3">15</text>
<text transform="translate(1475.3,1396.0) scale(1,1.04)" font-size="36.5" text-anchor="middle" fill="#222" stroke="#222" stroke-width="0.3">20</text>
<text transform="translate(1597.7,1396.0) scale(1,1.04)" font-size="36.5" text-anchor="middle" fill="#222" stroke="#222" stroke-width="0.3">25</text>
<text transform="translate(1720.1,1396.0) scale(1,1.04)" font-size="36.5" text-anchor="middle" fill="#222" stroke="#222" stroke-width="0.3">30</text>
<text transform="translate(1842.6,1396.0) scale(1,1.04)" font-size="36.5" text-anchor="middle" fill="#222" stroke="#222" stroke-width="0.3">35</text>
<text transform="translate(1965.0,1396.0) scale(1,1.04)" font-size="36.5" text-anchor="middle" fill="#222" stroke="#222" stroke-width="0.3">40</text>
<rect x="1108.0" y="44.5" width="857.0" height="1306.0" fill="none" stroke="#3a3a3a" stroke-width="4.2"/>
<text transform="translate(1536.2,1490.0) scale(1,1.02)" font-size="71.7" text-anchor="middle" fill="#000" stroke="#000" stroke-width="0.4">2Theta/ degree</text>
<text transform="translate(1058.0,821.3) rotate(-90)" x="0" y="0" font-size="71.5" text-anchor="middle" fill="#000" stroke="#000" stroke-width="0.4">Intensity/ a.u</text>
<text x="1148.5" y="92.5" font-size="42.5" fill="#000" stroke="#000" stroke-width="1.0">(<tspan dx="2" font-weight="bold" font-size="41.5" stroke-width="0.3">b</tspan><tspan dx="3">)</tspan></text>
</g>
</svg>
</body></html>
